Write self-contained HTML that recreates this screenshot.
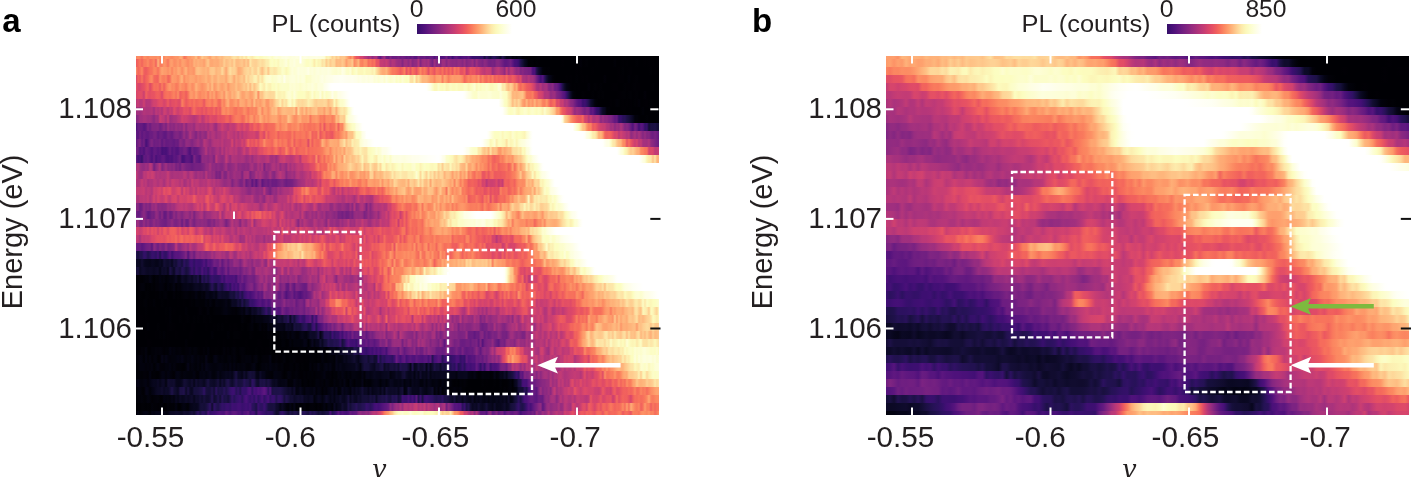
<!DOCTYPE html>
<html><head><meta charset="utf-8"><title>PL maps</title>
<style>
html,body{margin:0;padding:0;background:#fff}
body{width:1412px;height:477px;position:relative;overflow:hidden;font-family:"Liberation Sans",sans-serif}
.hm{position:absolute;overflow:hidden;background:#000}
.hm i{position:absolute;left:0;right:0;display:block}
svg{position:absolute;left:0;top:0}
svg text{font-family:"Liberation Sans",sans-serif;fill:#231f20}
svg text.nu{font-family:"Liberation Serif",serif;font-style:italic}
</style></head><body>
<div class="hm" style="left:135.5px;top:56.0px;width:523.0px;height:359.0px"><i style="top:0px;height:3.3px;background:linear-gradient(90deg,#fb8560,#fc8e64,#fb8761,#f7705c,#fd9266,#fc8c63,#fa7f5e,#fc9065,#fc8e64,#fc8e64,#fc8c63,#fd9668,#fb835f,#fc8c63,#fc8961,#fd9a6a,#fd9266,#fc8e64,#fc8961,#fd9266,#fd9869,#fd9467,#feac76,#feaa74,#f7725c,#fa7f5e,#fd9b6b,#fd9869,#fea36f,#fea571,#fec488,#fd9668,#fea571,#fecc8f,#feb97f,#febb81,#feac76,#fe9d6c,#febb81,#febd82,#feac76,#feb77e,#fec287,#feb77e,#fec88c,#fecd90,#fecd90,#feca8d,#fddc9e,#fde5a7,#fde0a1,#fed395,#fcecae,#fddea0,#fcf4b6,#fde0a1,#fcf9bb,#fcf2b4,#fde9aa,#fcf6b8,#fcfdbf,#fcfdc3,#fcf9bb,#fcfbbd,#fcfdc9,#fcfdc6,#fcfdce,#fdfed4,#fcfdc5,#fdfed5,#fdfedd,#fdfed6,#fdfed5,#fdfee0,#fdfedf,#fefee3,#fdfede,#fdfed9,#fdfedf,#fdfedd,#fefee2,#fdfee0,#fdfed8,#fdfeda,#fefee3,#fdfee2,#fdfedc,#fdfedf,#fdfee1,#fdfee1,#fefee3,#fdfee0,#fdfedf,#fdfedc,#fdfed7,#fceeb0,#fcf4b6,#fdebac,#fecf92,#fde0a1,#feca8d,#fed89a,#fec287,#fec68a,#fec88c,#feb47b,#fd9869,#fb835f,#fea16e,#f7705c,#ea5661,#e75263,#d6456c,#d5446d,#c03a76,#b73779,#a3307e,#ae347b,#942c80,#a5317e,#ab337c,#792282,#651a80,#882781,#9e2f7f,#6e1e81,#681c81,#7e2482,#6a1c81,#6d1d81,#6d1d81,#762181,#6a1c81,#721f81,#6b1d81,#621980,#681c81,#5f187f,#6a1c81,#5a167e,#5a167e,#792282,#651a80,#651a80,#6b1d81,#5f187f,#601880,#681c81,#651a80,#52137c,#6a1c81,#57157e,#51127c,#51127c,#57157e,#701f81,#4c117a,#5c167f,#3d0f71,#57157e,#601880,#4f127b,#471078,#51127c,#54137d,#51127c,#5f187f,#451077,#36106b,#390f6e,#38106c,#36106b,#311165,#311165,#180f3d,#331067,#1e1149,#160f3b,#251255,#29115a,#1d1147,#160f3b,#0c0926,#221150,#120d31,#06051a,#06051a,#07061c,#02020b,#040414,#02020b,#040414,#03030f,#000004,#010106,#000004,#010005,#000004,#000004,#000004,#010106,#010108,#000004,#000004,#000004,#000004,#000004,#010108,#000004,#000004,#000004,#000004,#000004,#000004,#000004,#000004,#000004,#000004,#000004,#000004,#000004,#010005,#000004,#000004,#000004,#000004,#000004,#000004,#000004,#000004,#000004,#000004,#000004,#000004,#000004,#000004,#000004,#010005,#000004,#000004,#000004,#000004,#000004,#000004,#010106,#000004,#000004,#010005,#000004,#000004,#000004,#000004,#000004,#000004,#010005,#000004,#000004,#000004,#000004,#000004,#000004,#010005)"></i><i style="top:3px;height:8.3px;background:linear-gradient(90deg,#ee5b5e,#f3655c,#f9785d,#f2645c,#f97b5d,#f97b5d,#fc8c63,#f7725c,#f9785d,#fc8961,#f1605d,#feb67c,#fa7d5e,#fa7d5e,#fd9869,#fc8c63,#f8745c,#fd9a6a,#fe9f6d,#fc8c63,#fc9065,#fe9f6d,#fc8a62,#fea16e,#fe9f6d,#fd9467,#fc8a62,#fe9d6c,#fd9467,#feb27a,#fea772,#feb27a,#fea973,#feac76,#fe9d6c,#feb67c,#fec88c,#fea973,#fea772,#feae77,#feac76,#feaa74,#feb97f,#feb47b,#fecf92,#febb81,#fec287,#fecd90,#febd82,#fed89a,#febb81,#febb81,#fec287,#fec88c,#feb77e,#fecd90,#feb77e,#fde9aa,#fed597,#fed194,#fecf92,#fdda9c,#fde2a3,#fdda9c,#fde0a1,#fcecae,#fcecae,#fcfdbf,#fcfdc6,#fcfbbd,#fcfdc5,#fcf7b9,#fcfdcd,#fcfdca,#fdfdd2,#fdfedd,#fcfdc7,#fdfeda,#fdfed7,#fdfee1,#fdfed5,#fdfed5,#fdfed6,#fdfed5,#fcfdce,#fcfdc3,#fcfdc2,#fcfdcc,#fcfdc0,#fdebac,#fcfdbf,#fcf4b6,#fcf6b8,#fde2a3,#fcecae,#fecc8f,#fde0a1,#feca8d,#fed799,#fed799,#feb77e,#febd82,#feb97f,#fec88c,#febd82,#fe9d6c,#feb47b,#feb67c,#fec88c,#fc8c63,#fd9b6b,#feb67c,#fb8560,#fa7f5e,#fd9266,#fc9065,#f66e5c,#f9785d,#f4695c,#f8745c,#e85362,#e85362,#c53c74,#c43c75,#bd3977,#c73d73,#ba3878,#a3307e,#b2357b,#ae347b,#9e2f7f,#982d80,#982d80,#832681,#9c2e7f,#9c2e7f,#8e2a81,#a1307e,#862781,#902a81,#912b81,#b2357b,#812581,#9c2e7f,#a1307e,#992d80,#a5317e,#882781,#762181,#9c2e7f,#832681,#8e2a81,#812581,#9e2f7f,#9b2e7f,#862781,#9b2e7f,#902a81,#8c2981,#8e2a81,#892881,#942c80,#902a81,#862781,#982d80,#812581,#8c2981,#8e2a81,#9b2e7f,#802582,#9e2f7f,#882781,#832681,#7c2382,#8c2981,#842681,#752181,#732081,#782281,#732081,#862781,#862781,#7b2382,#6e1e81,#601880,#601880,#671b80,#721f81,#5c167f,#471078,#451077,#390f6e,#20114b,#140e36,#090720,#040414,#000004,#010106,#010106,#000004,#010106,#010005,#000004,#000004,#000004,#000004,#000004,#000004,#000004,#000004,#000004,#000004,#000004,#010005,#000004,#000004,#000004,#000004,#000004,#000004,#010005,#000004,#020109,#000004,#010005,#010106,#000004,#000004,#000004,#000004,#010005,#000004,#000004,#000004,#000004,#000004,#000004,#000004,#000004,#010108,#000004,#000004,#000004,#010005,#000004,#010005,#000004,#000004,#000004,#000004,#010106,#000004,#000004,#000004,#010005,#000004,#010005,#000004,#010005,#000004,#000004,#010106)"></i><i style="top:11px;height:8.3px;background:linear-gradient(90deg,#fc9065,#f2645c,#f7725c,#fc8961,#f1605d,#ed5a5f,#f3655c,#f7725c,#f8745c,#fc8961,#fb8560,#f7705c,#fc8e64,#fea571,#fd9b6b,#fd9b6b,#fc8e64,#fe9f6d,#fb835f,#fe9f6d,#fd9467,#feaa74,#fea36f,#fc8c63,#fea16e,#feb47b,#fd9266,#fe9d6c,#fd9b6b,#fd9266,#feb97f,#fec185,#febb81,#feb47b,#feb078,#feb77e,#feaa74,#fec488,#fec88c,#fec88c,#feb47b,#febd82,#febb81,#fdda9c,#fec287,#fea571,#fec88c,#fde0a1,#fecf92,#fed395,#fec88c,#feaa74,#feae77,#feb97f,#fecc8f,#fed395,#fdda9c,#fecd90,#fde3a5,#fed395,#fecf92,#fdebac,#fed395,#febd82,#fed799,#fde9aa,#fec68a,#fde9aa,#fcecae,#fde3a5,#fde7a9,#fcf4b6,#fcf6b8,#fcfdcb,#fcfdc4,#fcf6b8,#fcfdbf,#fdfdd0,#fdfedc,#fdfed3,#fdfed6,#fdfee2,#fdfeda,#fdfedc,#fdfed9,#fdfedc,#fefee7,#fdfed6,#fdfedc,#fdfed4,#fdfedb,#fdfedf,#fdfed8,#fdfedd,#fdfedc,#fdfeda,#fdfee1,#fdfedb,#fdfed3,#fdfdd0,#fcfdce,#fdfed6,#fdfdd0,#fefee4,#fdfedc,#fcfdcb,#fcfdc7,#fdfed7,#fcf6b8,#fcfdc0,#fcfdcc,#fcf7b9,#fcf7b9,#fcf7b9,#fcfdbf,#fcf6b8,#fcf6b8,#fcf6b8,#fceeb0,#fcf7b9,#fde0a1,#fecc8f,#feb77e,#feaa74,#feaa74,#feb47b,#fd9b6b,#fc8961,#f9795d,#f9795d,#f7725c,#f4695c,#ee5b5e,#f4695c,#fa7f5e,#e75263,#f56b5c,#e75263,#f7705c,#f2625d,#e75263,#f66c5c,#fb8761,#f66c5c,#f97b5d,#f4695c,#e34e65,#f7705c,#f2625d,#e95462,#f7725c,#f56b5c,#f05f5e,#f7725c,#ec5860,#f66c5c,#eb5760,#f56b5c,#e95462,#f9785d,#f2625d,#f7705c,#e55064,#e75263,#f05f5e,#c73d73,#d9466b,#ed5a5f,#e75263,#e95462,#d9466b,#e04c67,#cf4070,#c43c75,#bd3977,#ca3e72,#c73d73,#c43c75,#982d80,#aa337d,#b83779,#bf3a77,#ae347b,#a6317d,#902a81,#c53c74,#982d80,#ba3878,#b5367a,#a02f7f,#912b81,#982d80,#7e2482,#882781,#7c2382,#7b2382,#762181,#762181,#4c117a,#4c117a,#1e1149,#100b2d,#07061c,#020109,#010106,#010005,#010106,#000004,#000004,#000004,#000004,#000004,#000004,#000004,#000004,#000004,#000004,#000004,#000004,#000004,#010005,#000004,#010005,#000004,#000004,#000004,#000004,#000004,#010005,#000004,#000004,#000004,#000004,#000004,#000004,#000004,#000004,#000004,#000004,#000004,#000004,#010005,#000004,#010106,#000004,#000004,#010005,#010005,#000004,#000004,#000004,#000004,#000004,#000004,#000004,#000004,#000004,#010106,#000004,#010005,#000004,#000004)"></i><i style="top:19px;height:8.3px;background:linear-gradient(90deg,#d5446d,#f2625d,#ec5860,#f8765c,#e95462,#f2625d,#f56b5c,#fb835f,#fc8c63,#f4695c,#f3655c,#f1605d,#fd9266,#fa815f,#f97b5d,#fb8761,#f2645c,#f7725c,#fe9d6c,#fd9869,#fd9668,#fb8761,#fea16e,#feb67c,#fc8961,#fe9f6d,#fd9a6a,#fea772,#fea571,#fea36f,#fd9869,#fea772,#fe9f6d,#fea772,#fea973,#feb67c,#fea36f,#fea973,#febf84,#feac76,#feac76,#febf84,#feb67c,#feb47b,#feb77e,#fea36f,#febd82,#fecc8f,#fec287,#fea571,#fec488,#feb47b,#fec185,#feca8d,#feb77e,#fde0a1,#fecd90,#fddea0,#fde0a1,#fcf0b2,#fcf2b4,#fed799,#fcf0b2,#fde0a1,#fcf7b9,#fcfdcc,#fdfdcf,#fdfed3,#fcfdc6,#fcfdcd,#fcfdcd,#fdfed7,#fdfedb,#fcfdce,#fefeec,#fdfdd3,#fdfdd2,#fdfed9,#fdfedc,#fdfedc,#fdfed3,#fdfede,#fdfed4,#fdfedc,#fdfeda,#fcfdc5,#fcfdca,#fcfdcc,#fdfed6,#fdfed7,#fdfedb,#fdfed7,#fdfedf,#fefee5,#fdfedd,#fefee3,#fefee6,#fefee7,#fefee9,#fefeee,#fefeef,#fefef0,#fefff2,#fefff2,#fefef0,#fefeee,#fefeed,#fefeec,#fefeee,#fefeea,#fefee9,#fefee2,#fefee8,#fdfee2,#fdfee0,#fefee5,#fdfede,#fefee3,#fefee3,#fdfed6,#fdfedc,#fdfed3,#fdfeda,#fdfede,#fdfdd0,#fdfee1,#fdfed3,#fcfdcc,#fdfdd2,#fdfed7,#fcfdc6,#fdfdcf,#fcfdc0,#fdfdd3,#fcfdc6,#fcfdbf,#fcfdc6,#fde2a3,#fde0a1,#fcf7b9,#fecf92,#fde0a1,#feca8d,#feb67c,#feb77e,#feb77e,#feac76,#fe9f6d,#fd9b6b,#fc8a62,#fea16e,#fea36f,#fea772,#fa7d5e,#fea571,#fd9668,#fa7f5e,#fd9467,#fe9d6c,#fd9869,#fd9a6a,#fd9b6b,#fd9869,#fc8961,#f4675c,#f9795d,#fc8961,#f97b5d,#fc8a62,#fc8a62,#fa7d5e,#fd9869,#f56b5c,#fb8761,#f66e5c,#f4695c,#f97b5d,#f4675c,#fa7d5e,#ef5d5e,#f66c5c,#f05f5e,#f3655c,#f2625d,#eb5760,#f66e5c,#e85362,#e75263,#f05f5e,#ea5661,#de4968,#d0416f,#e24d66,#ae347b,#ae347b,#a5317e,#b73779,#a5317e,#a5317e,#932b80,#732081,#5a167e,#420f75,#56147d,#2a115c,#130d34,#07061c,#040414,#020109,#010005,#000004,#000004,#000004,#000004,#000004,#010005,#000004,#010005,#000004,#000004,#010106,#000004,#000004,#010005,#000004,#010005,#000004,#000004,#000004,#000004,#000004,#000004,#000004,#000004,#020109,#000004,#000004,#000004,#000004,#000004,#000004,#010005,#010005,#010005,#000004,#000004,#010108,#000004,#000004,#010005,#010106,#000004,#000004,#000004,#000004,#000004,#000004,#000004,#000004,#000004,#000004,#000004)"></i><i style="top:27px;height:8.3px;background:linear-gradient(90deg,#e85362,#d8456c,#d8456c,#e04c67,#e44f64,#ee5b5e,#f4675c,#dc4869,#ed5a5f,#f7725c,#f56b5c,#f7725c,#ec5860,#fa7f5e,#ef5d5e,#f9795d,#fc8e64,#fd9a6a,#fb8761,#fc8e64,#f9795d,#fa7f5e,#fd9b6b,#fc8c63,#fc8c63,#f97b5d,#fd9668,#fea16e,#fc8c63,#fd9467,#feb47b,#fea16e,#fd9a6a,#fc8e64,#fd9869,#fe9f6d,#feb77e,#fd9b6b,#fec185,#fd9869,#fea16e,#feb67c,#fea772,#fe9d6c,#fea973,#feb47b,#fd9467,#feaa74,#feb078,#feae77,#fec185,#feae77,#feb47b,#febd82,#feca8d,#febd82,#fed89a,#feb77e,#fddc9e,#fec185,#fed395,#fde0a1,#fcfdc0,#fcf4b6,#fde9aa,#fcfdc4,#fcf4b6,#fcf0b2,#fcfdbf,#fcfbbd,#fcfdc8,#fcf9bb,#fcfdc6,#fcfdcb,#fcfdc9,#fcfdc9,#fcfdc6,#fdfed5,#fdfdd1,#fdfed6,#fdfdcf,#fdfdd1,#fcfdc8,#fdfdd0,#fdfed4,#fcfdce,#fdfed6,#fdfed4,#fdfedd,#fdfed5,#fdfdd0,#fdfedd,#fdfedc,#fdfedc,#fefee9,#fefeee,#fefff5,#fffffc,#fff,#fff,#fff,#fff,#fff,#fff,#fff,#fff,#fff,#fff,#fff,#fff,#fff,#fff,#fff,#fff,#fff,#fff,#fff,#fff,#fff,#fff,#fff,#fff,#fff,#fff,#fff,#fff,#fff,#fff,#fff,#fff,#fff,#fff,#fff,#fff,#fff,#fff,#fff,#fff,#fff,#fff,#fff,#fff,#fff,#fff,#fff,#fffffd,#fefff0,#fefee4,#fcfdcc,#fcf7b9,#fcf7b9,#fcfdcb,#fcfbbd,#fcf9bb,#fcfdc1,#fcf2b4,#fcf6b8,#fcfdc5,#fcfbbd,#fcfbbd,#fcfdc3,#fcf9bb,#fcf9bb,#fcf9bb,#fcfdc6,#fcfdc0,#fcf4b6,#fcfbbd,#fcfdc6,#fdfed4,#fcf6b8,#fcfdc3,#fcfbbd,#fcfdc8,#fcfdc4,#fdfdcf,#fcfdc5,#fcf9bb,#fcf9bb,#fcfdc4,#fcfdc3,#fdfed9,#fdfdd1,#fde7a9,#fcecae,#fecc8f,#febb81,#fed395,#fec185,#fd9a6a,#feb27a,#f8765c,#f4675c,#f9795d,#f4695c,#ee5b5e,#ea5661,#e85362,#db476a,#ca3e72,#aa337d,#a6317d,#b73779,#9c2e7f,#a5317e,#a5317e,#842681,#812581,#8c2981,#6b1d81,#6b1d81,#57157e,#390f6e,#1c1044,#0b0924,#030312,#02020d,#010005,#000004,#010005,#000004,#010005,#000004,#000004,#000004,#000004,#020109,#000004,#000004,#010106,#010005,#000004,#010106,#000004,#000004,#000004,#000004,#000004,#010005,#010005,#010005,#000004,#000004,#000004,#010106,#010005,#010005,#000004,#010005,#010106,#010005,#010005,#000004,#000004,#000004,#000004,#000004,#000004,#010106,#000004,#000004,#000004)"></i><i style="top:35px;height:8.3px;background:linear-gradient(90deg,#d6456c,#de4968,#e24d66,#e04c67,#ca3e72,#f2625d,#e75263,#e34e65,#e85362,#e75263,#ef5d5e,#f1605d,#ed5a5f,#db476a,#f4675c,#f7705c,#f8745c,#f66c5c,#f9785d,#fb835f,#f66e5c,#fc8e64,#ef5d5e,#f4695c,#f7705c,#ee5b5e,#f7725c,#fd9869,#fd9a6a,#fc8a62,#fea571,#fc9065,#fb8560,#fd9266,#fc8e64,#fe9d6c,#fa7d5e,#fea571,#fc9065,#fea772,#fb835f,#fd9668,#fe9f6d,#feae77,#fc8e64,#febb81,#feaa74,#fe9d6c,#feb77e,#fea973,#feb97f,#fecc8f,#feb47b,#fea16e,#fea36f,#feb47b,#feb078,#fe9f6d,#fea36f,#feb77e,#fed194,#fc8a62,#fec68a,#fec185,#fed799,#fde2a3,#fddc9e,#fed799,#fdda9c,#fdda9c,#fcfdc0,#fcf2b4,#fcf2b4,#fcf7b9,#fcf2b4,#fcfdc6,#fdfdd3,#fdfed4,#fcfdc3,#fdfedc,#fcfdca,#fcfdbf,#fcfdbf,#fcfdbf,#fcfdc3,#fcf6b8,#fcf2b4,#fcfbbd,#fdfed4,#fcf9bb,#fcfdc8,#fcfdc6,#fdfedf,#fcf9bb,#fdfed4,#fcfdc3,#fcfdcb,#fdfdd1,#fefee9,#fdfed6,#fdfed7,#fefee7,#fefee6,#fefeed,#fefff2,#fffff7,#fffffc,#fff,#fff,#fff,#fff,#fff,#fff,#fff,#fff,#fff,#fff,#fff,#fff,#fff,#fff,#fff,#fff,#fff,#fff,#fff,#fff,#fff,#fff,#fff,#fff,#fff,#fff,#fff,#fff,#fff,#fff,#fff,#fff,#fff,#fff,#fff,#fff,#fff,#fff,#fff,#fff,#fff,#fff,#fff,#fff,#fff,#fff,#fff,#fff,#fff,#fff,#fff,#fff,#fff,#fff,#fff,#fff,#fff,#fffff9,#fefeef,#fefee3,#fdfedc,#fcfdce,#fcfdc8,#fcfdc8,#fdfedb,#fdfdd2,#fdfdd1,#fdfdd2,#fdfdd2,#fdfed7,#fdfed6,#fcfdce,#fcfdcd,#fcfdcb,#fcfdca,#fdfedc,#fcfdcc,#fcfdc5,#fcfdc2,#fde5a7,#fddc9e,#feb47b,#febb81,#feb47b,#febb81,#fec185,#fec488,#fea571,#f8765c,#f9785d,#f8745c,#fa815f,#f05f5e,#ed5a5f,#d6456c,#d5446d,#cc3f71,#ae347b,#b3367a,#ad347c,#912b81,#9b2e7f,#9c2e7f,#812581,#792282,#6e1e81,#5d177f,#52137c,#341069,#1d1147,#0b0924,#02020d,#010106,#000004,#000004,#000004,#010106,#010005,#000004,#000004,#000004,#010106,#000004,#000004,#010106,#000004,#010106,#000004,#000004,#000004,#000004,#000004,#000004,#000004,#010005,#010005,#010106,#010106,#000004,#010106,#010106,#000004,#010005,#010106,#000004,#000004,#000004,#020109,#000004,#000004,#000004,#000004,#000004,#000004,#000004)"></i><i style="top:43px;height:8.3px;background:linear-gradient(90deg,#b73779,#c83e73,#b73779,#b83779,#cf4070,#b2357b,#b5367a,#b5367a,#c83e73,#d3436e,#d2426f,#de4968,#e34e65,#e24d66,#d5446d,#de4968,#ee5b5e,#d8456c,#e34e65,#e34e65,#e85362,#e04c67,#df4a68,#fa815f,#f56b5c,#eb5760,#f2625d,#f66e5c,#f2625d,#f8745c,#f2645c,#f4695c,#f7705c,#f66c5c,#e95462,#f9785d,#fa7f5e,#fb8560,#f7705c,#fb8761,#fb8761,#f56b5c,#f4675c,#fd9266,#fa7f5e,#fe9f6d,#feb27a,#fc8a62,#fc8a62,#fd9668,#fea16e,#fb8761,#feac76,#fea973,#fea571,#fd9467,#feaa74,#feaa74,#fc8c63,#febf84,#fd9b6b,#fea772,#fd9a6a,#fea973,#feb67c,#fd9869,#fd9467,#feb27a,#feae77,#fec185,#fed597,#fddc9e,#fcf2b4,#fed395,#fde9aa,#fddea0,#fcf9bb,#fcfdcd,#fceeb0,#fcfdc2,#fde5a7,#fed89a,#fddc9e,#fed799,#fddc9e,#fde0a1,#fcf0b2,#fde9aa,#fde2a3,#fed395,#fecc8f,#fed597,#fed395,#fed395,#fed89a,#fed597,#febd82,#fecc8f,#fed395,#fcf9bb,#fde0a1,#fcf6b8,#fcfdcb,#fcfdcb,#fdfed4,#fefee5,#fefff4,#fff,#fff,#fff,#fff,#fff,#fff,#fff,#fff,#fff,#fff,#fff,#fff,#fff,#fff,#fff,#fff,#fff,#fff,#fff,#fff,#fff,#fff,#fff,#fff,#fff,#fff,#fff,#fff,#fff,#fff,#fff,#fff,#fff,#fff,#fff,#fff,#fff,#fff,#fff,#fff,#fff,#fff,#fff,#fff,#fff,#fff,#fff,#fff,#fff,#fff,#fff,#fff,#fff,#fff,#fff,#fff,#fff,#fff,#fff,#fff,#fff,#fff,#fff,#fff,#fff,#fff,#fff,#fff,#fff,#fff,#fff,#fff,#fff,#fff,#fff,#fefeee,#fdfedf,#fcfdc5,#fcfdbf,#fcecae,#fde0a1,#febb81,#fed597,#fec287,#fed89a,#fec287,#fea16e,#fd9668,#feb77e,#fd9266,#fea772,#fd9467,#feb67c,#fd9266,#fea571,#fe9f6d,#fa815f,#fa7f5e,#fd9869,#f8745c,#ed5a5f,#f4695c,#f7725c,#db476a,#e24d66,#c43c75,#ca3e72,#aa337d,#b3367a,#9e2f7f,#8b2981,#862781,#721f81,#601880,#54137d,#54137d,#390f6e,#3f0f72,#2f1163,#20114b,#0e0b2b,#08071e,#02020b,#010106,#000004,#000004,#000004,#000004,#000004,#000004,#010005,#000004,#010005,#010108,#010106,#000004,#010005,#000004,#010005,#000004,#010005,#000004,#010106,#010005,#020109,#000004,#000004,#010005,#010005,#000004,#010106,#010005,#000004,#000004,#000004)"></i><i style="top:51px;height:8.3px;background:linear-gradient(90deg,#9e2f7f,#a6317d,#9e2f7f,#a8327d,#b5367a,#ae347b,#ae347b,#b0357b,#b5367a,#a02f7f,#bf3a77,#b2357b,#c23b75,#ae347b,#d0416f,#c83e73,#b73779,#cd4071,#c23b75,#e34e65,#d6456c,#ca3e72,#d9466b,#d9466b,#e95462,#e34e65,#e75263,#d6456c,#ed5a5f,#f66e5c,#ee5b5e,#e95462,#ec5860,#e34e65,#ef5d5e,#e44f64,#f05f5e,#ee5b5e,#eb5760,#f66c5c,#e85362,#f4675c,#ec5860,#fc8961,#fc8e64,#fa7f5e,#fc9065,#fa7f5e,#fa815f,#f8745c,#f66e5c,#fa7f5e,#f9785d,#f97b5d,#fc9065,#fb8560,#f7705c,#fb8761,#fa815f,#fc8a62,#fa7f5e,#fea571,#feb27a,#fb8560,#fea36f,#fea36f,#fc8e64,#fea36f,#febb81,#feb67c,#fec488,#fe9d6c,#fea772,#feb97f,#febd82,#feb97f,#feb67c,#feb67c,#feb67c,#fec68a,#fd9467,#fed799,#feb67c,#fea772,#fec287,#fea36f,#febd82,#feb078,#febf84,#fec185,#fec88c,#feac76,#feae77,#feb27a,#fd9b6b,#feb97f,#feb27a,#fd9a6a,#fec488,#fecd90,#feac76,#fed194,#fde2a3,#fde9aa,#fde0a1,#fcecae,#fcfdcc,#fdfede,#fefff4,#fff,#fff,#fff,#fff,#fff,#fff,#fff,#fff,#fff,#fff,#fff,#fff,#fff,#fff,#fff,#fff,#fff,#fff,#fff,#fff,#fff,#fff,#fff,#fff,#fff,#fff,#fff,#fff,#fff,#fff,#fff,#fff,#fff,#fff,#fff,#fff,#fff,#fff,#fff,#fff,#fff,#fff,#fff,#fff,#fff,#fff,#fff,#fff,#fff,#fff,#fff,#fff,#fff,#fff,#fff,#fff,#fff,#fff,#fff,#fff,#fff,#fff,#fff,#fff,#fff,#fff,#fff,#fff,#fff,#fff,#fff,#fff,#fff,#fff,#fffffc,#fefeeb,#fdfedc,#fcfdc6,#fcfdbf,#fcfdc4,#fcfdcf,#fcf7b9,#fcf2b4,#fcfdc0,#fcfdc2,#fdfdcf,#fcfdc7,#fcf9bb,#fcfdc6,#fcfdcc,#fcfdc3,#fcfbbd,#fcfdc7,#fcfbbd,#fcf0b2,#fcfdce,#fcf4b6,#fceeb0,#fde2a3,#fed597,#fec68a,#fd9a6a,#fd9b6b,#f7725c,#ec5860,#e85362,#d8456c,#d0416f,#cf4070,#b3367a,#932b80,#a3307e,#992d80,#932b80,#832681,#762181,#832681,#7c2382,#57157e,#621980,#4a1079,#36106b,#2f1163,#180f3d,#0b0924,#08071e,#010106,#010108,#000004,#000004,#000004,#000004,#000004,#000004,#010005,#010005,#000004,#000004,#010005,#000004,#000004,#000004,#000004,#000004,#010108,#000004,#000004,#000004,#010005,#000004,#000004,#010106,#000004)"></i><i style="top:59px;height:8.3px;background:linear-gradient(90deg,#832681,#8b2981,#a02f7f,#a02f7f,#a8327d,#a5317e,#9e2f7f,#a1307e,#982d80,#892881,#a1307e,#992d80,#cc3f71,#c03a76,#bc3978,#a6317d,#cc3f71,#9b2e7f,#a3307e,#ab337c,#aa337d,#ba3878,#bd3977,#d5446d,#cc3f71,#cf4070,#c73d73,#c03a76,#bc3978,#b3367a,#bd3977,#c73d73,#d8456c,#bc3978,#c43c75,#db476a,#cf4070,#e34e65,#de4968,#dc4869,#d9466b,#e95462,#e55064,#e95462,#ea5661,#f2625d,#f2645c,#e55064,#f3655c,#f7725c,#fa7d5e,#fa7d5e,#f9785d,#f4675c,#f66e5c,#fc8c63,#f8765c,#fd9467,#fd9a6a,#f9795d,#fd9266,#fc8c63,#feb078,#fea16e,#fc8e64,#fe9f6d,#fc8e64,#fe9d6c,#fea571,#fea571,#fea973,#fd9668,#fc8961,#fe9f6d,#fd9869,#fd9a6a,#fec488,#feb67c,#fea16e,#fc8e64,#fc8e64,#fea571,#feae77,#fd9668,#fd9869,#fd9668,#fea16e,#f8745c,#fd9266,#fd9467,#fd9b6b,#fd9266,#f97b5d,#fa815f,#f7725c,#fc8c63,#fc8a62,#fc8e64,#fa7d5e,#fc8961,#febb81,#feb078,#fed194,#fed194,#fec88c,#fcfbbd,#fdfed5,#fdfedf,#fefee4,#fefeef,#fffff6,#fffffd,#fff,#fff,#fff,#fff,#fff,#fff,#fff,#fff,#fff,#fff,#fff,#fff,#fff,#fff,#fff,#fff,#fff,#fff,#fff,#fff,#fff,#fff,#fff,#fff,#fff,#fff,#fff,#fff,#fff,#fff,#fff,#fff,#fff,#fff,#fff,#fff,#fff,#fff,#fff,#fff,#fff,#fff,#fff,#fff,#fff,#fff,#fff,#fff,#fff,#fff,#fff,#fff,#fff,#fff,#fff,#fff,#fff,#fff,#fff,#fff,#fff,#fff,#fff,#fff,#fff,#fff,#fff,#fff,#fff,#fff,#fff,#fff,#fff,#fff,#fff,#fff,#fff,#fff,#fff,#fff,#fff,#fff,#fff,#fff,#fff,#fff,#fff,#fff,#fff,#fff,#fff,#fff,#fff,#fff,#fff,#fff,#fff,#fff,#fff,#fff,#fff,#fdfedd,#fed395,#fec488,#feae77,#fd9266,#fa7f5e,#f7705c,#f2625d,#ee5b5e,#ed5a5f,#f56b5c,#d3436e,#d6456c,#b3367a,#d3436e,#b2357b,#b0357b,#ba3878,#b0357b,#892881,#9e2f7f,#8c2981,#902a81,#812581,#802582,#721f81,#601880,#671b80,#36106b,#390f6e,#29115a,#29115a,#1d1147,#180f3d,#100b2d,#090720,#02020b,#02020b,#010106,#000004,#000004,#000004,#010106,#000004,#000004,#000004,#000004,#000004,#010106)"></i><i style="top:67px;height:8.3px;background:linear-gradient(90deg,#491078,#651a80,#651a80,#651a80,#57157e,#5f187f,#7e2482,#6a1c81,#812581,#812581,#812581,#862781,#701f81,#7c2382,#8e2a81,#782281,#a1307e,#882781,#912b81,#882781,#9b2e7f,#8e2a81,#962c80,#8c2981,#ad347c,#882781,#a5317e,#a3307e,#a8327d,#962c80,#b3367a,#b5367a,#ab337c,#b0357b,#ab337c,#b83779,#a6317d,#ba3878,#bc3978,#a5317e,#962c80,#ba3878,#bc3978,#d0416f,#c23b75,#bd3977,#b3367a,#c73d73,#c23b75,#bf3a77,#cf4070,#e04c67,#d9466b,#cd4071,#e24d66,#d3436e,#d2426f,#eb5760,#e44f64,#f3655c,#f05f5e,#e95462,#f3655c,#f9795d,#f4675c,#f05f5e,#f4695c,#f56b5c,#f56b5c,#f66c5c,#fc8a62,#fd9467,#fa7d5e,#fc9065,#fd9266,#fe9d6c,#fa815f,#fa7d5e,#fc8a62,#fb8560,#fc8961,#fd9668,#f97b5d,#fb8560,#f7725c,#f97b5d,#f7725c,#f7705c,#f9785d,#f7725c,#fa7d5e,#fb835f,#f05f5e,#fb835f,#e95462,#f8745c,#f97b5d,#f3655c,#f66e5c,#f7705c,#fd9266,#f05f5e,#fb8761,#fa815f,#feb77e,#fddc9e,#fceeb0,#fcf7b9,#fcfdc6,#fcfdc9,#fdfee0,#fefee7,#fefff1,#fffffd,#fff,#fff,#fff,#fff,#fff,#fff,#fff,#fff,#fff,#fff,#fff,#fff,#fff,#fff,#fff,#fff,#fff,#fff,#fff,#fff,#fff,#fff,#fff,#fff,#fff,#fff,#fff,#fff,#fff,#fff,#fff,#fff,#fff,#fff,#fff,#fff,#fff,#fff,#fff,#fff,#fff,#fff,#fff,#fff,#fff,#fff,#fff,#fff,#fff,#fff,#fff,#fff,#fff,#fff,#fff,#fff,#fff,#fff,#fff,#fff,#fff,#fff,#fff,#fff,#fff,#fff,#fff,#fff,#fff,#fff,#fff,#fff,#fff,#fff,#fff,#fff,#fff,#fff,#fff,#fff,#fff,#fff,#fff,#fff,#fff,#fff,#fff,#fff,#fff,#fff,#fff,#fff,#fff,#fff,#fff,#fff,#fff,#fff,#fff,#fff,#fff,#fff,#fff,#fff,#fff,#fefee6,#fdfdd2,#fcf9bb,#fde0a1,#fec185,#febd82,#fd9266,#f97b5d,#fb835f,#eb5760,#f1605d,#e75263,#d6456c,#d0416f,#ca3e72,#ca3e72,#b5367a,#b5367a,#9e2f7f,#a8327d,#8c2981,#a02f7f,#942c80,#b0357b,#9c2e7f,#812581,#892881,#7c2382,#651a80,#4f127b,#762181,#671b80,#400f74,#5a167e,#54137d,#311165,#390f6e,#120d31,#1c1044,#1a1042,#1d1147,#160f3b,#120d31)"></i><i style="top:75px;height:8.3px;background:linear-gradient(90deg,#651a80,#56147d,#721f81,#5c167f,#6b1d81,#621980,#5f187f,#6b1d81,#6a1c81,#762181,#752181,#601880,#6e1e81,#6b1d81,#601880,#601880,#752181,#6d1d81,#651a80,#792282,#802582,#812581,#732081,#7e2482,#9b2e7f,#812581,#8b2981,#b0357b,#992d80,#902a81,#7e2482,#9e2f7f,#892881,#9c2e7f,#942c80,#8b2981,#b83779,#a3307e,#b3367a,#b2357b,#a02f7f,#ad347c,#aa337d,#bd3977,#b83779,#b0357b,#cc3f71,#bf3a77,#c03a76,#b2357b,#c43c75,#ad347c,#c83e73,#b83779,#ca3e72,#c53c74,#cf4070,#d3436e,#d3436e,#d6456c,#c83e73,#c83e73,#ee5b5e,#eb5760,#d9466b,#f7725c,#e95462,#f4675c,#f56b5c,#f66c5c,#f9785d,#ee5b5e,#f66e5c,#f56b5c,#f7705c,#f66c5c,#f4675c,#f3655c,#fa7f5e,#f3655c,#f9785d,#f9785d,#f7725c,#f9795d,#f97b5d,#f56b5c,#f8765c,#fc8c63,#f05f5e,#f4695c,#f1605d,#fc8961,#ea5661,#f4675c,#f8745c,#ed5a5f,#f2625d,#ed5a5f,#e95462,#f66c5c,#f97b5d,#f8765c,#fb8761,#fd9668,#fea772,#fd9668,#fec287,#fec287,#fec185,#fde2a3,#fcfdbf,#fcfdc6,#fcfdca,#fefee7,#fefef0,#fffffe,#fff,#fff,#fff,#fff,#fff,#fff,#fff,#fff,#fff,#fff,#fff,#fff,#fff,#fff,#fff,#fff,#fff,#fff,#fff,#fff,#fff,#fff,#fff,#fff,#fff,#fff,#fff,#fff,#fff,#fff,#fff,#fff,#fff,#fff,#fff,#fff,#fff,#fff,#fff,#fff,#fff,#fff,#fff,#fff,#fff,#fff,#fff,#fff,#fff,#fff,#fff,#fff,#fff,#fff,#fff,#fff,#fff,#fff,#fff,#fff,#fffff5,#fefee4,#fdfdd2,#fcfdc2,#fcfdc2,#fcfdc2,#fcfdca,#fcf7b9,#fcfdc7,#fcfdc1,#fcfbbd,#fcf6b8,#fdfdcf,#fcfdc2,#fcf9bb,#fcfdc0,#fcfdbf,#fcf9bb,#fcf4b6,#fdfdd2,#fdfee2,#fefff4,#fff,#fff,#fff,#fff,#fff,#fff,#fff,#fff,#fff,#fff,#fff,#fff,#fff,#fff,#fff,#fff,#fff,#fff,#fff,#fff,#fff,#fff,#fff,#fff,#fff,#fff,#fffff8,#fefee5,#fdfedd,#fcfdc7,#fcecae,#fdebac,#fed597,#fea973,#feb67c,#fd9a6a,#f2645c,#ef5d5e,#f2625d,#f05f5e,#e44f64,#d5446d,#dc4869,#bc3978,#d2426f,#c43c75,#bf3a77,#b0357b,#bd3977,#8e2a81,#9b2e7f,#aa337d,#932b80,#aa337d,#982d80,#832681,#962c80,#812581,#862781,#721f81,#6d1d81,#782281,#6e1e81,#601880)"></i><i style="top:83px;height:8.3px;background:linear-gradient(90deg,#5f187f,#732081,#812581,#601880,#732081,#451077,#59157e,#732081,#802582,#6b1d81,#721f81,#6e1e81,#782281,#5d177f,#732081,#651a80,#671b80,#6b1d81,#681c81,#621980,#6d1d81,#671b80,#892881,#812581,#762181,#932b80,#912b81,#8b2981,#802582,#8e2a81,#942c80,#a3307e,#912b81,#8e2a81,#b73779,#ae347b,#a3307e,#942c80,#aa337d,#b5367a,#b3367a,#b73779,#ae347b,#c03a76,#ad347c,#b2357b,#b5367a,#b5367a,#d9466b,#ae347b,#ca3e72,#bd3977,#bf3a77,#d6456c,#c53c74,#de4968,#f4695c,#e44f64,#ed5a5f,#e44f64,#f2625d,#e44f64,#f4675c,#f4675c,#fc9065,#f7725c,#f66e5c,#f66c5c,#f2625d,#fa7f5e,#fc8a62,#f66e5c,#fa7f5e,#f66e5c,#f9795d,#f97b5d,#f05f5e,#f4695c,#fb835f,#ed5a5f,#f7725c,#f56b5c,#f1605d,#f66c5c,#f66e5c,#f7705c,#dc4869,#fa7d5e,#ee5b5e,#f8765c,#f66c5c,#f56b5c,#f9795d,#feb27a,#fea16e,#fc8a62,#fd9a6a,#feae77,#feac76,#fea973,#feaa74,#fea16e,#fec287,#fecd90,#fde3a5,#febf84,#fed597,#fed194,#fcf0b2,#fde7a9,#fcecae,#fcf0b2,#fdfdd3,#fdfedd,#fefee7,#fefee8,#fefff1,#fefff5,#fffffb,#fff,#fff,#fff,#fff,#fff,#fff,#fff,#fff,#fff,#fff,#fff,#fff,#fff,#fff,#fff,#fff,#fff,#fff,#fff,#fff,#fff,#fff,#fff,#fff,#fff,#fff,#fff,#fff,#fff,#fff,#fff,#fff,#fff,#fff,#fff,#fff,#fff,#fff,#fff,#fff,#fff,#fff,#fff,#fff,#fff,#fff,#fff,#fff,#fff,#fff,#fff,#fff,#fff,#fff,#fffffa,#fefeec,#fdfee0,#fdfed4,#fcf6b8,#fcfdc3,#fdfdd3,#fcecae,#fcfdc1,#fcfdc2,#fcf9bb,#fcf6b8,#fde0a1,#fcfdc3,#fcf4b6,#fcf9bb,#fcfdce,#fcf4b6,#fcfdcd,#fdfed7,#fdfedd,#fdfee2,#fefeec,#fefff1,#fffff9,#fff,#fff,#fff,#fff,#fff,#fff,#fff,#fff,#fff,#fff,#fff,#fff,#fff,#fff,#fff,#fff,#fff,#fff,#fff,#fff,#fff,#fff,#fff,#fff,#fff,#fff,#fff,#fff,#fff,#fff,#fff,#fff,#fff,#fff,#fff,#fffffd,#fefef0,#fefee5,#fefee5,#fcfdc6,#fde9aa,#fde5a7,#fec88c,#feb97f,#feb67c,#fc8c63,#fc8a62,#e85362,#f66e5c,#e95462,#db476a,#ca3e72,#d8456c,#b73779,#c53c74,#a5317e,#a5317e,#a1307e,#b0357b,#902a81,#882781,#7c2382,#721f81,#681c81)"></i><i style="top:91px;height:8.3px;background:linear-gradient(90deg,#752181,#701f81,#52137c,#5d177f,#4c117a,#671b80,#621980,#5a167e,#4e117b,#621980,#5f187f,#54137d,#5f187f,#440f76,#4c117a,#471078,#54137d,#681c81,#52137c,#601880,#54137d,#52137c,#681c81,#651a80,#732081,#721f81,#5d177f,#4a1079,#701f81,#621980,#641a80,#6b1d81,#7e2482,#8e2a81,#982d80,#b73779,#902a81,#a1307e,#932b80,#982d80,#a8327d,#ae347b,#992d80,#bc3978,#a1307e,#bd3977,#b0357b,#bf3a77,#bd3977,#b3367a,#bf3a77,#a8327d,#aa337d,#b83779,#d0416f,#b73779,#ba3878,#db476a,#ca3e72,#cd4071,#c43c75,#d8456c,#e34e65,#e04c67,#ec5860,#eb5760,#f2625d,#f1605d,#ea5661,#f2645c,#f8745c,#f05f5e,#e44f64,#f1605d,#ef5d5e,#fb8761,#f66c5c,#ea5661,#f2625d,#fa7d5e,#ec5860,#f2625d,#f56b5c,#f56b5c,#f4675c,#f9795d,#f2625d,#f66e5c,#f66c5c,#f7705c,#f7705c,#f8745c,#f8765c,#f97b5d,#fc8a62,#fd9869,#fe9d6c,#fb835f,#fe9d6c,#fea973,#fe9d6c,#feac76,#fea571,#feb67c,#fe9f6d,#fec287,#febb81,#febf84,#fecc8f,#fde5a7,#fdebac,#fde7a9,#fcf4b6,#fde9aa,#fde3a5,#fde3a5,#fcf9bb,#fcfbbd,#fcfdc4,#fcfdca,#fdfed8,#fdfdcf,#fdfed7,#fefee8,#fefee9,#fefeec,#fefff3,#fffff9,#fff,#fff,#fff,#fff,#fff,#fff,#fff,#fff,#fff,#fff,#fff,#fff,#fff,#fff,#fff,#fff,#fff,#fff,#fff,#fff,#fff,#fff,#fff,#fff,#fff,#fff,#fff,#fff,#fff,#fff,#fff,#fff,#fff,#fff,#fff,#fff,#fffff9,#fefeef,#fefee9,#fdfed4,#fcfdcc,#fcfdc7,#fcfdc7,#fde9aa,#fde9aa,#fecf92,#fec488,#fed194,#feb47b,#fde2a3,#feb97f,#fec488,#febd82,#fd9a6a,#fd9869,#feb67c,#fea571,#feb27a,#febb81,#feb97f,#fddea0,#fde0a1,#fde0a1,#fcecae,#fde3a5,#fcfdc0,#fcf7b9,#fdfedc,#fdfee0,#fefff4,#fff,#fff,#fff,#fff,#fff,#fff,#fff,#fff,#fff,#fff,#fff,#fff,#fff,#fff,#fff,#fff,#fff,#fff,#fff,#fff,#fff,#fff,#fff,#fff,#fff,#fff,#fff,#fff,#fff,#fff,#fff,#fff,#fff,#fff,#fff,#fff,#fff,#fff,#fff,#fff,#fff,#fff,#fff,#fefff2,#fdfedf,#fdfed5,#fcf7b9,#fceeb0,#fed89a,#fec88c,#fed194,#fec185,#feb078,#feac76,#fc8961,#fb8560,#f8765c,#f8745c,#d6456c,#dc4869,#d9466b,#c03a76,#c23b75,#c53c74)"></i><i style="top:99px;height:8.3px;background:linear-gradient(90deg,#641a80,#451077,#4c117a,#36106b,#641a80,#5d177f,#6b1d81,#5a167e,#4a1079,#671b80,#471078,#57157e,#54137d,#601880,#621980,#4f127b,#4c117a,#54137d,#4c117a,#5f187f,#57157e,#641a80,#732081,#451077,#4a1079,#5c167f,#5d177f,#56147d,#451077,#802582,#671b80,#601880,#59157e,#932b80,#8e2a81,#932b80,#892881,#962c80,#942c80,#792282,#c03a76,#a3307e,#9b2e7f,#942c80,#992d80,#c43c75,#aa337d,#942c80,#b3367a,#ae347b,#ae347b,#a6317d,#a8327d,#ad347c,#a8327d,#992d80,#9e2f7f,#ad347c,#982d80,#ad347c,#ab337c,#ba3878,#b3367a,#ad347c,#ae347b,#b83779,#c03a76,#a6317d,#a1307e,#ad347c,#992d80,#ae347b,#c53c74,#c83e73,#d0416f,#bf3a77,#c03a76,#b83779,#ba3878,#c53c74,#d2426f,#d2426f,#b83779,#e04c67,#e24d66,#e24d66,#eb5760,#f2645c,#ee5b5e,#e75263,#fc8e64,#ea5661,#f56b5c,#fa7f5e,#f4675c,#fb8761,#f9795d,#fc8a62,#fc8a62,#feb97f,#fc8e64,#feb078,#feae77,#fd9467,#fed194,#feb47b,#febd82,#feca8d,#febf84,#fec68a,#fed597,#fecd90,#fde2a3,#fcf6b8,#fddea0,#fddea0,#fcf4b6,#fcfbbd,#fcfdc0,#fcf2b4,#fdebac,#fcfdca,#fcfdcb,#fdfed5,#fcfdc2,#fdfdd2,#fdfed7,#fcfdc7,#fdfedc,#fdfee1,#fdfedf,#fdfee1,#fefee3,#fdfee1,#fdfedf,#fefee3,#fefee6,#fefee7,#fefeec,#fefeeb,#fefeed,#fefeed,#fefff0,#fefff2,#fefff3,#fefff5,#fffff7,#fffff8,#fffffa,#fffffb,#fffffd,#fffffe,#fffff8,#fefeeb,#fefee4,#fcfdca,#fcfdc7,#fcfbbd,#fcf7b9,#fde7a9,#fde0a1,#fceeb0,#fcf2b4,#fde9aa,#fdda9c,#febf84,#fec68a,#feb77e,#fea973,#feac76,#fea16e,#fea16e,#fd9467,#fb8761,#fc8c63,#fb8761,#f66e5c,#fa7d5e,#f3655c,#f05f5e,#f56b5c,#f56b5c,#fb8560,#f97b5d,#fc8e64,#fea16e,#fd9467,#fe9d6c,#fd9266,#feb67c,#feb97f,#fec88c,#fec68a,#fdda9c,#fde9aa,#fcfbbd,#fdfdd2,#fcfdcd,#fdfee1,#fefeea,#fefff3,#fffffc,#fff,#fff,#fff,#fff,#fff,#fff,#fff,#fff,#fff,#fff,#fff,#fff,#fff,#fff,#fff,#fff,#fff,#fff,#fff,#fff,#fff,#fff,#fff,#fff,#fff,#fff,#fff,#fff,#fff,#fff,#fff,#fff,#fff,#fff,#fff,#fff,#fff,#fff,#fff,#fff,#fff,#fff,#fff,#fff,#fff,#fff,#fff,#fff,#fff,#fff,#fefff4,#fefee3,#fdfed8,#fcf4b6,#fde9aa,#fde7a9,#fec287,#fde5a7,#feb67c,#feb27a)"></i><i style="top:107px;height:8.3px;background:linear-gradient(90deg,#a5317e,#b5367a,#9e2f7f,#942c80,#912b81,#a02f7f,#942c80,#ba3878,#ab337c,#701f81,#8c2981,#9c2e7f,#b5367a,#7b2382,#8e2a81,#a1307e,#862781,#8e2a81,#842681,#912b81,#762181,#832681,#6d1d81,#8b2981,#832681,#782281,#762181,#732081,#6b1d81,#732081,#762181,#762181,#752181,#7c2382,#832681,#942c80,#932b80,#ab337c,#8e2a81,#912b81,#882781,#912b81,#892881,#862781,#942c80,#a8327d,#892881,#8c2981,#942c80,#992d80,#a8327d,#8e2a81,#962c80,#8e2a81,#8c2981,#932b80,#8b2981,#a02f7f,#aa337d,#942c80,#932b80,#ae347b,#9b2e7f,#b2357b,#792282,#9c2e7f,#932b80,#992d80,#ad347c,#b0357b,#a02f7f,#b0357b,#942c80,#a8327d,#a3307e,#912b81,#b73779,#a3307e,#b5367a,#aa337d,#b83779,#c23b75,#bd3977,#ba3878,#cd4071,#d0416f,#d0416f,#de4968,#e24d66,#e55064,#f4675c,#f97b5d,#f1605d,#f66c5c,#f4675c,#f4675c,#fd9467,#fa7f5e,#fd9668,#fb835f,#fd9467,#feaa74,#feae77,#feae77,#feb67c,#feb77e,#fec88c,#fed799,#feca8d,#fec287,#feb97f,#fec68a,#fecc8f,#fde9aa,#febf84,#fecc8f,#fecc8f,#fdebac,#fed597,#fec88c,#feca8d,#fdebac,#fed799,#fcf9bb,#fcfbbd,#fde7a9,#fcf2b4,#fcf9bb,#fcf0b2,#fcf6b8,#fcfdbf,#fcfdc8,#fcfdca,#fcf7b9,#fcfdc8,#fcfdc4,#fcfdc2,#fcfdc0,#fcfdce,#fdfdd2,#fcfdbf,#fcfdc0,#fcf2b4,#fcfbbd,#fcfdc7,#fcfdbf,#fcfdc0,#fcf9bb,#fcf7b9,#fcfbbd,#fcfbbd,#fddea0,#fcecae,#fecd90,#fcecae,#fde3a5,#fde0a1,#fcf9bb,#fde3a5,#fde9aa,#fdda9c,#fde2a3,#febf84,#feb77e,#feb47b,#fed597,#fea36f,#fea571,#feb67c,#fea772,#fc8a62,#fea772,#fc8c63,#fd9668,#fb8560,#fb835f,#f4695c,#fb8761,#f2625d,#f56b5c,#f8765c,#ef5d5e,#f4675c,#f56b5c,#f7705c,#f97b5d,#f1605d,#f7725c,#fe9f6d,#f66c5c,#fd9266,#feb67c,#fd9a6a,#feb67c,#fec488,#fcf2b4,#fed89a,#fcf6b8,#fcf2b4,#fcfdc5,#fcfdcb,#fdfedb,#fefeee,#fffffc,#fff,#fff,#fff,#fff,#fff,#fff,#fff,#fff,#fff,#fff,#fff,#fff,#fff,#fff,#fff,#fff,#fff,#fff,#fff,#fff,#fff,#fff,#fff,#fff,#fff,#fff,#fff,#fff,#fff,#fff,#fff,#fff,#fff,#fff,#fff,#fff,#fff,#fff,#fff,#fff,#fff,#fff,#fff,#fff,#fff,#fff,#fff,#fff,#fff,#fff,#fff,#fff,#fff,#fff,#fff,#fff,#fff,#fff)"></i><i style="top:115px;height:8.3px;background:linear-gradient(90deg,#c73d73,#ab337c,#9e2f7f,#9b2e7f,#bf3a77,#b83779,#cc3f71,#c03a76,#cd4071,#c53c74,#ad347c,#b73779,#ad347c,#b3367a,#b0357b,#b3367a,#c83e73,#ae347b,#a6317d,#ad347c,#ad347c,#aa337d,#ae347b,#aa337d,#bc3978,#b83779,#a02f7f,#b73779,#ba3878,#a6317d,#992d80,#aa337d,#a02f7f,#a5317e,#912b81,#ba3878,#992d80,#a1307e,#912b81,#9b2e7f,#792282,#842681,#752181,#a1307e,#832681,#802582,#a3307e,#8e2a81,#932b80,#a3307e,#9b2e7f,#992d80,#9c2e7f,#7b2382,#a6317d,#a6317d,#ad347c,#792282,#8b2981,#8e2a81,#ad347c,#9e2f7f,#ae347b,#9e2f7f,#902a81,#882781,#912b81,#ab337c,#8e2a81,#832681,#9e2f7f,#ad347c,#bc3978,#ad347c,#aa337d,#862781,#9b2e7f,#9c2e7f,#a5317e,#992d80,#b2357b,#ba3878,#ad347c,#aa337d,#b3367a,#bc3978,#c73d73,#b73779,#d9466b,#d0416f,#d6456c,#e95462,#e24d66,#f4695c,#fc8961,#f97b5d,#fb8560,#fb8761,#feac76,#fea973,#fa815f,#fea973,#fd9266,#fc8a62,#fe9d6c,#fd9668,#feb47b,#fc9065,#fc9065,#fd9869,#fea571,#feb27a,#fd9a6a,#fea16e,#fd9668,#feac76,#fea16e,#fed395,#fed194,#fea772,#feb97f,#febf84,#feb67c,#febd82,#fed194,#fec88c,#fecc8f,#fed597,#fdebac,#fdda9c,#fde7a9,#fde9aa,#fcf0b2,#fde7a9,#fde5a7,#fde5a7,#fcf0b2,#fcf0b2,#fceeb0,#fcf6b8,#fdfdd2,#fcf9bb,#fed89a,#fcf9bb,#fde7a9,#fed395,#fcf2b4,#fed89a,#fde5a7,#fec88c,#fddea0,#fec68a,#fed799,#fed395,#feb27a,#fec68a,#fec68a,#febb81,#fe9f6d,#febb81,#feac76,#febf84,#fd9668,#feb078,#fe9d6c,#febb81,#fa7f5e,#fd9668,#f9785d,#f66c5c,#fb8761,#f97b5d,#fa7d5e,#e95462,#ea5661,#f4695c,#e85362,#f56b5c,#f7705c,#ec5860,#ee5b5e,#ef5d5e,#ed5a5f,#f05f5e,#f05f5e,#f56b5c,#f4695c,#f7705c,#fa7d5e,#fa815f,#fd9467,#fea772,#fec88c,#fd9b6b,#feaa74,#fec88c,#fed597,#fddea0,#fcfdc3,#fde2a3,#fcfdbf,#fcfdc3,#fdfeda,#fefee6,#fefee9,#fefff2,#fffff9,#fff,#fff,#fff,#fff,#fff,#fff,#fff,#fff,#fff,#fff,#fff,#fff,#fff,#fff,#fff,#fff,#fff,#fff,#fff,#fff,#fff,#fff,#fff,#fff,#fff,#fff,#fff,#fff,#fff,#fff,#fff,#fff,#fff,#fff,#fff,#fff,#fff,#fff,#fff,#fff,#fff,#fff,#fff,#fff,#fff,#fff,#fff,#fff,#fff,#fff,#fff,#fff,#fff,#fff,#fff)"></i><i style="top:123px;height:8.3px;background:linear-gradient(90deg,#b5367a,#ab337c,#b3367a,#c73d73,#b5367a,#bf3a77,#a6317d,#b2357b,#ae347b,#bc3978,#ba3878,#ad347c,#bc3978,#ba3878,#a5317e,#ba3878,#ca3e72,#b0357b,#ca3e72,#c73d73,#bf3a77,#c23b75,#b0357b,#c43c75,#a6317d,#aa337d,#bf3a77,#a8327d,#d0416f,#ba3878,#c03a76,#c03a76,#ae347b,#b2357b,#b83779,#b0357b,#c53c74,#bd3977,#b0357b,#bc3978,#aa337d,#b2357b,#a8327d,#a02f7f,#942c80,#962c80,#9e2f7f,#a02f7f,#7c2382,#912b81,#9b2e7f,#8e2a81,#7c2382,#7b2382,#9b2e7f,#6b1d81,#782281,#842681,#5c167f,#7b2382,#59157e,#792282,#902a81,#5d177f,#6e1e81,#752181,#6a1c81,#792282,#6a1c81,#6d1d81,#6a1c81,#752181,#7c2382,#832681,#762181,#6b1d81,#732081,#732081,#762181,#842681,#8b2981,#9b2e7f,#a1307e,#a8327d,#aa337d,#bf3a77,#b83779,#bd3977,#b3367a,#bf3a77,#c53c74,#dc4869,#c53c74,#e95462,#e85362,#e34e65,#e55064,#f4675c,#f4695c,#e85362,#f4695c,#f56b5c,#fa7f5e,#f9785d,#fc8a62,#fa7d5e,#fa815f,#fd9b6b,#fb8560,#fb835f,#fc8c63,#f9795d,#f8765c,#fc8e64,#fc8961,#f97b5d,#fea16e,#fea16e,#fe9d6c,#fd9668,#fe9d6c,#fd9b6b,#feb47b,#fd9467,#feb078,#feae77,#fe9f6d,#febd82,#feb27a,#fed597,#fecd90,#febd82,#feb97f,#feb67c,#feb67c,#fec68a,#feac76,#fed194,#fecd90,#fec185,#fecf92,#fde7a9,#fec88c,#fddea0,#fec185,#febd82,#fed395,#fea571,#fecf92,#febf84,#feb67c,#febd82,#febb81,#fecc8f,#fec287,#feb77e,#feb078,#fea36f,#feb27a,#fb8560,#feb47b,#fe9f6d,#fa7d5e,#fd9668,#f9785d,#f8745c,#ed5a5f,#f1605d,#f2645c,#ef5d5e,#ef5d5e,#e34e65,#ec5860,#d2426f,#d9466b,#ba3878,#d3436e,#cd4071,#cd4071,#d2426f,#df4a68,#c53c74,#d6456c,#c53c74,#f2625d,#f1605d,#ee5b5e,#f66c5c,#f66e5c,#f1605d,#fa7d5e,#fc8c63,#fc8e64,#fc8a62,#fc8e64,#fec488,#feb078,#febd82,#feaa74,#fed597,#fed89a,#fed194,#fcf9bb,#fcf2b4,#fcfdc4,#fdfdcf,#fdfed5,#fefee7,#fefff4,#fff,#fff,#fff,#fff,#fff,#fff,#fff,#fff,#fff,#fff,#fff,#fff,#fff,#fff,#fff,#fff,#fff,#fff,#fff,#fff,#fff,#fff,#fff,#fff,#fff,#fff,#fff,#fff,#fff,#fff,#fff,#fff,#fff,#fff,#fff,#fff,#fff,#fff,#fff,#fff,#fff,#fff,#fff,#fff,#fff,#fff,#fff,#fff,#fff,#fff,#fff,#fff,#fff)"></i><i style="top:131px;height:8.3px;background:linear-gradient(90deg,#c23b75,#c43c75,#c23b75,#c53c74,#ca3e72,#b5367a,#c23b75,#bc3978,#b0357b,#d2426f,#ca3e72,#d5446d,#db476a,#ca3e72,#e95462,#dc4869,#e34e65,#e95462,#d0416f,#cd4071,#d6456c,#e04c67,#e04c67,#b83779,#e24d66,#ca3e72,#d6456c,#bd3977,#c23b75,#d2426f,#b5367a,#d6456c,#c43c75,#cd4071,#cc3f71,#c03a76,#d8456c,#e34e65,#cd4071,#ad347c,#c53c74,#bf3a77,#cd4071,#c03a76,#db476a,#c73d73,#c53c74,#b5367a,#ab337c,#b2357b,#b2357b,#b2357b,#aa337d,#a02f7f,#a1307e,#982d80,#8c2981,#8b2981,#9b2e7f,#9c2e7f,#902a81,#902a81,#982d80,#8e2a81,#b83779,#902a81,#862781,#752181,#8e2a81,#982d80,#8e2a81,#aa337d,#992d80,#a6317d,#ad347c,#ae347b,#ad347c,#ba3878,#b5367a,#e24d66,#df4a68,#e85362,#eb5760,#fa7d5e,#f56b5c,#fc8c63,#fa7d5e,#ef5d5e,#f05f5e,#f3655c,#f3655c,#df4a68,#df4a68,#f56b5c,#e85362,#e44f64,#eb5760,#d5446d,#c53c74,#b73779,#d9466b,#c23b75,#db476a,#ba3878,#d0416f,#d6456c,#c83e73,#d3436e,#d2426f,#df4a68,#d0416f,#de4968,#ef5d5e,#f2625d,#f66c5c,#ee5b5e,#ea5661,#f2625d,#f56b5c,#f4695c,#fa7f5e,#f2645c,#f66e5c,#f1605d,#f8745c,#fd9266,#fc8961,#fd9b6b,#fe9f6d,#feb078,#fd9b6b,#feb67c,#feb97f,#fec185,#fec68a,#fea973,#fd9b6b,#fea973,#fec68a,#fea571,#fe9f6d,#fea16e,#fea16e,#fec185,#feaa74,#feae77,#fec68a,#fec287,#febf84,#fea571,#fd9467,#feb27a,#fec68a,#fea571,#fea36f,#f8745c,#febf84,#fe9f6d,#fb8761,#fe9d6c,#fc8e64,#fd9a6a,#feaa74,#f9785d,#fa7f5e,#f7705c,#f3655c,#f7705c,#f9795d,#f3655c,#eb5760,#f1605d,#ed5a5f,#f05f5e,#e34e65,#e85362,#f2625d,#e24d66,#ec5860,#e55064,#e95462,#e34e65,#fb835f,#f66c5c,#f7705c,#f8765c,#ef5d5e,#f4675c,#f9785d,#f4695c,#f97b5d,#fe9f6d,#f9785d,#fd9266,#fea36f,#fea973,#feae77,#fea973,#fec88c,#fea16e,#fed597,#fec287,#fdda9c,#fcecae,#fcfdcb,#fcfbbd,#fcfdc8,#fefee3,#fefee6,#fefeed,#fefff4,#fffffb,#fff,#fff,#fff,#fff,#fff,#fff,#fff,#fff,#fff,#fff,#fff,#fff,#fff,#fff,#fff,#fff,#fff,#fff,#fff,#fff,#fff,#fff,#fff,#fff,#fff,#fff,#fff,#fff,#fff,#fff,#fff,#fff,#fff,#fff,#fff,#fff,#fff,#fff,#fff,#fff,#fff,#fff,#fff,#fff,#fff,#fff,#fff,#fff,#fff,#fff)"></i><i style="top:139px;height:8.3px;background:linear-gradient(90deg,#b73779,#ab337c,#ba3878,#ba3878,#bf3a77,#b83779,#c73d73,#ae347b,#bc3978,#d6456c,#bf3a77,#d9466b,#cc3f71,#c53c74,#cc3f71,#df4a68,#c83e73,#c03a76,#d6456c,#d9466b,#dc4869,#c03a76,#d9466b,#d6456c,#d3436e,#d2426f,#df4a68,#d9466b,#db476a,#f05f5e,#df4a68,#d2426f,#d6456c,#d8456c,#cc3f71,#e95462,#ee5b5e,#d3436e,#e34e65,#cd4071,#cd4071,#bd3977,#d2426f,#df4a68,#de4968,#d3436e,#c83e73,#d8456c,#dc4869,#b83779,#c43c75,#bc3978,#b0357b,#a6317d,#a8327d,#b2357b,#b0357b,#ae347b,#bc3978,#a02f7f,#982d80,#962c80,#aa337d,#9c2e7f,#8c2981,#ad347c,#b73779,#a8327d,#b2357b,#992d80,#9b2e7f,#b3367a,#b83779,#b5367a,#b73779,#b73779,#d6456c,#bd3977,#cd4071,#e34e65,#d2426f,#e55064,#e95462,#f3655c,#d9466b,#ed5a5f,#e75263,#f3655c,#e85362,#e04c67,#ec5860,#e85362,#e85362,#e44f64,#dc4869,#c73d73,#cd4071,#ca3e72,#c83e73,#c53c74,#bf3a77,#b73779,#bc3978,#ae347b,#b0357b,#c53c74,#b83779,#bd3977,#b5367a,#a6317d,#b73779,#d2426f,#ba3878,#b3367a,#c53c74,#b5367a,#b3367a,#ab337c,#ae347b,#cf4070,#d3436e,#d9466b,#e85362,#e24d66,#ec5860,#ea5661,#ee5b5e,#f3655c,#fb8761,#fc8a62,#f9785d,#fc8a62,#fd9467,#fc8961,#fea16e,#fc8e64,#fd9869,#fd9a6a,#fb8560,#fc8961,#fd9869,#feb97f,#feb27a,#feb27a,#fea36f,#fea772,#feae77,#feb078,#fd9467,#fe9f6d,#fe9d6c,#febb81,#fe9f6d,#fd9a6a,#feb27a,#fe9d6c,#feb078,#fd9266,#febd82,#fe9d6c,#fd9b6b,#fc9065,#fc8c63,#fc8961,#fa7d5e,#fc9065,#eb5760,#f1605d,#f4675c,#f3655c,#f9785d,#f4695c,#f1605d,#e95462,#f9795d,#f4695c,#fa815f,#df4a68,#f7725c,#eb5760,#e85362,#f3655c,#f66c5c,#f66e5c,#f3655c,#fa7d5e,#f9795d,#fd9869,#fc8a62,#feaa74,#fea973,#fec488,#feae77,#feaa74,#feac76,#feca8d,#fcfdc7,#feb77e,#fec68a,#fdebac,#fde3a5,#fcf0b2,#fde5a7,#fcecae,#fcecae,#fde7a9,#fcfbbd,#fcf9bb,#fdfdd0,#fcfdc3,#fdfed5,#fefee7,#fefff1,#fffffb,#fff,#fff,#fff,#fff,#fff,#fff,#fff,#fff,#fff,#fff,#fff,#fff,#fff,#fff,#fff,#fff,#fff,#fff,#fff,#fff,#fff,#fff,#fff,#fff,#fff,#fff,#fff,#fff,#fff,#fff,#fff,#fff,#fff,#fff,#fff,#fff,#fff,#fff,#fff,#fff,#fff,#fff,#fff,#fff,#fff,#fff,#fff,#fff)"></i><i style="top:147px;height:8.3px;background:linear-gradient(90deg,#832681,#892881,#6a1c81,#721f81,#912b81,#7e2482,#8b2981,#792282,#9b2e7f,#932b80,#a3307e,#862781,#8e2a81,#882781,#8b2981,#8c2981,#a3307e,#982d80,#a6317d,#a02f7f,#b2357b,#bc3978,#bf3a77,#c43c75,#b83779,#c53c74,#ba3878,#b5367a,#b0357b,#c23b75,#c83e73,#db476a,#c23b75,#de4968,#b83779,#cf4070,#ec5860,#d2426f,#ca3e72,#c83e73,#ec5860,#e24d66,#cc3f71,#cc3f71,#ae347b,#cd4071,#e04c67,#b3367a,#d9466b,#d3436e,#de4968,#c23b75,#cc3f71,#d8456c,#cd4071,#cf4070,#c03a76,#c03a76,#ba3878,#c23b75,#c03a76,#bc3978,#a1307e,#aa337d,#bc3978,#ca3e72,#ae347b,#b3367a,#ba3878,#c83e73,#d0416f,#bf3a77,#bc3978,#b0357b,#c03a76,#b73779,#bd3977,#ae347b,#ca3e72,#b5367a,#a6317d,#ba3878,#ab337c,#c23b75,#cc3f71,#c03a76,#b5367a,#ab337c,#ad347c,#cf4070,#bf3a77,#a1307e,#a1307e,#b2357b,#ab337c,#a8327d,#ad347c,#932b80,#942c80,#aa337d,#9e2f7f,#932b80,#932b80,#9e2f7f,#992d80,#8e2a81,#882781,#a3307e,#892881,#b5367a,#8c2981,#942c80,#ab337c,#b2357b,#a02f7f,#7c2382,#a02f7f,#882781,#a02f7f,#b3367a,#b73779,#b0357b,#b5367a,#bd3977,#b3367a,#b73779,#d2426f,#cf4070,#e34e65,#e44f64,#ed5a5f,#f66e5c,#f7705c,#fb835f,#f8765c,#f4695c,#f66c5c,#f4695c,#fa7d5e,#f7725c,#f66c5c,#fc8e64,#fe9f6d,#f8745c,#fe9f6d,#fd9668,#fb835f,#fc8961,#fc9065,#feb67c,#fd9668,#feaa74,#fc8a62,#fea36f,#fe9f6d,#fc8961,#fc8a62,#fd9b6b,#f97b5d,#fd9266,#fa7d5e,#fc9065,#fd9668,#fd9869,#fd9266,#fc8961,#fa815f,#f97b5d,#fa7d5e,#fa7f5e,#f97b5d,#fb8560,#f8765c,#f4695c,#fc8c63,#f9795d,#f66c5c,#f9795d,#fb8560,#fc8961,#fc9065,#feac76,#fa7d5e,#feae77,#fea571,#fea772,#fd9467,#febd82,#fed597,#fec185,#febd82,#fec287,#fddc9e,#fddea0,#fcf7b9,#fddea0,#fcf0b2,#fed597,#fde0a1,#fcf2b4,#fddc9e,#fde7a9,#fecc8f,#fecf92,#fed89a,#fed799,#fde5a7,#fcfdc2,#fcf2b4,#fcfdbf,#fdfdd2,#fcfdcc,#fdfed5,#fdfede,#fefeec,#fefff3,#fffffd,#fff,#fff,#fff,#fff,#fff,#fff,#fff,#fff,#fff,#fff,#fff,#fff,#fff,#fff,#fff,#fff,#fff,#fff,#fff,#fff,#fff,#fff,#fff,#fff,#fff,#fff,#fff,#fff,#fff,#fff,#fff,#fff,#fff,#fff,#fff,#fff,#fff,#fff,#fff,#fff,#fff,#fff,#fff,#fff,#fff)"></i><i style="top:155px;height:8.3px;background:linear-gradient(90deg,#782281,#641a80,#681c81,#7e2482,#8c2981,#792282,#621980,#681c81,#782281,#732081,#932b80,#8b2981,#6e1e81,#8c2981,#651a80,#671b80,#882781,#6b1d81,#732081,#932b80,#7b2382,#942c80,#8e2a81,#812581,#932b80,#9b2e7f,#9b2e7f,#862781,#a1307e,#782281,#942c80,#9b2e7f,#a8327d,#b0357b,#8c2981,#992d80,#a1307e,#9e2f7f,#ab337c,#b0357b,#b3367a,#a6317d,#d8456c,#a1307e,#b2357b,#cc3f71,#c53c74,#c83e73,#d2426f,#c23b75,#c83e73,#d9466b,#e24d66,#c23b75,#d0416f,#db476a,#e85362,#d3436e,#ee5b5e,#e24d66,#f1605d,#ee5b5e,#f4695c,#de4968,#ec5860,#e24d66,#dc4869,#eb5760,#d0416f,#df4a68,#c23b75,#ba3878,#cf4070,#de4968,#c43c75,#ae347b,#bf3a77,#b5367a,#ae347b,#b83779,#ba3878,#bd3977,#a3307e,#c53c74,#aa337d,#962c80,#9e2f7f,#aa337d,#992d80,#a6317d,#962c80,#ad347c,#a02f7f,#982d80,#a6317d,#8b2981,#932b80,#992d80,#912b81,#892881,#902a81,#792282,#7c2382,#732081,#802582,#732081,#752181,#842681,#792282,#932b80,#982d80,#942c80,#982d80,#962c80,#7c2382,#842681,#992d80,#892881,#932b80,#a02f7f,#a8327d,#932b80,#ad347c,#bd3977,#bc3978,#cf4070,#ba3878,#d5446d,#e34e65,#db476a,#e44f64,#eb5760,#cc3f71,#e24d66,#f4675c,#e44f64,#f4695c,#f7725c,#fb8560,#f8765c,#fc8c63,#fb835f,#fe9f6d,#fa7f5e,#fb8560,#fd9668,#feac76,#fd9b6b,#fd9a6a,#fd9467,#feb47b,#fea36f,#feb47b,#febd82,#fdda9c,#fec68a,#fed194,#fde9aa,#fceeb0,#fde7a9,#fcf6b8,#fcfdc1,#fdfdd1,#fdfed7,#fefee9,#fefee8,#fefeed,#fefff1,#fffff6,#fffffb,#fff,#fff,#fff,#fff,#fff,#fff,#fff,#fff,#fefff5,#fefee6,#fdfed9,#fcfdcd,#fcfdc0,#fceeb0,#fddea0,#feae77,#fed597,#fec185,#fea16e,#fea571,#fc8e64,#fa7f5e,#fea36f,#fec185,#fea772,#fea571,#fea16e,#feac76,#fea571,#fd9b6b,#fea16e,#feb77e,#feaa74,#fd9467,#febd82,#febb81,#fed194,#fec68a,#feca8d,#fecf92,#fecc8f,#fde2a3,#fddc9e,#fde0a1,#fcf6b8,#fcfdc3,#fdfdd2,#fdfee1,#fefeec,#fefeef,#fffff8,#fff,#fff,#fff,#fff,#fff,#fff,#fff,#fff,#fff,#fff,#fff,#fff,#fff,#fff,#fff,#fff,#fff,#fff,#fff,#fff,#fff,#fff,#fff,#fff,#fff,#fff,#fff,#fff,#fff,#fff,#fff,#fff,#fff,#fff,#fff,#fff,#fff,#fff,#fff,#fff,#fff)"></i><i style="top:163px;height:8.3px;background:linear-gradient(90deg,#8b2981,#a3307e,#7e2482,#7c2382,#982d80,#7b2382,#912b81,#792282,#7e2482,#932b80,#812581,#892881,#7c2382,#762181,#721f81,#6e1e81,#802582,#812581,#912b81,#7e2482,#782281,#812581,#8e2a81,#681c81,#912b81,#701f81,#701f81,#9c2e7f,#892881,#762181,#892881,#912b81,#8b2981,#932b80,#8b2981,#8e2a81,#7b2382,#7e2482,#902a81,#7e2482,#992d80,#912b81,#a5317e,#a3307e,#932b80,#762181,#892881,#9e2f7f,#bc3978,#a1307e,#ab337c,#a5317e,#832681,#b0357b,#a6317d,#982d80,#b83779,#b2357b,#dc4869,#9c2e7f,#b3367a,#c23b75,#c03a76,#d2426f,#d6456c,#d0416f,#cc3f71,#c23b75,#cd4071,#d6456c,#cc3f71,#ae347b,#df4a68,#c23b75,#d0416f,#bc3978,#cd4071,#b73779,#cc3f71,#c53c74,#a8327d,#862781,#b0357b,#9e2f7f,#b73779,#ae347b,#a3307e,#9b2e7f,#9b2e7f,#b83779,#b0357b,#a02f7f,#a6317d,#ad347c,#9e2f7f,#892881,#b73779,#9c2e7f,#992d80,#a1307e,#942c80,#932b80,#a5317e,#982d80,#a6317d,#a6317d,#bc3978,#9e2f7f,#a5317e,#9e2f7f,#b73779,#b0357b,#b0357b,#c53c74,#b2357b,#b3367a,#a1307e,#9e2f7f,#b0357b,#ba3878,#ad347c,#b0357b,#ca3e72,#bc3978,#bf3a77,#c43c75,#bd3977,#db476a,#e55064,#e44f64,#ed5a5f,#ca3e72,#ed5a5f,#e55064,#f4675c,#e75263,#f4675c,#f9795d,#f66c5c,#f56b5c,#f56b5c,#f97b5d,#f8765c,#f56b5c,#fc8c63,#fea16e,#fd9467,#fea36f,#feaa74,#fe9f6d,#fea571,#fea36f,#febd82,#feca8d,#febd82,#fed194,#fceeb0,#fde0a1,#fcf6b8,#fcf6b8,#fcf4b6,#fcfdc7,#fcfdc9,#fcfdc9,#fcfdcf,#fdfdd3,#fdfed5,#fdfed7,#fdfeda,#fdfed5,#fdfee2,#fdfedc,#fdfedd,#fefee4,#fdfedf,#fcfdca,#fdfdd1,#fdfed3,#fcfdce,#fcf6b8,#fcf9bb,#fde9aa,#fcecae,#fde2a3,#fecc8f,#feb77e,#fe9d6c,#feb078,#f9795d,#fea16e,#fe9f6d,#fd9668,#fc8e64,#fc8e64,#fd9266,#f9795d,#fc8e64,#fb8560,#fc8a62,#f2645c,#f97b5d,#fc9065,#fc8c63,#fea973,#fb8761,#feb47b,#feb47b,#feb078,#feac76,#fea973,#feae77,#febb81,#fecd90,#fddea0,#fde7a9,#fcf4b6,#fcf9bb,#fceeb0,#fcf9bb,#fdfed6,#fdfed6,#fefeea,#fffff6,#fff,#fff,#fff,#fff,#fff,#fff,#fff,#fff,#fff,#fff,#fff,#fff,#fff,#fff,#fff,#fff,#fff,#fff,#fff,#fff,#fff,#fff,#fff,#fff,#fff,#fff,#fff,#fff,#fff,#fff,#fff,#fff,#fff,#fff,#fff,#fff,#fff,#fff,#fff)"></i><i style="top:171px;height:8.3px;background:linear-gradient(90deg,#d5446d,#d3436e,#c73d73,#cd4071,#df4a68,#d9466b,#e85362,#d5446d,#e95462,#df4a68,#e75263,#cd4071,#e95462,#d8456c,#ed5a5f,#ea5661,#db476a,#ef5d5e,#f05f5e,#f1605d,#ed5a5f,#de4968,#ef5d5e,#d3436e,#df4a68,#e55064,#cf4070,#ed5a5f,#e95462,#de4968,#c23b75,#d0416f,#df4a68,#db476a,#c43c75,#ba3878,#ca3e72,#b83779,#b0357b,#d6456c,#c23b75,#c43c75,#ba3878,#c83e73,#c83e73,#b83779,#b3367a,#b2357b,#c23b75,#b73779,#a5317e,#c53c74,#b3367a,#b83779,#c43c75,#b73779,#ba3878,#ae347b,#ba3878,#bf3a77,#ba3878,#b5367a,#b73779,#b73779,#bf3a77,#b73779,#c53c74,#ba3878,#cf4070,#c53c74,#bc3978,#cc3f71,#ba3878,#eb5760,#c23b75,#ca3e72,#dc4869,#c43c75,#bf3a77,#bf3a77,#d9466b,#bd3977,#df4a68,#d3436e,#ca3e72,#d9466b,#cc3f71,#c73d73,#bc3978,#b83779,#cf4070,#b0357b,#b73779,#b73779,#cc3f71,#ba3878,#ca3e72,#ea5661,#cf4070,#e44f64,#d2426f,#c23b75,#ca3e72,#ca3e72,#d8456c,#dc4869,#d6456c,#d0416f,#cc3f71,#d2426f,#cc3f71,#cf4070,#f1605d,#e44f64,#cf4070,#de4968,#e24d66,#df4a68,#d9466b,#e55064,#e44f64,#e95462,#ef5d5e,#e24d66,#e95462,#e44f64,#e24d66,#e55064,#ed5a5f,#e85362,#e55064,#e95462,#f1605d,#f8765c,#f8765c,#e75263,#f2645c,#f8745c,#f4675c,#f66e5c,#f3655c,#f9785d,#f8765c,#f66e5c,#fb8560,#fc9065,#fc8a62,#f8765c,#fc8e64,#fd9a6a,#fea36f,#fea772,#fea772,#fd9a6a,#fea772,#fea772,#fd9b6b,#fd9b6b,#fb835f,#fd9467,#fb8560,#fb8761,#fe9f6d,#fb8560,#fb835f,#f7725c,#f2645c,#f3655c,#f7705c,#f7705c,#ec5860,#f3655c,#f66c5c,#f05f5e,#f2645c,#f4675c,#f8765c,#f4675c,#f9795d,#ea5661,#fa7d5e,#f56b5c,#fa7f5e,#fd9266,#fb8761,#fa815f,#fd9668,#fa7d5e,#fd9b6b,#fd9b6b,#fea36f,#fd9b6b,#feb078,#feb77e,#feb77e,#fec488,#feb47b,#fde0a1,#fed799,#fde5a7,#fde3a5,#fcf0b2,#fcf6b8,#fdfdd2,#fcfdcd,#fdfedb,#fefee5,#fefeeb,#fefff3,#fffffa,#fff,#fff,#fff,#fff,#fff,#fff,#fff,#fff,#fff,#fff,#fff,#fff,#fff,#fff,#fff,#fff,#fff,#fff,#fff,#fff,#fff,#fff,#fff,#fff,#fff,#fff,#fff,#fff,#fff,#fff,#fff,#fff,#fff,#fff,#fff,#fff,#fff,#fff,#fff,#fff,#fff,#fff,#fff,#fff,#fff,#fff,#fff,#fff,#fff,#fff,#fff,#fff)"></i><i style="top:179px;height:8.3px;background:linear-gradient(90deg,#bf3a77,#bf3a77,#a6317d,#c73d73,#c03a76,#c83e73,#c53c74,#cc3f71,#db476a,#db476a,#e34e65,#e75263,#e55064,#e85362,#e24d66,#e85362,#f05f5e,#ea5661,#f1605d,#ee5b5e,#f56b5c,#e85362,#f2645c,#f66e5c,#ec5860,#f2625d,#f2645c,#ee5b5e,#f4675c,#ef5d5e,#e95462,#f1605d,#ec5860,#f9795d,#d5446d,#e75263,#e34e65,#e24d66,#c73d73,#de4968,#d2426f,#df4a68,#c53c74,#e34e65,#cc3f71,#c43c75,#cc3f71,#b2357b,#b5367a,#c83e73,#ba3878,#bd3977,#9c2e7f,#a6317d,#a1307e,#cc3f71,#b2357b,#c43c75,#ad347c,#bd3977,#a6317d,#a8327d,#ad347c,#b2357b,#982d80,#b3367a,#a8327d,#ae347b,#b5367a,#b5367a,#ba3878,#ca3e72,#cc3f71,#d5446d,#b73779,#bf3a77,#bd3977,#bd3977,#cc3f71,#cf4070,#c53c74,#ca3e72,#d8456c,#c83e73,#d8456c,#cc3f71,#d2426f,#e34e65,#c73d73,#d3436e,#df4a68,#d2426f,#e24d66,#ed5a5f,#e34e65,#d3436e,#cc3f71,#d8456c,#d0416f,#cd4071,#e04c67,#e04c67,#c53c74,#d3436e,#cf4070,#e34e65,#e04c67,#e75263,#de4968,#e34e65,#e55064,#df4a68,#e95462,#cc3f71,#eb5760,#d2426f,#de4968,#e55064,#e55064,#d6456c,#e85362,#d0416f,#e75263,#e55064,#f56b5c,#ea5661,#e75263,#e85362,#e85362,#f05f5e,#f2645c,#f9795d,#e95462,#f66e5c,#e95462,#f2645c,#f97b5d,#fa7d5e,#f9795d,#f4675c,#fa7f5e,#fc8961,#f1605d,#f66c5c,#f9795d,#fa7d5e,#fa7f5e,#f9795d,#f8745c,#fc8961,#f8765c,#f97b5d,#fb835f,#fa815f,#fb8761,#fb8560,#fa815f,#fc8c63,#f1605d,#f8745c,#f7725c,#f56b5c,#f66c5c,#f7705c,#f2645c,#fb8761,#fb835f,#f05f5e,#f7725c,#f66c5c,#f1605d,#ed5a5f,#f1605d,#ec5860,#e44f64,#ef5d5e,#e85362,#ee5b5e,#d3436e,#d6456c,#b73779,#d6456c,#cc3f71,#e34e65,#ea5661,#e44f64,#ee5b5e,#e24d66,#df4a68,#f66c5c,#f66c5c,#f66c5c,#f3655c,#fb835f,#fb8761,#feae77,#f4695c,#fb8761,#feb47b,#fec68a,#fed395,#fddea0,#fde2a3,#fcfdc4,#fcfdc2,#fcfdbf,#fcfdc4,#fdfed6,#fcfdc5,#fcfdcb,#fdfed8,#fdfeda,#fefee7,#fefeec,#fefff1,#fefff4,#fffff7,#fffffa,#fffffc,#fff,#fff,#fff,#fff,#fff,#fff,#fff,#fff,#fff,#fff,#fff,#fff,#fff,#fff,#fff,#fff,#fff,#fff,#fff,#fff,#fff,#fff,#fff,#fff,#fff,#fff,#fff,#fff,#fff,#fff,#fff,#fff,#fff,#fff,#fff,#fff,#fff,#fff,#fff,#fff,#fff,#fff,#fff)"></i><i style="top:187px;height:8.3px;background:linear-gradient(90deg,#681c81,#641a80,#671b80,#59157e,#621980,#6d1d81,#721f81,#752181,#59157e,#8e2a81,#7e2482,#6b1d81,#862781,#782281,#762181,#942c80,#752181,#792282,#802582,#882781,#bf3a77,#912b81,#8b2981,#9c2e7f,#a6317d,#b0357b,#962c80,#c03a76,#ad347c,#a6317d,#ad347c,#c43c75,#c43c75,#c53c74,#d6456c,#f2645c,#f05f5e,#e24d66,#e34e65,#f4675c,#e55064,#e24d66,#ed5a5f,#ec5860,#ee5b5e,#f66e5c,#f1605d,#f1605d,#f2645c,#e95462,#db476a,#dc4869,#ea5661,#cf4070,#c83e73,#d6456c,#c03a76,#bc3978,#c83e73,#bf3a77,#b73779,#b83779,#d0416f,#cc3f71,#c43c75,#cf4070,#eb5760,#e04c67,#ef5d5e,#f56b5c,#f66e5c,#fc8a62,#fc8961,#fe9f6d,#febb81,#feae77,#fecd90,#fec185,#fecc8f,#fecc8f,#fec185,#fed89a,#fed799,#fec185,#feb67c,#feaa74,#feb078,#feb27a,#fea772,#fd9266,#fb8560,#fa7d5e,#f66e5c,#ec5860,#f97b5d,#e44f64,#e34e65,#f4695c,#ee5b5e,#ee5b5e,#e44f64,#e85362,#ee5b5e,#f9785d,#eb5760,#e75263,#eb5760,#e55064,#db476a,#cf4070,#e85362,#d0416f,#ee5b5e,#df4a68,#e24d66,#dc4869,#df4a68,#e55064,#f05f5e,#eb5760,#ef5d5e,#ee5b5e,#f66c5c,#f66c5c,#f7705c,#ef5d5e,#f2625d,#ef5d5e,#fa7d5e,#e75263,#fc8e64,#f8745c,#f7705c,#fa7d5e,#f8765c,#f8765c,#fa815f,#fb8560,#f8745c,#fd9467,#f4695c,#fc8a62,#fa815f,#f66e5c,#fc8a62,#fd9266,#f4675c,#fc8961,#fa7d5e,#fb835f,#f3655c,#fb8761,#fc8e64,#fa7d5e,#f66e5c,#f7725c,#f9795d,#f7705c,#ef5d5e,#f05f5e,#ed5a5f,#f66c5c,#fb8761,#fa7d5e,#f2645c,#f2645c,#f7725c,#f66c5c,#f8745c,#f3655c,#ec5860,#f2625d,#f7705c,#ed5a5f,#f7705c,#de4968,#e34e65,#e75263,#e04c67,#e95462,#e24d66,#e34e65,#ea5661,#ca3e72,#d8456c,#f05f5e,#db476a,#d3436e,#d9466b,#d6456c,#e44f64,#ea5661,#ec5860,#f05f5e,#eb5760,#f66e5c,#fa815f,#f4695c,#f97b5d,#fe9f6d,#fd9668,#fecc8f,#fec68a,#fed89a,#fdebac,#fcfdcc,#fde3a5,#fcf4b6,#fcf0b2,#fcfdc2,#fcfdbf,#fcfdc5,#fcfdce,#fcfdcd,#fdfed4,#fdfedc,#fdfede,#fefee3,#fefee8,#fefef0,#fefff5,#fffffb,#fff,#fff,#fff,#fff,#fff,#fff,#fff,#fff,#fff,#fff,#fff,#fff,#fff,#fff,#fff,#fff,#fff,#fff,#fff,#fff,#fff,#fff,#fff,#fff,#fff,#fff,#fff,#fff,#fff,#fff,#fff,#fff,#fff,#fff,#fff,#fff,#fff,#fff,#fff,#fff)"></i><i style="top:195px;height:8.3px;background:linear-gradient(90deg,#241253,#150e38,#221150,#221150,#341069,#2f1163,#20114b,#2a115c,#38106c,#36106b,#2d1161,#440f76,#21114e,#451077,#341069,#2f1163,#440f76,#5c167f,#3b0f70,#52137c,#59157e,#57157e,#5c167f,#651a80,#6e1e81,#832681,#51127c,#7b2382,#862781,#6a1c81,#8c2981,#942c80,#882781,#942c80,#8e2a81,#882781,#932b80,#932b80,#ab337c,#982d80,#ab337c,#ae347b,#b3367a,#a6317d,#ad347c,#9c2e7f,#9b2e7f,#bf3a77,#b83779,#9e2f7f,#a1307e,#c43c75,#b3367a,#c03a76,#c53c74,#b2357b,#c23b75,#a8327d,#b83779,#c53c74,#cd4071,#c03a76,#cd4071,#c53c74,#e44f64,#d5446d,#e95462,#f2625d,#f2625d,#f7725c,#fb835f,#fea36f,#feaa74,#feb078,#feb97f,#febf84,#feae77,#feb97f,#febd82,#fecf92,#fecc8f,#fed194,#feb97f,#fde5a7,#fec287,#feb47b,#febb81,#feb67c,#fea772,#feb77e,#fc8e64,#fb835f,#f56b5c,#fc8961,#f2645c,#ed5a5f,#d8456c,#db476a,#db476a,#e44f64,#e95462,#ea5661,#d5446d,#e04c67,#ec5860,#e34e65,#e55064,#e95462,#e24d66,#dc4869,#f2625d,#c73d73,#de4968,#e55064,#e34e65,#e55064,#e44f64,#f2645c,#db476a,#e55064,#e55064,#ed5a5f,#f05f5e,#f66e5c,#f97b5d,#f2645c,#f7725c,#fd9668,#fb8560,#f2645c,#fc8a62,#fb835f,#fb835f,#fb8761,#fc8e64,#fb8761,#fc9065,#fb8761,#fc8e64,#fc8a62,#f8745c,#f56b5c,#fe9d6c,#f8745c,#f7705c,#fd9266,#fd9266,#fa7f5e,#fd9668,#f9795d,#f97b5d,#f56b5c,#fe9d6c,#fa7f5e,#fc8961,#f2645c,#fb835f,#f05f5e,#f66e5c,#fb835f,#fc8c63,#fc8e64,#f8745c,#f1605d,#f9795d,#f56b5c,#f97b5d,#f9785d,#fc8a62,#f8765c,#f4675c,#f66e5c,#f1605d,#ee5b5e,#ec5860,#ed5a5f,#e85362,#ec5860,#db476a,#e44f64,#ec5860,#de4968,#d8456c,#f2625d,#df4a68,#f4675c,#e75263,#ed5a5f,#f2625d,#e55064,#e75263,#ef5d5e,#ef5d5e,#f56b5c,#ef5d5e,#f2625d,#f9795d,#f8745c,#f97b5d,#fd9869,#fd9668,#fd9467,#fec287,#febf84,#feae77,#fed194,#fcf0b2,#fde7a9,#fde5a7,#fcf4b6,#fcf0b2,#fcf7b9,#fcfdc6,#fcfdbf,#fdfeda,#fcfdbf,#fcfdcc,#fdfedf,#fdfee0,#fefeea,#fefeec,#fefff1,#fffff6,#fffffc,#fff,#fff,#fff,#fff,#fff,#fff,#fff,#fff,#fff,#fff,#fff,#fff,#fff,#fff,#fff,#fff,#fff,#fff,#fff,#fff,#fff,#fff,#fff,#fff,#fff,#fff,#fff,#fff,#fff,#fff,#fff,#fff,#fff,#fff,#fff,#fff,#fff,#fff)"></i><i style="top:203px;height:8.3px;background:linear-gradient(90deg,#0b0924,#0b0924,#090720,#120d31,#0a0822,#07061c,#07061c,#060518,#090720,#08071e,#060518,#06051a,#0b0924,#06051a,#140e36,#100b2d,#0d0a29,#130d34,#08071e,#19103f,#130d34,#21114e,#221150,#160f3b,#2f1163,#21114e,#251255,#3d0f71,#400f74,#2f1163,#400f74,#3b0f70,#3b0f70,#420f75,#54137d,#3b0f70,#5a167e,#52137c,#5c167f,#732081,#6d1d81,#671b80,#862781,#5f187f,#762181,#842681,#6a1c81,#842681,#7e2482,#992d80,#932b80,#912b81,#7b2382,#902a81,#ad347c,#a3307e,#932b80,#9b2e7f,#892881,#a5317e,#982d80,#962c80,#9e2f7f,#b73779,#9b2e7f,#8b2981,#cd4071,#ad347c,#ae347b,#a8327d,#c73d73,#c23b75,#c53c74,#c43c75,#ca3e72,#c53c74,#bf3a77,#cf4070,#c73d73,#bd3977,#ca3e72,#ae347b,#ca3e72,#c03a76,#b83779,#d5446d,#e75263,#e24d66,#de4968,#cf4070,#ca3e72,#d9466b,#d8456c,#e34e65,#f05f5e,#e85362,#e34e65,#e34e65,#cc3f71,#e55064,#df4a68,#d3436e,#db476a,#d9466b,#e24d66,#d3436e,#e55064,#d9466b,#d6456c,#ec5860,#de4968,#e24d66,#d8456c,#f05f5e,#e85362,#ee5b5e,#e95462,#ef5d5e,#e34e65,#ec5860,#e75263,#f05f5e,#f7725c,#f2645c,#f66e5c,#f8765c,#fc9065,#fb8761,#f3655c,#fd9668,#f66c5c,#f8745c,#fc8c63,#fea16e,#f97b5d,#f8765c,#fb835f,#fc8961,#fd9b6b,#fb8761,#fa7f5e,#fa7d5e,#fb8761,#fc8a62,#f8745c,#fa7f5e,#fc8e64,#fea36f,#fc8961,#f1605d,#f97b5d,#fc9065,#fc8c63,#feaa74,#fd9a6a,#feac76,#feb078,#fea772,#feac76,#feb27a,#fea973,#febb81,#feb27a,#febd82,#feb078,#fed89a,#feca8d,#fed89a,#febb81,#febf84,#feca8d,#fec68a,#fec488,#feca8d,#fec488,#fecc8f,#feb27a,#fec68a,#fa7d5e,#feb47b,#fea571,#fe9d6c,#fe9f6d,#fd9668,#fd9869,#f97b5d,#f97b5d,#fb8560,#f7725c,#f7705c,#f9795d,#f7705c,#f2625d,#ee5b5e,#f4695c,#f7705c,#f8745c,#f8765c,#f66e5c,#f56b5c,#f9795d,#f97b5d,#f97b5d,#fc9065,#febf84,#fd9467,#fe9d6c,#feb27a,#fea36f,#feac76,#feb47b,#fec488,#fdda9c,#fde0a1,#fecf92,#fde7a9,#fde7a9,#fcfbbd,#fcfbbd,#fdfdd3,#fdfee0,#fdfeda,#fefee4,#fefeec,#fefff3,#fffffb,#fff,#fff,#fff,#fff,#fff,#fff,#fff,#fff,#fff,#fff,#fff,#fff,#fff,#fff,#fff,#fff,#fff,#fff,#fff,#fff,#fff,#fff,#fff,#fff,#fff,#fff,#fff,#fff,#fff,#fff,#fff,#fff,#fff,#fff,#fff,#fff)"></i><i style="top:211px;height:8.3px;background:linear-gradient(90deg,#120d31,#19103f,#090720,#0e0b2b,#100b2d,#0c0926,#0a0822,#0c0926,#0b0924,#090720,#0c0926,#0d0a29,#040414,#0e0b2b,#0c0926,#100b2d,#060518,#1e1149,#130d34,#0a0822,#1e1149,#1d1147,#150e38,#271258,#221150,#160f3b,#1c1044,#2a115c,#3f0f72,#271258,#440f76,#38106c,#2f1163,#4f127b,#36106b,#420f75,#2c115f,#491078,#5a167e,#420f75,#420f75,#6d1d81,#651a80,#57157e,#621980,#7e2482,#59157e,#782281,#752181,#752181,#721f81,#7e2482,#6b1d81,#792282,#8c2981,#802582,#8b2981,#9c2e7f,#812581,#7e2482,#b0357b,#a5317e,#ab337c,#a1307e,#aa337d,#b3367a,#aa337d,#a3307e,#a02f7f,#982d80,#8c2981,#a8327d,#a6317d,#cd4071,#a3307e,#9b2e7f,#c23b75,#9e2f7f,#a3307e,#b3367a,#b2357b,#b2357b,#ab337c,#962c80,#992d80,#9e2f7f,#b0357b,#a6317d,#bc3978,#b3367a,#b83779,#992d80,#bc3978,#ae347b,#ca3e72,#bc3978,#c83e73,#c83e73,#b83779,#b73779,#cf4070,#d3436e,#b83779,#ae347b,#cf4070,#b2357b,#c53c74,#ab337c,#d6456c,#d0416f,#c83e73,#c23b75,#b0357b,#d8456c,#e34e65,#e24d66,#d3436e,#eb5760,#ea5661,#d8456c,#db476a,#e55064,#f7705c,#ec5860,#fa7f5e,#f97b5d,#ea5661,#f66c5c,#fea973,#f9795d,#fc8961,#fb8761,#fb8560,#fb8560,#fd9a6a,#fea36f,#feac76,#feb67c,#fe9d6c,#fea571,#fec287,#fec185,#fea772,#febb81,#fcf4b6,#fed194,#fed89a,#fde9aa,#fcf0b2,#fde3a5,#fcf4b6,#fdfed5,#fcfdcb,#fdfedd,#fefeea,#fefeee,#fffff7,#fff,#fff,#fff,#fff,#fff,#fff,#fff,#fff,#fff,#fff,#fff,#fff,#fff,#fff,#fff,#fff,#fff,#fff,#fff,#fff,#fff,#fff,#fff,#fff,#fff,#fff,#fff,#fffff7,#fdfed6,#fcecae,#feca8d,#fec185,#fb835f,#fb8560,#f1605d,#de4968,#e24d66,#d6456c,#e85362,#e04c67,#df4a68,#f1605d,#e75263,#e75263,#e34e65,#e44f64,#f4675c,#f8745c,#f66c5c,#f9795d,#fa7d5e,#fe9d6c,#fc8c63,#fea16e,#fd9467,#fc9065,#fc8c63,#fe9d6c,#febd82,#feb078,#fed799,#feca8d,#febb81,#fde2a3,#fde2a3,#fcfdc9,#fcfdc1,#fcf9bb,#fdfdd0,#fdfed4,#fefee2,#fefff2,#fffffd,#fff,#fff,#fff,#fff,#fff,#fff,#fff,#fff,#fff,#fff,#fff,#fff,#fff,#fff,#fff,#fff,#fff,#fff,#fff,#fff,#fff,#fff,#fff,#fff,#fff,#fff,#fff,#fff,#fff,#fff,#fff,#fff)"></i><i style="top:219px;height:8.3px;background:linear-gradient(90deg,#000004,#010005,#010106,#010005,#010108,#02020b,#020109,#040414,#02020b,#000004,#02020b,#020109,#030312,#02020b,#03030f,#010108,#02020b,#030312,#03030f,#040414,#0a0822,#03030f,#030312,#0d0a29,#0a0822,#07061c,#0d0a29,#110c2f,#0a0822,#150e38,#110c2f,#1e1149,#07061c,#29115a,#1a1042,#29115a,#1c1044,#2c115f,#390f6e,#311165,#2f1163,#2f1163,#36106b,#4e117b,#390f6e,#54137d,#4e117b,#4e117b,#4c117a,#52137c,#400f74,#671b80,#5d177f,#762181,#601880,#671b80,#762181,#782281,#752181,#6e1e81,#842681,#8c2981,#a1307e,#a5317e,#902a81,#ab337c,#912b81,#942c80,#982d80,#902a81,#a5317e,#ad347c,#892881,#9b2e7f,#942c80,#992d80,#8b2981,#a1307e,#992d80,#962c80,#aa337d,#842681,#8b2981,#942c80,#9c2e7f,#982d80,#a3307e,#b3367a,#a1307e,#a5317e,#ae347b,#912b81,#bf3a77,#c43c75,#d5446d,#a6317d,#bc3978,#bc3978,#bd3977,#a3307e,#882781,#b0357b,#b2357b,#b0357b,#a1307e,#9e2f7f,#a6317d,#992d80,#982d80,#a5317e,#ab337c,#992d80,#942c80,#a6317d,#c23b75,#bc3978,#cf4070,#d3436e,#df4a68,#d2426f,#de4968,#ea5661,#e24d66,#e24d66,#f56b5c,#f9795d,#ef5d5e,#f9795d,#fa7f5e,#fb8560,#fb835f,#fb835f,#fd9467,#fec68a,#feca8d,#fde3a5,#fed395,#fcfbbd,#fcfdc3,#fcfdc4,#fdfedc,#fdfed6,#fdfedf,#fdfee1,#fefee9,#fefef0,#fffff5,#fffffb,#fff,#fff,#fff,#fff,#fff,#fff,#fff,#fff,#fff,#fff,#fff,#fff,#fff,#fff,#fff,#fff,#fff,#fff,#fff,#fff,#fff,#fff,#fff,#fff,#fff,#fff,#fff,#fff,#fff,#fff,#fff,#fff,#fff,#fff,#fff,#fff,#fffff7,#fdfed5,#fde2a3,#fec287,#fec287,#fd9a6a,#f97b5d,#e95462,#ea5661,#f66c5c,#c73d73,#e55064,#bf3a77,#bd3977,#db476a,#d0416f,#d3436e,#e75263,#f05f5e,#e44f64,#d8456c,#db476a,#e95462,#f4675c,#f2645c,#f3655c,#f9785d,#e55064,#fa7f5e,#f9795d,#fa7d5e,#fc8c63,#fc8961,#fb8560,#fa7f5e,#feaa74,#fd9a6a,#feb078,#fe9f6d,#febf84,#fecf92,#fec88c,#fddc9e,#fed194,#fddea0,#fcecae,#fcf0b2,#fcfbbd,#fcfdbf,#fcfdce,#fdfeda,#fdfed9,#fdfee1,#fefee6,#fefeec,#fefff5,#fffffd,#fff,#fff,#fff,#fff,#fff,#fff,#fff,#fff,#fff,#fff,#fff,#fff,#fff,#fff,#fff,#fff,#fff,#fff,#fff,#fff,#fff)"></i><i style="top:227px;height:8.3px;background:linear-gradient(90deg,#000004,#010005,#020109,#02020b,#02020b,#000004,#010106,#000004,#010108,#000004,#020109,#020109,#02020d,#02020d,#020109,#000004,#02020d,#010108,#02020b,#040414,#010005,#02020d,#020109,#030312,#050416,#050416,#06051a,#040414,#050416,#08071e,#0a0822,#0a0822,#07061c,#0b0924,#100b2d,#0a0822,#0c0926,#180f3d,#29115a,#19103f,#110c2f,#2a115c,#221150,#180f3d,#2a115c,#331067,#420f75,#2c115f,#4e117b,#3f0f72,#4e117b,#3d0f71,#641a80,#5a167e,#51127c,#6a1c81,#762181,#802582,#842681,#671b80,#762181,#892881,#932b80,#842681,#a6317d,#a1307e,#812581,#882781,#a5317e,#792282,#aa337d,#9e2f7f,#752181,#842681,#892881,#671b80,#5f187f,#8b2981,#732081,#5f187f,#812581,#802582,#762181,#6e1e81,#681c81,#6a1c81,#962c80,#9b2e7f,#882781,#942c80,#9b2e7f,#a5317e,#ae347b,#c73d73,#b83779,#ca3e72,#c03a76,#d0416f,#c53c74,#d3436e,#ba3878,#a8327d,#ca3e72,#a8327d,#a6317d,#c53c74,#aa337d,#ad347c,#b2357b,#b73779,#bf3a77,#ae347b,#a8327d,#c43c75,#b5367a,#b2357b,#c43c75,#c83e73,#c73d73,#ad347c,#e85362,#d6456c,#cd4071,#ea5661,#f4695c,#f7705c,#f7705c,#fa7f5e,#f4695c,#f4695c,#feb47b,#feae77,#febf84,#feb67c,#fcf7b9,#fdebac,#fcfdc8,#fcf6b8,#fcf4b6,#fcfdcc,#fdfdd1,#fcfdc9,#fefee4,#fdfed5,#fefee2,#fefee3,#fcfdce,#fdfed3,#fcfdc1,#fcfdc4,#fcf9bb,#fcfdc1,#fde9aa,#fcf2b4,#fcf0b2,#fcf0b2,#fecc8f,#fddc9e,#fed597,#fed395,#fd9668,#fd9869,#fd9668,#fea973,#fd9b6b,#fea772,#fea772,#feb97f,#feb67c,#fe9d6c,#fea16e,#fb8560,#fd9668,#fd9a6a,#fd9266,#feb77e,#f66e5c,#fc8a62,#fd9266,#fe9d6c,#fd9467,#f7705c,#f9795d,#fc8e64,#fb8761,#fd9467,#fc8961,#f9795d,#f8745c,#fa815f,#f4695c,#f56b5c,#fa7d5e,#f2645c,#f66c5c,#d9466b,#ea5661,#ef5d5e,#f1605d,#e95462,#e95462,#dc4869,#e34e65,#e95462,#d8456c,#d5446d,#f05f5e,#f66e5c,#f66c5c,#e95462,#ef5d5e,#f05f5e,#f7705c,#f9795d,#f3655c,#fa7f5e,#fa815f,#fd9668,#fa815f,#fc8e64,#f7725c,#fc8c63,#fea16e,#fc8961,#fd9467,#fea571,#fea571,#fea16e,#feac76,#fec287,#fed597,#fed395,#fecd90,#fde3a5,#febf84,#fcecae,#fde3a5,#fde7a9,#fde7a9,#fcf6b8,#fcfdc1,#fcfdbf,#fcfdc3,#fdfed5,#fdfee1,#fefee4,#fefee9,#fefeed,#fefff3,#fefff5,#fffff8,#fffffa,#fffffc,#fff,#fff,#fff,#fff,#fff,#fff,#fff,#fff,#fff)"></i><i style="top:235px;height:8.3px;background:linear-gradient(90deg,#000004,#010005,#010106,#000004,#000004,#010106,#010106,#000004,#000004,#000004,#010005,#000004,#010108,#000004,#010108,#020109,#000004,#000004,#000004,#020109,#000004,#010106,#000004,#010106,#020109,#02020b,#020109,#010106,#020109,#020109,#030312,#020109,#010108,#03030f,#020109,#060518,#06051a,#030312,#040414,#08071e,#03030f,#0d0a29,#100b2d,#0c0926,#0d0a29,#0b0924,#0c0926,#160f3b,#19103f,#140e36,#251255,#1d1147,#331067,#20114b,#38106c,#420f75,#4e117b,#440f76,#4f127b,#57157e,#6a1c81,#59157e,#681c81,#5c167f,#8e2a81,#812581,#802582,#882781,#902a81,#7c2382,#802582,#651a80,#641a80,#7e2482,#6a1c81,#4f127b,#5f187f,#681c81,#732081,#57157e,#651a80,#59157e,#4f127b,#5a167e,#671b80,#621980,#6e1e81,#782281,#8c2981,#b3367a,#a3307e,#ae347b,#c43c75,#9e2f7f,#aa337d,#b83779,#bc3978,#e75263,#d2426f,#d5446d,#e55064,#cf4070,#d9466b,#de4968,#c83e73,#de4968,#d5446d,#cf4070,#c73d73,#ba3878,#de4968,#bc3978,#bf3a77,#bf3a77,#bd3977,#c53c74,#b2357b,#bf3a77,#cf4070,#b73779,#c83e73,#bc3978,#d0416f,#d9466b,#d2426f,#f1605d,#d8456c,#f66c5c,#f3655c,#f9795d,#f8745c,#fd9a6a,#fea16e,#fc8a62,#fea973,#feb078,#fec88c,#feb27a,#fed799,#fed597,#fde9aa,#febf84,#fde3a5,#feae77,#fec488,#fed597,#feca8d,#fde7a9,#fed395,#fed597,#fecd90,#fed194,#feb67c,#feca8d,#feb078,#feb47b,#feb27a,#feaa74,#fd9266,#fc9065,#fc8a62,#fd9266,#fc8a62,#f2625d,#f05f5e,#fb835f,#f1605d,#f7725c,#ee5b5e,#f4695c,#f2645c,#e75263,#f56b5c,#f4695c,#ef5d5e,#d5446d,#df4a68,#ea5661,#ee5b5e,#df4a68,#cd4071,#e24d66,#f2625d,#e75263,#f7725c,#ee5b5e,#f9795d,#e95462,#f2625d,#f66c5c,#eb5760,#fd9668,#f8745c,#ee5b5e,#f4695c,#ef5d5e,#f05f5e,#f66e5c,#ed5a5f,#f56b5c,#e44f64,#ea5661,#e44f64,#e75263,#d6456c,#e34e65,#e44f64,#d2426f,#ec5860,#ea5661,#e24d66,#f1605d,#f4675c,#ec5860,#f4675c,#f9795d,#f7705c,#f7705c,#f7725c,#f66c5c,#fc9065,#fb835f,#f97b5d,#f2645c,#fd9467,#fc9065,#fd9b6b,#fea36f,#fea36f,#feb078,#febd82,#feaa74,#feb97f,#feb078,#feca8d,#febf84,#fec488,#fed194,#fed194,#fecd90,#fde0a1,#fdebac,#fde5a7,#fde3a5,#fcfbbd,#fcf2b4,#fceeb0,#fcf2b4,#fcfdbf,#fdfdd0,#fdfed5,#fdfed5,#fcfdce,#fdfed8,#fefee4,#fefee6,#fefee9,#fefeee,#fefff2,#fffff7,#fffffc,#fff)"></i><i style="top:243px;height:8.3px;background:linear-gradient(90deg,#010005,#000004,#010005,#000004,#010106,#010108,#000004,#010005,#000004,#010108,#000004,#000004,#000004,#010106,#000004,#000004,#010005,#000004,#000004,#000004,#000004,#010005,#000004,#000004,#010005,#000004,#000004,#010005,#010106,#000004,#010108,#010108,#010106,#010106,#010106,#02020d,#010106,#03030f,#010108,#010005,#03030f,#02020d,#02020b,#02020d,#03030f,#050416,#02020d,#03030f,#0b0924,#0a0822,#0a0822,#150e38,#0d0a29,#221150,#120d31,#1d1147,#21114e,#38106c,#341069,#3b0f70,#451077,#4f127b,#57157e,#491078,#4f127b,#5f187f,#4f127b,#56147d,#752181,#7c2382,#762181,#701f81,#701f81,#7c2382,#912b81,#762181,#802582,#792282,#782281,#842681,#671b80,#732081,#7e2482,#7c2382,#6a1c81,#9b2e7f,#ab337c,#8b2981,#a3307e,#a02f7f,#9e2f7f,#902a81,#b3367a,#ba3878,#b5367a,#d9466b,#d6456c,#f4675c,#f4675c,#f3655c,#fd9266,#fc8e64,#fc8a62,#f4695c,#f4675c,#f66c5c,#ea5661,#e34e65,#e85362,#df4a68,#c53c74,#d8456c,#cc3f71,#e34e65,#ca3e72,#c83e73,#c03a76,#d2426f,#c73d73,#cc3f71,#d8456c,#de4968,#d5446d,#d2426f,#d8456c,#d2426f,#ee5b5e,#eb5760,#dc4869,#e04c67,#ea5661,#f9795d,#e85362,#f3655c,#f56b5c,#ee5b5e,#f4675c,#fb8761,#fb835f,#f05f5e,#f97b5d,#f9785d,#fc8a62,#f4695c,#fa7f5e,#fc8a62,#f66c5c,#f9795d,#f9785d,#f97b5d,#f56b5c,#fd9869,#f9785d,#ef5d5e,#f2625d,#f1605d,#f8745c,#f8765c,#fa815f,#f9795d,#f3655c,#f2645c,#f66c5c,#f56b5c,#e24d66,#e75263,#ef5d5e,#de4968,#e34e65,#d5446d,#e95462,#d6456c,#d2426f,#db476a,#d2426f,#d5446d,#de4968,#cc3f71,#d0416f,#e55064,#d6456c,#db476a,#e95462,#d3436e,#ed5a5f,#e24d66,#dc4869,#df4a68,#de4968,#ee5b5e,#e44f64,#d6456c,#e95462,#f4695c,#f05f5e,#e95462,#e24d66,#f1605d,#de4968,#e55064,#c23b75,#d2426f,#c53c74,#c83e73,#cd4071,#c83e73,#d5446d,#e04c67,#d6456c,#c83e73,#e34e65,#d2426f,#dc4869,#e95462,#e24d66,#e34e65,#e55064,#df4a68,#eb5760,#e85362,#f66e5c,#f4675c,#f8765c,#fc8c63,#fc8e64,#fc8a62,#fd9668,#fd9869,#fc9065,#fe9d6c,#feaa74,#fd9668,#fea16e,#fc8961,#fd9869,#feaa74,#fea772,#feb47b,#feb078,#feb67c,#febd82,#feb77e,#fecf92,#febf84,#fecd90,#fde3a5,#fed597,#fecd90,#fed395,#fde7a9,#fdebac,#fddc9e,#fde2a3,#fcfdc7,#fde7a9,#fcfdc6,#fcf9bb,#fcf6b8,#fcfdbf,#fcfdc1,#fcfdc7,#fdfdd1)"></i><i style="top:251px;height:8.3px;background:linear-gradient(90deg,#000004,#010005,#000004,#000004,#000004,#010106,#000004,#000004,#000004,#000004,#010005,#000004,#000004,#000004,#000004,#010106,#000004,#010108,#000004,#010005,#000004,#000004,#000004,#000004,#000004,#010108,#000004,#000004,#000004,#000004,#000004,#010005,#020109,#010005,#000004,#010005,#02020b,#000004,#000004,#010106,#010108,#010108,#010108,#02020b,#03030f,#030312,#02020d,#02020b,#010108,#020109,#010106,#02020b,#03030f,#050416,#02020b,#0a0822,#07061c,#030312,#0d0a29,#0a0822,#0c0926,#150e38,#110c2f,#1d1147,#241253,#38106c,#241253,#271258,#621980,#3f0f72,#5f187f,#52137c,#56147d,#792282,#6d1d81,#5f187f,#641a80,#732081,#6b1d81,#782281,#6e1e81,#732081,#7b2382,#782281,#6b1d81,#842681,#7b2382,#892881,#8e2a81,#892881,#b3367a,#882781,#ae347b,#912b81,#a1307e,#bc3978,#b83779,#c23b75,#df4a68,#db476a,#eb5760,#e55064,#e75263,#ea5661,#f66e5c,#cc3f71,#f3655c,#f4675c,#de4968,#ec5860,#e44f64,#d8456c,#e04c67,#cc3f71,#e55064,#bf3a77,#ba3878,#c53c74,#ca3e72,#d3436e,#cf4070,#cc3f71,#a8327d,#c53c74,#c83e73,#d6456c,#c03a76,#d6456c,#d0416f,#d0416f,#de4968,#df4a68,#e44f64,#e34e65,#ed5a5f,#ee5b5e,#dc4869,#f4695c,#f4695c,#f2645c,#ee5b5e,#f9785d,#ec5860,#f2625d,#e95462,#f2645c,#f66e5c,#e95462,#f1605d,#de4968,#e95462,#f05f5e,#db476a,#d9466b,#e75263,#e55064,#d9466b,#de4968,#db476a,#e44f64,#de4968,#d5446d,#c43c75,#b5367a,#ae347b,#ca3e72,#e75263,#c73d73,#c83e73,#ba3878,#bf3a77,#a8327d,#b73779,#a3307e,#b83779,#9e2f7f,#bd3977,#b3367a,#bf3a77,#bf3a77,#aa337d,#ae347b,#cf4070,#c73d73,#cd4071,#de4968,#cd4071,#d9466b,#c53c74,#c23b75,#d2426f,#d5446d,#dc4869,#e75263,#ea5661,#ea5661,#d3436e,#cc3f71,#d5446d,#d5446d,#cc3f71,#c83e73,#d9466b,#c43c75,#b0357b,#b83779,#d6456c,#cd4071,#b0357b,#b83779,#ca3e72,#c23b75,#cf4070,#bc3978,#ca3e72,#d2426f,#db476a,#d9466b,#de4968,#e24d66,#eb5760,#ef5d5e,#e85362,#ea5661,#f3655c,#ec5860,#f4675c,#fd9266,#f9785d,#f66c5c,#f7705c,#f7705c,#f66e5c,#fa7d5e,#fd9266,#fd9b6b,#fe9d6c,#f9795d,#fea16e,#fd9668,#fea973,#fea973,#fea973,#fe9f6d,#feb47b,#feb77e,#fec287,#fec185,#feb67c,#fddea0,#fde3a5,#feca8d,#febd82,#fcf7b9,#fcf0b2,#fde7a9,#feca8d,#fcfbbd,#fcf6b8,#fde3a5,#fed395,#fcfdc4)"></i><i style="top:259px;height:8.3px;background:linear-gradient(90deg,#000004,#000004,#010005,#010005,#000004,#010005,#000004,#000004,#000004,#000004,#000004,#000004,#000004,#000004,#000004,#010005,#000004,#010108,#000004,#000004,#000004,#000004,#010106,#000004,#000004,#010005,#010106,#000004,#000004,#010106,#000004,#010106,#000004,#000004,#010106,#010005,#000004,#010106,#000004,#000004,#000004,#000004,#000004,#000004,#000004,#010005,#000004,#000004,#000004,#000004,#000004,#000004,#000004,#02020b,#010106,#010005,#000004,#010005,#03030f,#010108,#03030f,#03030f,#03030f,#03030f,#050416,#060518,#060518,#0a0822,#120d31,#110c2f,#07061c,#140e36,#150e38,#100b2d,#1c1044,#1c1044,#29115a,#0a0822,#221150,#140e36,#251255,#311165,#451077,#390f6e,#331067,#4f127b,#51127c,#5f187f,#311165,#5c167f,#400f74,#762181,#7e2482,#7e2482,#992d80,#9b2e7f,#ab337c,#b73779,#ab337c,#ad347c,#ad347c,#cd4071,#c43c75,#c83e73,#d6456c,#ca3e72,#d3436e,#d9466b,#e85362,#d5446d,#cf4070,#d2426f,#cd4071,#c83e73,#d8456c,#c43c75,#e04c67,#d6456c,#ca3e72,#c83e73,#d3436e,#e75263,#d0416f,#bd3977,#cc3f71,#f2625d,#c53c74,#d2426f,#d8456c,#d5446d,#eb5760,#d9466b,#e04c67,#e75263,#e75263,#de4968,#e34e65,#e04c67,#b5367a,#e85362,#e34e65,#df4a68,#e85362,#c43c75,#e44f64,#ca3e72,#c03a76,#bc3978,#cc3f71,#bc3978,#ca3e72,#ab337c,#cc3f71,#b73779,#cf4070,#b83779,#ab337c,#aa337d,#912b81,#a5317e,#962c80,#9b2e7f,#bf3a77,#912b81,#a6317d,#a5317e,#982d80,#992d80,#912b81,#b2357b,#a02f7f,#a5317e,#7e2482,#932b80,#882781,#a5317e,#942c80,#8e2a81,#9b2e7f,#9e2f7f,#9b2e7f,#b3367a,#ad347c,#a3307e,#ab337c,#a02f7f,#942c80,#aa337d,#8c2981,#bc3978,#ab337c,#9b2e7f,#b83779,#dc4869,#b3367a,#bc3978,#c53c74,#b0357b,#d6456c,#bf3a77,#c83e73,#d2426f,#c53c74,#d2426f,#b5367a,#ba3878,#d0416f,#c83e73,#cc3f71,#d5446d,#df4a68,#e85362,#ef5d5e,#ec5860,#ea5661,#d9466b,#dc4869,#dc4869,#e95462,#f2625d,#fa815f,#f05f5e,#f9785d,#f66c5c,#f9795d,#f3655c,#feaa74,#fc8a62,#fc8a62,#fc8e64,#f9795d,#fea16e,#fd9b6b,#fea772,#feb67c,#feac76,#fd9b6b,#fe9f6d,#fc9065,#fecd90,#fd9668,#fec185,#fea36f,#feb77e,#feb47b,#fea973,#fec88c,#fec88c,#fec185,#fecf92,#fde0a1,#feb67c,#fec287,#feb77e,#fec488,#fecf92,#fed597,#fde0a1,#fcfbbd,#fcf4b6,#fde9aa,#fcf7b9)"></i><i style="top:267px;height:8.3px;background:linear-gradient(90deg,#000004,#010005,#000004,#000004,#000004,#000004,#010108,#000004,#000004,#000004,#000004,#010106,#000004,#000004,#000004,#000004,#010005,#010106,#010005,#010005,#000004,#000004,#000004,#000004,#010005,#000004,#000004,#000004,#010005,#010005,#000004,#000004,#000004,#000004,#000004,#010005,#000004,#000004,#000004,#010005,#000004,#010106,#000004,#010106,#000004,#000004,#000004,#010005,#000004,#010005,#010005,#000004,#000004,#010106,#000004,#000004,#010106,#010108,#02020b,#000004,#000004,#010106,#02020d,#010005,#020109,#010005,#040414,#02020d,#03030f,#0b0924,#060518,#060518,#060518,#060518,#030312,#0d0a29,#0a0822,#0c0926,#06051a,#19103f,#140e36,#160f3b,#140e36,#20114b,#271258,#2a115c,#1c1044,#1a1042,#341069,#451077,#21114e,#3d0f71,#491078,#56147d,#6a1c81,#5d177f,#762181,#6e1e81,#862781,#762181,#842681,#962c80,#902a81,#752181,#942c80,#a3307e,#a1307e,#962c80,#a1307e,#b73779,#ba3878,#b3367a,#a3307e,#a02f7f,#ca3e72,#9e2f7f,#bf3a77,#b2357b,#ba3878,#b83779,#b2357b,#c03a76,#ab337c,#b5367a,#bf3a77,#992d80,#d0416f,#bd3977,#bc3978,#b2357b,#bf3a77,#ae347b,#b3367a,#b73779,#c03a76,#bf3a77,#b5367a,#b73779,#c53c74,#b2357b,#d0416f,#c43c75,#b0357b,#a5317e,#b5367a,#bf3a77,#b0357b,#ad347c,#942c80,#b2357b,#962c80,#b73779,#a02f7f,#b5367a,#a6317d,#802582,#982d80,#a02f7f,#aa337d,#932b80,#992d80,#792282,#902a81,#892881,#932b80,#882781,#862781,#862781,#902a81,#992d80,#912b81,#932b80,#752181,#6e1e81,#752181,#762181,#8e2a81,#882781,#862781,#ab337c,#8b2981,#9c2e7f,#932b80,#842681,#802582,#902a81,#a02f7f,#a5317e,#b0357b,#aa337d,#bd3977,#9c2e7f,#a02f7f,#b73779,#ab337c,#bf3a77,#c83e73,#ba3878,#b2357b,#982d80,#b83779,#c23b75,#ad347c,#c83e73,#c83e73,#c83e73,#d5446d,#de4968,#bf3a77,#cf4070,#d8456c,#e95462,#db476a,#e44f64,#e24d66,#e55064,#ea5661,#f4675c,#f3655c,#f7725c,#f66c5c,#f66c5c,#f9785d,#fc9065,#fc8961,#f8765c,#fe9d6c,#fc8961,#fa7f5e,#fea571,#fec68a,#febb81,#feb97f,#fea36f,#fea16e,#fea16e,#feac76,#fea973,#feb67c,#feb97f,#fea973,#febf84,#fd9467,#feae77,#feae77,#feaa74,#feb47b,#feb47b,#febb81,#febd82,#fd9b6b,#fec488,#febf84,#fecd90,#fed395,#fdda9c,#fed799,#fec488,#fddea0,#feca8d,#fec68a,#fecf92)"></i><i style="top:275px;height:8.3px;background:linear-gradient(90deg,#010108,#010005,#000004,#000004,#000004,#010005,#000004,#000004,#000004,#000004,#010005,#000004,#010106,#000004,#010108,#000004,#010005,#000004,#000004,#000004,#010005,#000004,#000004,#000004,#000004,#000004,#000004,#010005,#010005,#000004,#000004,#000004,#000004,#000004,#000004,#000004,#000004,#000004,#010108,#000004,#000004,#000004,#000004,#000004,#000004,#000004,#010108,#000004,#000004,#010106,#010106,#010106,#010005,#000004,#000004,#000004,#000004,#010106,#010005,#000004,#000004,#000004,#000004,#000004,#010005,#000004,#010108,#010005,#010106,#000004,#010106,#000004,#010108,#02020b,#010108,#020109,#030312,#020109,#030312,#03030f,#020109,#020109,#030312,#060518,#030312,#02020d,#060518,#0d0a29,#0c0926,#0c0926,#100b2d,#21114e,#050416,#100b2d,#29115a,#29115a,#2c115f,#221150,#400f74,#2d1161,#38106c,#38106c,#51127c,#3f0f72,#5c167f,#51127c,#641a80,#59157e,#762181,#601880,#671b80,#641a80,#671b80,#701f81,#752181,#601880,#6e1e81,#7e2482,#762181,#832681,#932b80,#962c80,#9e2f7f,#992d80,#a8327d,#842681,#962c80,#962c80,#a02f7f,#b73779,#a5317e,#862781,#b83779,#aa337d,#9e2f7f,#942c80,#8e2a81,#8b2981,#882781,#a02f7f,#812581,#9c2e7f,#a5317e,#912b81,#a3307e,#9b2e7f,#912b81,#902a81,#a6317d,#a8327d,#7e2482,#902a81,#782281,#862781,#992d80,#892881,#7b2382,#8c2981,#892881,#862781,#892881,#7e2482,#7b2382,#7e2482,#802582,#992d80,#6a1c81,#6d1d81,#6d1d81,#601880,#6d1d81,#6a1c81,#832681,#862781,#681c81,#792282,#6a1c81,#732081,#802582,#792282,#7b2382,#912b81,#862781,#762181,#782281,#732081,#882781,#a02f7f,#a02f7f,#902a81,#882781,#912b81,#882781,#7b2382,#7e2482,#a5317e,#9b2e7f,#932b80,#b73779,#b83779,#c53c74,#b73779,#b0357b,#c53c74,#ae347b,#b83779,#cf4070,#b2357b,#c43c75,#bf3a77,#b3367a,#dc4869,#b73779,#c23b75,#d0416f,#e44f64,#e34e65,#db476a,#e04c67,#f2645c,#f1605d,#f7705c,#fb8560,#fd9b6b,#fea36f,#fec88c,#fed89a,#feb27a,#febd82,#fed395,#fed194,#feca8d,#fec88c,#fecf92,#fde5a7,#fde7a9,#fecc8f,#fddc9e,#fec68a,#fde9aa,#fecf92,#fecc8f,#fec287,#fdda9c,#fde0a1,#febb81,#fde0a1,#febf84,#fec488,#febb81,#fed597,#fde0a1,#feb67c,#fecd90,#feb97f,#fed597,#febd82,#feae77,#fecf92,#feb97f,#febd82,#fec68a)"></i><i style="top:283px;height:8.3px;background:linear-gradient(90deg,#000004,#000004,#000004,#000004,#000004,#000004,#010005,#010005,#000004,#000004,#000004,#000004,#000004,#000004,#010005,#000004,#010005,#000004,#000004,#000004,#000004,#000004,#000004,#000004,#000004,#010108,#000004,#000004,#000004,#000004,#000004,#000004,#000004,#000004,#000004,#010005,#000004,#000004,#000004,#000004,#000004,#010005,#000004,#000004,#010005,#000004,#000004,#000004,#000004,#010005,#000004,#000004,#000004,#000004,#000004,#010005,#000004,#000004,#000004,#000004,#000004,#010005,#010005,#000004,#000004,#000004,#000004,#010106,#000004,#010106,#010005,#000004,#000004,#010108,#010108,#000004,#010005,#02020d,#010106,#02020d,#02020b,#02020d,#02020b,#02020d,#050416,#040414,#000004,#03030f,#090720,#03030f,#06051a,#06051a,#120d31,#08071e,#140e36,#160f3b,#241253,#1e1149,#1e1149,#241253,#221150,#251255,#38106c,#180f3d,#241253,#3d0f71,#51127c,#420f75,#3f0f72,#420f75,#36106b,#51127c,#5f187f,#5d177f,#5d177f,#6a1c81,#5a167e,#671b80,#651a80,#5a167e,#651a80,#6d1d81,#882781,#7e2482,#812581,#982d80,#762181,#7b2382,#942c80,#9b2e7f,#982d80,#9b2e7f,#992d80,#762181,#932b80,#882781,#a02f7f,#9e2f7f,#862781,#902a81,#862781,#ab337c,#992d80,#a8327d,#a1307e,#912b81,#942c80,#812581,#902a81,#8c2981,#832681,#782281,#932b80,#7e2482,#5d177f,#812581,#932b80,#902a81,#842681,#762181,#7b2382,#802582,#6b1d81,#6a1c81,#6b1d81,#721f81,#721f81,#681c81,#762181,#732081,#7b2382,#5f187f,#812581,#52137c,#721f81,#792282,#812581,#7e2482,#932b80,#762181,#681c81,#5d177f,#792282,#7c2382,#721f81,#932b80,#982d80,#902a81,#932b80,#842681,#9e2f7f,#aa337d,#962c80,#9b2e7f,#932b80,#ab337c,#9b2e7f,#ae347b,#9e2f7f,#ab337c,#b83779,#b3367a,#bc3978,#b73779,#ab337c,#ca3e72,#a8327d,#bd3977,#cc3f71,#c03a76,#ca3e72,#b83779,#d0416f,#dc4869,#d5446d,#c83e73,#d6456c,#f2645c,#ef5d5e,#eb5760,#ee5b5e,#f9785d,#fb8761,#fea571,#feac76,#febd82,#fed799,#febf84,#feb77e,#fecc8f,#fcecae,#fde3a5,#fde3a5,#fde7a9,#fed799,#fceeb0,#fde5a7,#fcfdc8,#fcecae,#fcf0b2,#fcf6b8,#fcfdc6,#fcf4b6,#fcfdbf,#fcf2b4,#fdfed7,#fcfdc3,#fcf7b9,#fcf4b6,#fcf9bb,#fde7a9,#fcf6b8,#fcfdc6,#fde2a3,#fde2a3,#fde0a1,#fcf0b2,#fde5a7,#fcecae,#fcf9bb,#fcecae,#fde3a5)"></i><i style="top:291px;height:8.3px;background:linear-gradient(90deg,#020109,#000004,#010005,#020109,#010106,#03030f,#000004,#000004,#010108,#010108,#02020b,#020109,#02020b,#020109,#010005,#010108,#010106,#030312,#020109,#02020d,#010108,#020109,#02020b,#010106,#010106,#020109,#020109,#02020d,#010106,#02020b,#02020b,#010106,#010005,#010005,#020109,#000004,#02020d,#000004,#010005,#010005,#010106,#010005,#000004,#010005,#02020b,#010005,#020109,#000004,#010108,#02020b,#010106,#000004,#010108,#020109,#010108,#000004,#010005,#000004,#000004,#000004,#010106,#000004,#000004,#010005,#000004,#010005,#010005,#010106,#000004,#000004,#000004,#000004,#010005,#000004,#010005,#000004,#010106,#010005,#000004,#010005,#010005,#010005,#010108,#010106,#010108,#000004,#020109,#010108,#010005,#010106,#000004,#010106,#02020d,#03030f,#020109,#000004,#020109,#040414,#050416,#060518,#03030f,#06051a,#0b0924,#0e0b2b,#0b0924,#100b2d,#150e38,#110c2f,#120d31,#241253,#21114e,#180f3d,#390f6e,#440f76,#3b0f70,#341069,#3f0f72,#491078,#400f74,#4f127b,#440f76,#51127c,#451077,#52137c,#59157e,#451077,#651a80,#6d1d81,#752181,#762181,#732081,#651a80,#862781,#752181,#621980,#6e1e81,#782281,#812581,#7e2482,#912b81,#6d1d81,#7e2482,#6e1e81,#701f81,#8b2981,#7b2382,#912b81,#882781,#812581,#7e2482,#6a1c81,#6a1c81,#6d1d81,#671b80,#6d1d81,#842681,#721f81,#671b80,#641a80,#6b1d81,#792282,#6a1c81,#621980,#792282,#651a80,#5f187f,#651a80,#681c81,#651a80,#752181,#892881,#732081,#601880,#7e2482,#882781,#7e2482,#832681,#a02f7f,#b73779,#992d80,#c73d73,#cf4070,#cd4071,#d6456c,#db476a,#f56b5c,#f1605d,#fc8961,#f9785d,#fc8961,#ef5d5e,#f1605d,#dc4869,#df4a68,#b83779,#bc3978,#b3367a,#b73779,#d0416f,#b2357b,#aa337d,#a5317e,#d0416f,#cf4070,#b5367a,#a6317d,#9c2e7f,#c53c74,#cd4071,#b0357b,#bd3977,#c53c74,#cc3f71,#b83779,#c23b75,#c43c75,#bf3a77,#d9466b,#d2426f,#ec5860,#e55064,#e34e65,#ea5661,#ec5860,#fc8c63,#f56b5c,#f4695c,#f9795d,#fa815f,#fb8761,#fea973,#feac76,#feb47b,#fec88c,#fed194,#fec488,#fde3a5,#fddea0,#fdda9c,#fde9aa,#fde9aa,#fde0a1,#fcf0b2,#fde9aa,#fcfdc5,#fcf7b9,#fcfdc6,#fcfdc9,#fcfdc1,#fdfed5,#fcfdcb,#fdfdd3,#fcfdcb,#fdfed6,#fdfeda,#fdfdd0,#fdfdcf,#fcfdc2,#fcfdc9,#fcfdc1,#fdfdd2,#fcf9bb)"></i><i style="top:299px;height:8.3px;background:linear-gradient(90deg,#02020b,#020109,#03030f,#02020d,#000004,#030312,#010106,#03030f,#010005,#02020b,#02020d,#000004,#010005,#060518,#02020b,#050416,#02020d,#020109,#02020b,#02020b,#02020d,#030312,#02020d,#050416,#02020d,#020109,#03030f,#02020b,#040414,#02020d,#020109,#03030f,#020109,#02020b,#010106,#060518,#020109,#010106,#000004,#030312,#040414,#02020b,#010108,#02020b,#010108,#010106,#02020b,#02020d,#010106,#02020d,#010108,#000004,#010005,#02020b,#020109,#02020d,#02020b,#02020d,#010005,#02020b,#03030f,#010106,#000004,#010108,#020109,#020109,#020109,#040414,#000004,#010005,#020109,#010005,#010005,#010106,#02020b,#000004,#000004,#010106,#010106,#020109,#010005,#010005,#010005,#010005,#000004,#010005,#000004,#010108,#010106,#010106,#000004,#010106,#010005,#02020d,#010108,#010106,#020109,#02020b,#02020b,#010106,#060518,#03030f,#03030f,#030312,#08071e,#060518,#0a0822,#0a0822,#0d0a29,#120d31,#0b0924,#06051a,#0e0b2b,#150e38,#19103f,#1c1044,#120d31,#19103f,#1c1044,#120d31,#130d34,#390f6e,#1d1147,#2d1161,#29115a,#341069,#38106c,#341069,#2d1161,#400f74,#6a1c81,#54137d,#451077,#59157e,#601880,#451077,#51127c,#5a167e,#51127c,#4f127b,#5f187f,#56147d,#52137c,#4f127b,#57157e,#5a167e,#471078,#5c167f,#241253,#471078,#4e117b,#5a167e,#52137c,#271258,#3f0f72,#440f76,#311165,#311165,#390f6e,#3d0f71,#4c117a,#4a1079,#331067,#3f0f72,#36106b,#621980,#4e117b,#52137c,#59157e,#56147d,#6e1e81,#671b80,#6e1e81,#651a80,#782281,#6e1e81,#882781,#882781,#992d80,#8b2981,#a3307e,#902a81,#ad347c,#d6456c,#e34e65,#f4695c,#fd9668,#f97b5d,#fea772,#fc8a62,#fb8560,#f9795d,#ef5d5e,#e44f64,#e85362,#e04c67,#b5367a,#b73779,#bc3978,#c03a76,#ca3e72,#ad347c,#c03a76,#c43c75,#ad347c,#b5367a,#b0357b,#c23b75,#b73779,#c43c75,#b3367a,#b0357b,#c23b75,#bf3a77,#d6456c,#cc3f71,#d6456c,#d2426f,#d3436e,#ad347c,#c03a76,#c73d73,#d5446d,#de4968,#e95462,#e75263,#d0416f,#f7725c,#f1605d,#f66c5c,#f66c5c,#fc8a62,#fc9065,#fa7d5e,#fd9668,#feae77,#feb67c,#fec68a,#feb67c,#fec68a,#fec88c,#fed395,#fed194,#fceeb0,#fed89a,#fcf0b2,#fdebac,#fcfdbf,#fcfdbf,#fdfedd,#fcfdc3,#fdfede,#fdfdd0,#fdfedc,#fdfee0,#fdfed9,#fdfedd,#fdfee0,#fdfdd3,#fdfedf,#fcfdcd,#fdfed7)"></i><i style="top:307px;height:8.3px;background:linear-gradient(90deg,#010106,#010106,#02020d,#02020d,#02020d,#020109,#02020d,#020109,#03030f,#000004,#02020b,#030312,#020109,#020109,#010108,#02020d,#02020b,#030312,#010108,#03030f,#020109,#010106,#010108,#010005,#000004,#020109,#06051a,#020109,#03030f,#02020b,#010108,#03030f,#010106,#040414,#020109,#060518,#040414,#03030f,#02020d,#02020b,#02020d,#03030f,#030312,#03030f,#02020b,#03030f,#020109,#040414,#020109,#030312,#020109,#03030f,#02020b,#02020d,#03030f,#020109,#010108,#020109,#03030f,#040414,#010108,#000004,#010106,#02020d,#02020b,#03030f,#02020b,#030312,#02020d,#02020b,#03030f,#020109,#010108,#02020b,#000004,#010005,#010005,#010108,#010108,#000004,#020109,#010108,#000004,#010106,#000004,#000004,#000004,#02020d,#010005,#02020b,#020109,#040414,#02020b,#010108,#03030f,#040414,#02020d,#040414,#020109,#010108,#060518,#030312,#060518,#030312,#030312,#050416,#060518,#06051a,#07061c,#07061c,#0d0a29,#08071e,#03030f,#0e0b2b,#180f3d,#160f3b,#160f3b,#100b2d,#0c0926,#090720,#130d34,#130d34,#1a1042,#1e1149,#0c0926,#130d34,#100b2d,#180f3d,#19103f,#150e38,#1c1044,#120d31,#221150,#1d1147,#1e1149,#1d1147,#130d34,#060518,#21114e,#090720,#0c0926,#180f3d,#100b2d,#110c2f,#180f3d,#06051a,#160f3b,#08071e,#110c2f,#1e1149,#160f3b,#180f3d,#0d0a29,#1a1042,#150e38,#19103f,#2f1163,#251255,#311165,#2a115c,#420f75,#221150,#2c115f,#3d0f71,#2a115c,#440f76,#491078,#400f74,#491078,#471078,#651a80,#4f127b,#331067,#54137d,#36106b,#5f187f,#651a80,#3d0f71,#52137c,#4e117b,#51127c,#5a167e,#782281,#7e2482,#7c2382,#701f81,#962c80,#962c80,#c23b75,#ad347c,#bd3977,#b0357b,#982d80,#b2357b,#9b2e7f,#bf3a77,#b3367a,#c43c75,#a6317d,#aa337d,#c23b75,#b0357b,#ab337c,#ab337c,#a1307e,#9c2e7f,#aa337d,#a5317e,#a02f7f,#a8327d,#ab337c,#a1307e,#b5367a,#c43c75,#ae347b,#c03a76,#b83779,#b83779,#c73d73,#b2357b,#cf4070,#c83e73,#cd4071,#d8456c,#ed5a5f,#de4968,#e95462,#e24d66,#e04c67,#ec5860,#f56b5c,#f56b5c,#f4675c,#fb8761,#f9785d,#fd9668,#f9795d,#fc9065,#fd9668,#fea571,#feb47b,#febb81,#feb27a,#feb27a,#fec488,#fecd90,#fdda9c,#fde5a7,#fde5a7,#fcf9bb,#fcf2b4,#fceeb0,#fdfdcf,#fcfdcd,#fcfdc4,#fdfdd2,#fcf7b9,#fcfdcd,#fcfdc8,#fdfed7,#fdfed8,#fdfedc)"></i><i style="top:315px;height:8.3px;background:linear-gradient(90deg,#010108,#010106,#010108,#010106,#020109,#020109,#010005,#030312,#010005,#010108,#010005,#000004,#020109,#030312,#030312,#020109,#030312,#02020d,#020109,#010005,#030312,#040414,#03030f,#020109,#03030f,#02020d,#02020b,#02020b,#02020b,#030312,#020109,#010005,#030312,#03030f,#040414,#02020d,#030312,#060518,#02020d,#02020b,#03030f,#07061c,#03030f,#050416,#060518,#08071e,#06051a,#090720,#050416,#100b2d,#1a1042,#0a0822,#090720,#050416,#110c2f,#07061c,#120d31,#160f3b,#130d34,#140e36,#060518,#030312,#0d0a29,#06051a,#06051a,#02020d,#02020b,#020109,#010106,#030312,#030312,#03030f,#03030f,#020109,#000004,#010106,#03030f,#02020d,#010106,#010108,#02020b,#010108,#010005,#010005,#010108,#010005,#010108,#010106,#010108,#010005,#010108,#020109,#020109,#02020b,#030312,#020109,#010108,#020109,#000004,#010108,#010106,#03030f,#02020b,#030312,#02020d,#010108,#02020d,#010108,#03030f,#03030f,#02020d,#02020b,#020109,#040414,#020109,#060518,#06051a,#040414,#060518,#08071e,#06051a,#060518,#050416,#07061c,#08071e,#08071e,#0a0822,#03030f,#050416,#060518,#0b0924,#08071e,#090720,#120d31,#150e38,#0b0924,#07061c,#06051a,#0a0822,#030312,#0b0924,#060518,#100b2d,#06051a,#08071e,#060518,#0d0a29,#040414,#090720,#07061c,#090720,#08071e,#090720,#0a0822,#090720,#090720,#06051a,#060518,#060518,#060518,#03030f,#08071e,#07061c,#07061c,#08071e,#08071e,#030312,#03030f,#02020d,#050416,#02020b,#010106,#010108,#03030f,#02020d,#02020b,#02020d,#010106,#020109,#060518,#020109,#03030f,#07061c,#060518,#0e0b2b,#060518,#140e36,#150e38,#1c1044,#2a115c,#3d0f71,#2d1161,#651a80,#5a167e,#842681,#792282,#802582,#912b81,#842681,#992d80,#832681,#a02f7f,#8c2981,#a1307e,#aa337d,#a8327d,#9b2e7f,#b2357b,#9c2e7f,#b2357b,#ae347b,#bd3977,#c23b75,#b73779,#ae347b,#b2357b,#b83779,#bd3977,#c03a76,#c53c74,#c03a76,#c03a76,#b3367a,#ca3e72,#e34e65,#c53c74,#d5446d,#d0416f,#c83e73,#de4968,#de4968,#e85362,#f4695c,#df4a68,#fc9065,#f66e5c,#f7725c,#fa7f5e,#fa7d5e,#fd9668,#fa7d5e,#f97b5d,#fc8a62,#fea36f,#feac76,#fea973,#fecc8f,#feca8d,#fecd90,#fed597,#fed799,#fcf2b4,#fecd90,#fcf7b9,#fcf6b8,#fed89a,#fceeb0,#fcf7b9,#fcfdca,#fcfdc2,#fcfdc8,#fcfdca)"></i><i style="top:323px;height:8.3px;background:linear-gradient(90deg,#02020d,#050416,#02020d,#02020b,#03030f,#030312,#020109,#030312,#06051a,#08071e,#07061c,#0c0926,#060518,#0b0924,#0c0926,#03030f,#120d31,#100b2d,#0e0b2b,#110c2f,#07061c,#060518,#06051a,#090720,#140e36,#120d31,#0d0a29,#0a0822,#120d31,#060518,#130d34,#0b0924,#100b2d,#0d0a29,#08071e,#110c2f,#1a1042,#0e0b2b,#0d0a29,#0b0924,#100b2d,#180f3d,#08071e,#150e38,#0c0926,#19103f,#20114b,#140e36,#0d0a29,#160f3b,#221150,#160f3b,#180f3d,#19103f,#271258,#1e1149,#1e1149,#120d31,#2d1161,#271258,#130d34,#0d0a29,#1d1147,#1a1042,#1e1149,#140e36,#1c1044,#150e38,#0b0924,#08071e,#0b0924,#050416,#030312,#040414,#040414,#060518,#010106,#020109,#010108,#050416,#03030f,#02020b,#03030f,#000004,#010108,#010108,#000004,#010108,#010005,#010106,#02020d,#02020d,#020109,#02020b,#010106,#02020d,#02020b,#010106,#010005,#02020d,#010108,#020109,#03030f,#020109,#040414,#020109,#000004,#030312,#02020b,#010005,#02020d,#02020b,#02020b,#060518,#010106,#02020b,#010108,#010108,#03030f,#040414,#050416,#030312,#010108,#030312,#040414,#02020b,#040414,#08071e,#07061c,#040414,#040414,#060518,#040414,#07061c,#02020d,#040414,#050416,#02020d,#07061c,#050416,#06051a,#050416,#02020d,#02020d,#060518,#02020d,#060518,#040414,#02020d,#03030f,#030312,#02020d,#020109,#030312,#02020d,#03030f,#020109,#02020b,#010106,#010005,#010106,#000004,#010108,#010106,#020109,#010106,#000004,#000004,#000004,#000004,#000004,#000004,#000004,#010106,#000004,#010005,#000004,#000004,#000004,#010106,#000004,#000004,#010108,#000004,#010005,#010005,#010108,#02020d,#000004,#07061c,#0b0924,#1d1147,#20114b,#451077,#471078,#451077,#601880,#6b1d81,#6e1e81,#6b1d81,#752181,#7c2382,#842681,#8b2981,#8b2981,#942c80,#942c80,#b73779,#9b2e7f,#aa337d,#9e2f7f,#c43c75,#b3367a,#c43c75,#ab337c,#b83779,#ae347b,#d5446d,#e04c67,#c53c74,#d3436e,#cc3f71,#e24d66,#cd4071,#d8456c,#cc3f71,#d5446d,#d8456c,#e75263,#e34e65,#db476a,#e85362,#e85362,#de4968,#e44f64,#ef5d5e,#e85362,#e75263,#f66c5c,#ef5d5e,#f05f5e,#fa7d5e,#f2625d,#f9785d,#f4695c,#fc9065,#f97b5d,#fa7f5e,#fe9f6d,#fea772,#fec68a,#feb47b,#feb078,#feb67c,#feb97f,#fecf92,#fec488,#fec88c,#fed194,#fde7a9,#fed89a,#fde7a9)"></i><i style="top:331px;height:8.3px;background:linear-gradient(90deg,#000004,#02020b,#02020d,#010106,#010005,#050416,#040414,#010108,#030312,#050416,#090720,#0b0924,#0b0924,#100b2d,#090720,#0d0a29,#0b0924,#130d34,#1e1149,#120d31,#0e0b2b,#090720,#1c1044,#1c1044,#20114b,#0b0924,#1c1044,#0c0926,#090720,#160f3b,#160f3b,#180f3d,#1c1044,#1e1149,#2f1163,#180f3d,#150e38,#150e38,#20114b,#110c2f,#2c115f,#19103f,#1d1147,#1a1042,#271258,#1c1044,#251255,#331067,#3b0f70,#3d0f71,#251255,#331067,#20114b,#36106b,#341069,#341069,#491078,#4f127b,#2d1161,#4a1079,#420f75,#51127c,#491078,#54137d,#601880,#51127c,#2c115f,#4f127b,#1a1042,#1e1149,#1d1147,#1e1149,#20114b,#1a1042,#150e38,#120d31,#0d0a29,#100b2d,#07061c,#100b2d,#03030f,#030312,#08071e,#040414,#02020b,#050416,#050416,#030312,#03030f,#060518,#020109,#030312,#03030f,#010005,#02020d,#020109,#030312,#040414,#07061c,#02020d,#06051a,#010108,#02020b,#090720,#040414,#06051a,#040414,#02020b,#090720,#050416,#0a0822,#07061c,#0b0924,#130d34,#0a0822,#0b0924,#050416,#0c0926,#050416,#07061c,#08071e,#0b0924,#060518,#0e0b2b,#060518,#140e36,#0d0a29,#0c0926,#0d0a29,#0c0926,#0e0b2b,#07061c,#100b2d,#140e36,#02020d,#050416,#160f3b,#0e0b2b,#07061c,#07061c,#07061c,#06051a,#0e0b2b,#08071e,#060518,#040414,#08071e,#0a0822,#0e0b2b,#02020b,#060518,#020109,#06051a,#010106,#03030f,#030312,#020109,#010106,#020109,#02020d,#020109,#010108,#02020d,#010106,#010106,#000004,#000004,#010005,#000004,#000004,#000004,#000004,#000004,#000004,#010005,#000004,#000004,#000004,#010005,#000004,#000004,#000004,#010106,#000004,#020109,#010005,#020109,#02020b,#010005,#02020b,#030312,#120d31,#130d34,#130d34,#29115a,#1c1044,#440f76,#4e117b,#6a1c81,#641a80,#5a167e,#802582,#9e2f7f,#802582,#902a81,#8b2981,#9b2e7f,#892881,#b2357b,#c53c74,#9e2f7f,#b3367a,#ab337c,#b73779,#c73d73,#c53c74,#d3436e,#c73d73,#c83e73,#e95462,#d9466b,#d2426f,#c83e73,#d6456c,#df4a68,#db476a,#d5446d,#d6456c,#d8456c,#cd4071,#cd4071,#c83e73,#d6456c,#ec5860,#e04c67,#d3436e,#d9466b,#cd4071,#e85362,#f05f5e,#df4a68,#e24d66,#ea5661,#f1605d,#f2625d,#f05f5e,#f56b5c,#f2625d,#f66c5c,#fb835f,#f4695c,#f66e5c,#fb8761,#f8765c,#fa7f5e,#f56b5c,#fa7d5e,#fc8c63,#fd9467,#fe9f6d,#fea571,#fea36f)"></i><i style="top:339px;height:8.3px;background:linear-gradient(90deg,#010106,#010108,#010108,#02020b,#010106,#010108,#03030f,#02020b,#010005,#010108,#020109,#02020b,#010106,#010005,#030312,#02020d,#03030f,#02020b,#050416,#02020d,#090720,#040414,#0b0924,#07061c,#08071e,#0d0a29,#090720,#0c0926,#100b2d,#06051a,#100b2d,#0d0a29,#150e38,#0e0b2b,#180f3d,#110c2f,#100b2d,#140e36,#251255,#100b2d,#140e36,#21114e,#120d31,#271258,#1a1042,#1d1147,#140e36,#21114e,#36106b,#251255,#311165,#36106b,#3d0f71,#2a115c,#3f0f72,#4c117a,#3d0f71,#331067,#3f0f72,#2d1161,#451077,#2c115f,#390f6e,#4a1079,#2f1163,#3b0f70,#4a1079,#2d1161,#390f6e,#38106c,#21114e,#311165,#311165,#29115a,#150e38,#21114e,#1a1042,#120d31,#130d34,#0c0926,#0e0b2b,#120d31,#0e0b2b,#120d31,#090720,#0a0822,#07061c,#0a0822,#0b0924,#02020b,#040414,#090720,#07061c,#03030f,#06051a,#0d0a29,#090720,#040414,#08071e,#030312,#090720,#08071e,#0e0b2b,#090720,#07061c,#0c0926,#180f3d,#090720,#110c2f,#0a0822,#090720,#110c2f,#0d0a29,#140e36,#140e36,#150e38,#120d31,#19103f,#150e38,#1a1042,#0c0926,#19103f,#1c1044,#20114b,#1d1147,#251255,#1a1042,#180f3d,#251255,#221150,#271258,#150e38,#1c1044,#400f74,#390f6e,#38106c,#491078,#36106b,#471078,#341069,#59157e,#20114b,#3d0f71,#1c1044,#3b0f70,#400f74,#38106c,#311165,#2d1161,#241253,#21114e,#251255,#241253,#2f1163,#1e1149,#1e1149,#19103f,#110c2f,#0c0926,#160f3b,#08071e,#0d0a29,#0d0a29,#06051a,#100b2d,#0a0822,#07061c,#060518,#0c0926,#03030f,#07061c,#050416,#090720,#050416,#030312,#06051a,#03030f,#06051a,#040414,#040414,#07061c,#050416,#08071e,#060518,#0a0822,#050416,#110c2f,#040414,#08071e,#140e36,#1a1042,#2c115f,#1c1044,#331067,#4a1079,#4c117a,#59157e,#651a80,#651a80,#5d177f,#5a167e,#6d1d81,#6a1c81,#671b80,#882781,#932b80,#8c2981,#a6317d,#aa337d,#a5317e,#892881,#a3307e,#bd3977,#a8327d,#bd3977,#bd3977,#b0357b,#b3367a,#c23b75,#ae347b,#c73d73,#c83e73,#c23b75,#c53c74,#bd3977,#b83779,#c43c75,#ec5860,#d5446d,#d6456c,#d3436e,#de4968,#ea5661,#d6456c,#db476a,#e55064,#e44f64,#e95462,#ca3e72,#de4968,#f56b5c,#e04c67,#ed5a5f,#f3655c,#f05f5e,#f1605d,#e75263,#d8456c,#ef5d5e,#f66e5c,#f56b5c,#f8745c,#f56b5c,#f7705c,#f9795d,#fc8961,#fea973,#fa815f,#f97b5d,#fb835f,#fc8a62,#fb8761)"></i><i style="top:347px;height:8.3px;background:linear-gradient(90deg,#000004,#000004,#000004,#010106,#010106,#000004,#010106,#000004,#02020b,#010106,#010108,#010005,#010106,#02020b,#000004,#010005,#02020b,#010106,#010108,#010106,#030312,#000004,#000004,#02020d,#030312,#02020b,#010106,#050416,#06051a,#08071e,#07061c,#090720,#140e36,#160f3b,#140e36,#180f3d,#21114e,#2f1163,#0e0b2b,#2f1163,#241253,#1d1147,#29115a,#341069,#2f1163,#38106c,#390f6e,#311165,#400f74,#3d0f71,#3d0f71,#440f76,#420f75,#390f6e,#3d0f71,#420f75,#3b0f70,#471078,#2c115f,#271258,#1c1044,#3b0f70,#2d1161,#2c115f,#3d0f71,#2c115f,#1a1042,#180f3d,#180f3d,#1a1042,#100b2d,#0d0a29,#040414,#0a0822,#060518,#02020d,#010108,#040414,#010106,#060518,#000004,#010108,#000004,#010106,#02020b,#000004,#000004,#010108,#020109,#010108,#000004,#020109,#010005,#010108,#030312,#010106,#030312,#030312,#010108,#0a0822,#030312,#07061c,#08071e,#120d31,#0c0926,#0c0926,#1e1149,#140e36,#1d1147,#20114b,#29115a,#1e1149,#20114b,#251255,#271258,#36106b,#311165,#29115a,#311165,#420f75,#471078,#420f75,#491078,#52137c,#5a167e,#5f187f,#6a1c81,#8c2981,#7b2382,#912b81,#9e2f7f,#992d80,#ad347c,#982d80,#b83779,#b73779,#ae347b,#ba3878,#b2357b,#c43c75,#c83e73,#b0357b,#bc3978,#b2357b,#c43c75,#a6317d,#bc3978,#ae347b,#ab337c,#9e2f7f,#ad347c,#b2357b,#932b80,#a5317e,#ae347b,#701f81,#932b80,#7e2482,#6b1d81,#56147d,#57157e,#51127c,#52137c,#29115a,#3b0f70,#1c1044,#251255,#120d31,#090720,#0d0a29,#0a0822,#130d34,#0b0924,#090720,#0d0a29,#150e38,#0a0822,#090720,#060518,#0e0b2b,#060518,#07061c,#07061c,#0a0822,#0e0b2b,#07061c,#0b0924,#150e38,#19103f,#1c1044,#29115a,#341069,#21114e,#1e1149,#2a115c,#3d0f71,#54137d,#451077,#5a167e,#6a1c81,#762181,#892881,#912b81,#5d177f,#762181,#932b80,#9c2e7f,#8e2a81,#962c80,#9b2e7f,#982d80,#ad347c,#942c80,#9c2e7f,#bf3a77,#b5367a,#aa337d,#a5317e,#d8456c,#cc3f71,#b83779,#c03a76,#cd4071,#e04c67,#e24d66,#cd4071,#f1605d,#ec5860,#e34e65,#d6456c,#e85362,#f1605d,#e44f64,#f4675c,#f3655c,#ed5a5f,#f56b5c,#f9795d,#f66c5c,#f1605d,#f56b5c,#f4675c,#f7725c,#fc8c63,#f66c5c,#fe9f6d,#f66e5c,#feae77,#fd9668,#fa815f,#f8765c,#fb8761,#f05f5e,#f7705c,#fd9b6b,#fa7d5e,#fa815f,#ef5d5e,#f9795d,#f4675c,#f8745c,#f8745c)"></i><i style="top:355px;height:4.3px;background:linear-gradient(90deg,#010005,#030312,#010106,#02020b,#030312,#040414,#03030f,#010106,#050416,#030312,#060518,#060518,#060518,#060518,#060518,#03030f,#040414,#0a0822,#0b0924,#0c0926,#0e0b2b,#0d0a29,#0b0924,#0a0822,#120d31,#100b2d,#0e0b2b,#130d34,#19103f,#110c2f,#20114b,#2f1163,#1d1147,#2d1161,#2d1161,#21114e,#4c117a,#331067,#390f6e,#3d0f71,#440f76,#4c117a,#51127c,#4c117a,#4c117a,#671b80,#5a167e,#4c117a,#5a167e,#601880,#5c167f,#4f127b,#51127c,#400f74,#52137c,#54137d,#621980,#3d0f71,#491078,#440f76,#221150,#4f127b,#4a1079,#3f0f72,#390f6e,#2f1163,#341069,#2f1163,#2d1161,#1d1147,#110c2f,#120d31,#2a115c,#331067,#29115a,#1d1147,#130d34,#1e1149,#160f3b,#20114b,#1e1149,#130d34,#251255,#241253,#271258,#1e1149,#19103f,#29115a,#1e1149,#251255,#1d1147,#140e36,#19103f,#130d34,#160f3b,#1d1147,#1e1149,#4a1079,#241253,#2f1163,#400f74,#5c167f,#451077,#51127c,#4a1079,#451077,#4e117b,#651a80,#5c167f,#621980,#651a80,#832681,#912b81,#882781,#8b2981,#942c80,#8b2981,#a1307e,#b3367a,#bc3978,#b73779,#ca3e72,#d6456c,#ea5661,#f9795d,#fc8c63,#fd9a6a,#feb67c,#fec88c,#fde5a7,#fcf4b6,#fcfdc5,#fcfdca,#fdfdd3,#fcfdc3,#fcfdc3,#fcfdcc,#fdfedb,#fcfdcb,#fcfdbf,#fcfdc3,#fcfdca,#fdfdd2,#fdfdd2,#fcf7b9,#fcfbbd,#fcfdbf,#fcfdbf,#fcfdbf,#fcf7b9,#fceeb0,#fcfdbf,#fde7a9,#fecd90,#fddea0,#fed194,#fed194,#fdebac,#fec68a,#fd9869,#fd9869,#fb835f,#ef5d5e,#ed5a5f,#cd4071,#cf4070,#b3367a,#a6317d,#b2357b,#8b2981,#b0357b,#862781,#601880,#601880,#641a80,#51127c,#802582,#8e2a81,#601880,#6e1e81,#812581,#601880,#6e1e81,#721f81,#4f127b,#671b80,#6e1e81,#621980,#601880,#6d1d81,#6d1d81,#5a167e,#400f74,#56147d,#59157e,#601880,#6a1c81,#651a80,#752181,#671b80,#9c2e7f,#802582,#832681,#a02f7f,#912b81,#9b2e7f,#ba3878,#962c80,#a6317d,#b0357b,#bd3977,#ad347c,#b5367a,#ab337c,#d2426f,#c73d73,#ca3e72,#d9466b,#e55064,#d5446d,#ca3e72,#db476a,#ed5a5f,#ee5b5e,#e85362,#f3655c,#ef5d5e,#f2645c,#ec5860,#e85362,#f4695c,#f66c5c,#f4675c,#e85362,#f7725c,#f9795d,#f2625d,#f4695c,#f56b5c,#f4675c,#f66e5c,#fa7d5e,#f9785d,#eb5760,#f66c5c,#f66e5c,#f2625d,#e75263,#fa815f,#f97b5d,#fa7d5e,#f7725c,#fc8a62,#fd9266,#fc8c63,#fb8560,#fd9467,#fa7f5e,#fb8761,#f56b5c,#f9795d,#fc9065)"></i></div>
<div class="hm" style="left:886.0px;top:56.0px;width:523.0px;height:359.0px"><i style="top:0px;height:3.3px;background:linear-gradient(90deg,#fea16e,#fe9d6c,#fe9f6d,#fc9065,#feb67c,#feb27a,#fea772,#feb27a,#feb078,#feaa74,#feb97f,#feb078,#feb27a,#feb078,#febb81,#feb97f,#fec185,#feb77e,#fec185,#feb97f,#feca8d,#fec68a,#fec88c,#feca8d,#fec185,#fed194,#fddea0,#fec185,#fec185,#fec488,#fdda9c,#fed597,#fddea0,#fddea0,#fdda9c,#fddc9e,#fdda9c,#fde3a5,#fecf92,#fed194,#fed395,#fddc9e,#fec287,#febb81,#febb81,#fec488,#feb67c,#feb97f,#fd9467,#fea16e,#fd9467,#f7705c,#f7705c,#f66c5c,#e95462,#e04c67,#dc4869,#c43c75,#b5367a,#a8327d,#a6317d,#942c80,#842681,#7c2382,#7b2382,#6a1c81,#641a80,#5c167f,#732081,#6a1c81,#732081,#651a80,#5f187f,#651a80,#601880,#56147d,#57157e,#681c81,#5c167f,#5a167e,#52137c,#4a1079,#52137c,#451077,#3d0f71,#3d0f71,#311165,#341069,#36106b,#221150,#2d1161,#1a1042,#19103f,#110c2f,#0d0a29,#0a0822,#060518,#03030f,#02020b,#010108,#010005,#010005,#000004,#000004,#000004,#010106,#000004,#000004,#010005,#000004,#000004,#000004,#000004,#000004,#000004,#000004,#000004,#010005,#000004,#000004,#000004,#000004,#000004,#000004,#000004,#000004,#000004,#000004,#000004,#000004,#000004)"></i><i style="top:3px;height:8.3px;background:linear-gradient(90deg,#fd9a6a,#fea16e,#fd9266,#fea16e,#fd9a6a,#feb27a,#fea36f,#fea973,#fe9f6d,#fea16e,#feae77,#feac76,#feb67c,#fea973,#febd82,#feb47b,#fecd90,#febf84,#fecd90,#febb81,#feca8d,#fec185,#fec488,#feca8d,#fec68a,#fecc8f,#fed194,#fed194,#fecc8f,#fec185,#fec68a,#fecd90,#febd82,#fed597,#fecd90,#fecd90,#fed799,#fed597,#fed194,#fec68a,#fed194,#fed194,#fec68a,#fed395,#fecc8f,#feb27a,#fec185,#feb27a,#fec287,#febb81,#fea772,#fea36f,#fea772,#fe9d6c,#fe9f6d,#fc8c63,#f8765c,#f66e5c,#e34e65,#e24d66,#d3436e,#bf3a77,#b2357b,#b3367a,#b73779,#a3307e,#982d80,#aa337d,#902a81,#a02f7f,#962c80,#a02f7f,#912b81,#a02f7f,#982d80,#882781,#842681,#902a81,#9b2e7f,#912b81,#912b81,#8e2a81,#942c80,#902a81,#8e2a81,#812581,#8e2a81,#8c2981,#762181,#8c2981,#7e2482,#721f81,#651a80,#721f81,#651a80,#4f127b,#38106c,#3d0f71,#1c1044,#100b2d,#100b2d,#060518,#02020b,#000004,#000004,#000004,#000004,#000004,#000004,#000004,#000004,#000004,#000004,#000004,#000004,#000004,#000004,#000004,#000004,#000004,#000004,#000004,#000004,#000004,#000004,#010005,#000004,#000004,#000004,#000004,#000004)"></i><i style="top:11px;height:8.3px;background:linear-gradient(90deg,#fb8560,#f9795d,#fb8761,#fb8560,#fc8e64,#fc8c63,#fc8e64,#fd9869,#fea571,#feb47b,#fec185,#fed799,#fed89a,#fed597,#fde3a5,#fddc9e,#fcf2b4,#fcf0b2,#fdebac,#fcf9bb,#fcfbbd,#fde9aa,#fcf4b6,#fcf7b9,#fcf0b2,#fcf6b8,#fcf7b9,#fcfdc1,#fcfdc2,#fdfdd1,#fcfdc2,#fcfdcc,#fcfdc9,#fcfdcb,#fcfdc7,#fcfdc6,#fcfdcd,#fdfed5,#fdfed6,#fdfdd1,#fcfdce,#fcfdc6,#fdfdd0,#fcfdcd,#fcfdc1,#fcfdc1,#fcf9bb,#fcfdc7,#fcfdbf,#fcfbbd,#fcfbbd,#fcfbbd,#fcf6b8,#fcf0b2,#fceeb0,#fdebac,#fcf2b4,#fcf7b9,#fed194,#fed89a,#fed395,#febd82,#febf84,#feaa74,#feb47b,#fd9b6b,#fd9b6b,#fd9a6a,#fc8961,#f8765c,#f9795d,#fa7f5e,#f7705c,#f66c5c,#ee5b5e,#f1605d,#f05f5e,#e95462,#ef5d5e,#e04c67,#d8456c,#d2426f,#e24d66,#d8456c,#dc4869,#d6456c,#db476a,#d6456c,#c83e73,#c83e73,#c83e73,#b2357b,#c23b75,#ba3878,#b2357b,#9e2f7f,#992d80,#802582,#792282,#651a80,#56147d,#3d0f71,#311165,#241253,#0d0a29,#0b0924,#020109,#000004,#000004,#000004,#000004,#000004,#000004,#000004,#010005,#000004,#000004,#000004,#000004,#000004,#000004,#000004,#000004,#000004,#010005,#000004,#000004,#000004,#010005,#000004,#010005)"></i><i style="top:19px;height:8.3px;background:linear-gradient(90deg,#e34e65,#e04c67,#e75263,#e85362,#ea5661,#f7705c,#f8745c,#f66c5c,#fc9065,#fc8a62,#fc8a62,#fe9f6d,#fea571,#fea973,#fea973,#fec488,#fecf92,#febf84,#fddea0,#fde3a5,#fde0a1,#fdebac,#fcecae,#fcf0b2,#fcf4b6,#fcfdc1,#fcf4b6,#fcfdbf,#fcfdc1,#fcfdbf,#fcfdc3,#fcfdc1,#fcfdc7,#fcfdcc,#fcfdcd,#fcfdc8,#fdfeda,#fcfdc9,#fcfdcc,#fcfdcb,#fcfdca,#fdfdd2,#fcfdc9,#fdfdd0,#fcfdce,#fcfdc2,#fcfdcb,#fcfdc1,#fdfdd2,#fcfdbf,#fcfbbd,#fcf6b8,#fcf7b9,#fcfbbd,#fcf9bb,#fcf7b9,#fcfbbd,#fcfdbf,#fcfdc8,#fcf6b8,#fcfbbd,#fcf4b6,#fcecae,#fde9aa,#fde5a7,#fcecae,#fddc9e,#fecf92,#fecf92,#fec185,#feb47b,#feb47b,#fea571,#feac76,#fea571,#fd9869,#fc8a62,#fd9b6b,#fc8961,#fd9b6b,#f8765c,#fa7f5e,#f66e5c,#f7705c,#f7705c,#f05f5e,#f1605d,#f05f5e,#ee5b5e,#ee5b5e,#ee5b5e,#ea5661,#e55064,#dc4869,#ca3e72,#c23b75,#bc3978,#ba3878,#a6317d,#932b80,#942c80,#792282,#681c81,#56147d,#4e117b,#29115a,#221150,#1d1147,#0d0a29,#040414,#020109,#010106,#000004,#000004,#000004,#000004,#000004,#000004,#000004,#000004,#000004,#000004,#000004,#000004,#010005,#000004,#000004,#000004,#000004,#000004,#000004)"></i><i style="top:27px;height:8.3px;background:linear-gradient(90deg,#c03a76,#d6456c,#d6456c,#cf4070,#d5446d,#d8456c,#df4a68,#e04c67,#de4968,#f2645c,#f2625d,#f7725c,#f97b5d,#f9785d,#fb8560,#fd9266,#fd9b6b,#fd9b6b,#fe9f6d,#feac76,#feac76,#feb67c,#feb078,#feca8d,#fec88c,#fed597,#fde0a1,#fdebac,#fcfbbd,#fcf7b9,#fcf6b8,#fcfdc7,#fcfdcd,#fdfed7,#fdfed8,#fdfedd,#fefee3,#fefee7,#fefeeb,#fefff1,#fefef0,#fefeee,#fefeea,#fefee7,#fefee6,#fefee3,#fefee3,#fdfedf,#fdfedc,#fdfede,#fdfedd,#fdfed4,#fdfed5,#fcfdcc,#fdfed8,#fdfede,#fefee7,#fefeed,#fefff3,#fffff6,#fffff9,#fffffc,#fffffe,#fffffb,#fefff5,#fefef0,#fefeeb,#fefee8,#fdfee0,#fdfedb,#fdfeda,#fdfedb,#fcfdce,#fcfdc3,#fcfdc7,#fde9aa,#fcf0b2,#fde7a9,#fed799,#fed194,#fdda9c,#feb078,#feb27a,#feb078,#fea973,#fe9f6d,#feb67c,#fea772,#fd9266,#fd9668,#fd9b6b,#fd9668,#fa815f,#fc8961,#fc8961,#fb8560,#f8745c,#e95462,#f2625d,#df4a68,#d5446d,#d0416f,#ad347c,#992d80,#9c2e7f,#842681,#782281,#6a1c81,#701f81,#54137d,#3d0f71,#331067,#1d1147,#160f3b,#090720,#02020b,#010108,#000004,#000004,#010005,#000004,#000004,#000004,#000004,#000004,#000004,#000004,#000004,#000004,#000004,#000004)"></i><i style="top:35px;height:8.3px;background:linear-gradient(90deg,#bd3977,#ba3878,#c23b75,#c73d73,#c43c75,#c23b75,#c43c75,#d8456c,#d5446d,#ca3e72,#cf4070,#e44f64,#e55064,#df4a68,#e95462,#df4a68,#ec5860,#f3655c,#ed5a5f,#f56b5c,#fa815f,#fc8c63,#fb8761,#fd9869,#feac76,#fea16e,#fea16e,#feb27a,#feb97f,#fed597,#fed89a,#fddea0,#fcfdc1,#fcf6b8,#fcfdc0,#fcfdc8,#fcfdce,#fdfdd2,#fdfed9,#fdfede,#fdfeda,#fdfedb,#fdfed9,#fdfed7,#fdfed7,#fdfdd2,#fdfed8,#fdfed8,#fcfdc8,#fdfdd0,#fcfdcc,#fcfdc2,#fdfdcf,#fcfdc9,#fdfed5,#fdfedf,#fefeec,#fefff3,#fffff7,#fffffb,#fff,#fff,#fff,#fff,#fff,#fff,#fffffd,#fffffc,#fffffa,#fffff8,#fffff6,#fefff4,#fefff2,#fefeee,#fefee8,#fefee5,#fdfedf,#fdfeda,#fdfed6,#fdfdd0,#fcfdc6,#fdfdd1,#fcfdc8,#fcfdc2,#fcfdc6,#fcfdbf,#fcf4b6,#fcfdbf,#fdebac,#fceeb0,#fcecae,#fcf0b2,#fddea0,#fec488,#feb078,#feae77,#feb67c,#feb67c,#fea772,#fc8e64,#fc8c63,#f66e5c,#f05f5e,#de4968,#cd4071,#bc3978,#b2357b,#a6317d,#942c80,#752181,#701f81,#732081,#651a80,#681c81,#4c117a,#3d0f71,#2f1163,#1c1044,#0b0924,#040414,#010005,#000004,#010005,#000004,#000004,#000004,#000004,#000004,#000004,#000004,#000004)"></i><i style="top:43px;height:8.3px;background:linear-gradient(90deg,#aa337d,#b73779,#aa337d,#ae347b,#b3367a,#c23b75,#b0357b,#b2357b,#c43c75,#b0357b,#c53c74,#c23b75,#bc3978,#c53c74,#c43c75,#d2426f,#d9466b,#e44f64,#e04c67,#e55064,#e75263,#ed5a5f,#f4675c,#ea5661,#f66e5c,#f56b5c,#f8765c,#fa7f5e,#fc8a62,#fc8c63,#fc8e64,#fd9b6b,#fe9f6d,#fea36f,#feac76,#feb77e,#feb77e,#febb81,#feb67c,#fec488,#feb77e,#fed194,#fec68a,#fdda9c,#fcecae,#fed395,#fde3a5,#fddea0,#fdda9c,#fdda9c,#fde9aa,#fcf2b4,#fcf4b6,#fcf2b4,#fcfdbf,#fcfdce,#fdfede,#fefee7,#fefff3,#fff,#fff,#fff,#fff,#fff,#fff,#fff,#fff,#fff,#fff,#fff,#fff,#fff,#fff,#fff,#fff,#fffffe,#fffffc,#fffffa,#fffff8,#fffff6,#fefff5,#fefff3,#fefeef,#fefee9,#fefee4,#fdfee1,#fdfede,#fdfed6,#fcfdcd,#fdfdd0,#fcfdcc,#fdfed3,#fcfbbd,#fcfdcc,#fcf9bb,#fde3a5,#fde3a5,#fecc8f,#feca8d,#feb27a,#feb078,#fd9b6b,#fc8961,#fb8560,#f4675c,#e95462,#d8456c,#bc3978,#ae347b,#a1307e,#8c2981,#912b81,#842681,#792282,#681c81,#56147d,#54137d,#4c117a,#440f76,#331067,#221150,#120d31,#0a0822,#02020d,#020109,#010005,#010106,#000004,#000004,#010005,#000004)"></i><i style="top:51px;height:8.3px;background:linear-gradient(90deg,#a8327d,#a8327d,#a5317e,#b73779,#b3367a,#ab337c,#b2357b,#b0357b,#ba3878,#b5367a,#b5367a,#b83779,#bd3977,#c53c74,#bf3a77,#c73d73,#cf4070,#e04c67,#db476a,#c43c75,#db476a,#e04c67,#e85362,#f1605d,#f05f5e,#e44f64,#f3655c,#f56b5c,#f8745c,#fa815f,#f7705c,#fc8961,#f9785d,#fc8a62,#fd9467,#fea973,#fc9065,#fc8961,#fe9f6d,#fd9668,#feaa74,#fd9a6a,#fd9a6a,#feae77,#fea571,#feb078,#fe9d6c,#feb97f,#fea973,#febb81,#feb47b,#feb77e,#fecc8f,#fddea0,#fcf6b8,#fcfbbd,#fcfdce,#fdfede,#fefeef,#fff,#fff,#fff,#fff,#fff,#fff,#fff,#fff,#fff,#fff,#fff,#fff,#fff,#fff,#fff,#fff,#fff,#fff,#fff,#fff,#fff,#fff,#fff,#fff,#fff,#fff,#fff,#fff,#fff,#fff,#fff,#fff,#fffff8,#fefee9,#fdfedb,#fdfdd0,#fcfdc6,#fcfdbf,#fcf6b8,#fdebac,#fed89a,#fed597,#fec488,#feb97f,#feae77,#fea973,#fd9467,#f4695c,#ed5a5f,#dc4869,#c23b75,#aa337d,#9b2e7f,#a8327d,#a1307e,#962c80,#832681,#8b2981,#812581,#701f81,#651a80,#4f127b,#57157e,#36106b,#390f6e,#29115a,#180f3d,#110c2f,#050416,#02020d,#010108,#000004)"></i><i style="top:59px;height:8.3px;background:linear-gradient(90deg,#992d80,#a8327d,#a5317e,#a1307e,#a5317e,#aa337d,#bc3978,#ae347b,#ae347b,#aa337d,#ab337c,#a8327d,#ba3878,#ba3878,#b5367a,#b3367a,#c03a76,#c23b75,#bf3a77,#cd4071,#d2426f,#d5446d,#de4968,#d8456c,#e85362,#de4968,#ea5661,#ed5a5f,#ec5860,#f1605d,#ed5a5f,#f05f5e,#f66e5c,#f7705c,#fa815f,#fa815f,#fb8560,#fb835f,#fa815f,#fa815f,#fa7d5e,#f97b5d,#fd9467,#f8765c,#fb8560,#fd9266,#fc9065,#fd9b6b,#fd9668,#fc8e64,#fea16e,#fea16e,#febf84,#fed597,#fed799,#fcf2b4,#fcfbbd,#fcfdcb,#fefee3,#fffff6,#fff,#fff,#fff,#fff,#fff,#fff,#fff,#fff,#fff,#fff,#fff,#fff,#fff,#fff,#fff,#fff,#fff,#fff,#fff,#fff,#fff,#fff,#fff,#fff,#fff,#fff,#fff,#fff,#fff,#fff,#fff,#fff,#fff,#fffffe,#fffff7,#fefeef,#fefeeb,#fdfee2,#fdfee1,#fdfed8,#fcfdcb,#fcfdca,#fcfdc0,#fcf9bb,#fcf4b6,#fde3a5,#fed194,#febf84,#fea36f,#fd9b6b,#fc8961,#f66e5c,#eb5760,#d6456c,#cc3f71,#a8327d,#a8327d,#a1307e,#a3307e,#992d80,#902a81,#802582,#7e2482,#651a80,#5f187f,#420f75,#51127c,#451077,#2a115c,#21114e,#150e38)"></i><i style="top:67px;height:8.3px;background:linear-gradient(90deg,#812581,#912b81,#932b80,#8b2981,#942c80,#962c80,#a1307e,#a5317e,#a1307e,#a6317d,#a8327d,#9b2e7f,#ae347b,#ae347b,#b83779,#a8327d,#bf3a77,#b83779,#c23b75,#cd4071,#bc3978,#c03a76,#d5446d,#c83e73,#cd4071,#dc4869,#d9466b,#e34e65,#e34e65,#e44f64,#ec5860,#f2645c,#eb5760,#f4675c,#f4675c,#f2625d,#f2645c,#ed5a5f,#ef5d5e,#f2645c,#f1605d,#f56b5c,#ed5a5f,#f3655c,#f3655c,#f66e5c,#fa7f5e,#f66e5c,#fb8560,#fa815f,#fc9065,#fea772,#fea571,#febb81,#fecc8f,#fddea0,#fceeb0,#fcfbbd,#fdfed9,#fefff2,#fffff9,#fff,#fff,#fff,#fff,#fff,#fff,#fff,#fff,#fff,#fff,#fff,#fff,#fff,#fff,#fff,#fff,#fff,#fff,#fff,#fff,#fff,#fff,#fff,#fff,#fff,#fff,#fff,#fff,#fffff9,#fefff2,#fefeeb,#fefee3,#fdfede,#fdfed9,#fdfed8,#fdfed7,#fdfed5,#fdfed9,#fdfed6,#fdfdcf,#fdfed8,#fdfdd1,#fdfed6,#fdfeda,#fdfedf,#fdfedf,#fdfed8,#fcfdc7,#fcf2b4,#fde0a1,#feae77,#fc8961,#f9785d,#f4695c,#e85362,#de4968,#cd4071,#c03a76,#b83779,#a5317e,#aa337d,#932b80,#912b81,#802582,#862781,#6e1e81,#7c2382,#5f187f,#601880,#57157e)"></i><i style="top:75px;height:8.3px;background:linear-gradient(90deg,#7b2382,#8e2a81,#842681,#942c80,#842681,#892881,#832681,#982d80,#9e2f7f,#9c2e7f,#9e2f7f,#9c2e7f,#b83779,#b0357b,#a02f7f,#ae347b,#a1307e,#c43c75,#ca3e72,#ca3e72,#c23b75,#c03a76,#bd3977,#cd4071,#c73d73,#cd4071,#cf4070,#d3436e,#df4a68,#e75263,#e04c67,#e34e65,#df4a68,#e04c67,#e44f64,#f05f5e,#ed5a5f,#f05f5e,#ee5b5e,#ea5661,#e55064,#ea5661,#e55064,#f66c5c,#f2625d,#f2625d,#f9795d,#f56b5c,#f8765c,#f9795d,#fc8a62,#fc9065,#fea36f,#feb67c,#feb47b,#fec287,#fcf2b4,#fcfbbd,#fdfed4,#fefee7,#fffff6,#fffffd,#fff,#fff,#fff,#fff,#fff,#fff,#fff,#fff,#fff,#fff,#fff,#fff,#fff,#fff,#fff,#fff,#fff,#fff,#fff,#fff,#fff,#fff,#fffffc,#fefff5,#fefeee,#fefee6,#fdfede,#fdfedd,#fdfede,#fdfedb,#fdfed7,#fdfed7,#fdfdcf,#fdfed6,#fdfedd,#fefee5,#fefeee,#fffff8,#fff,#fff,#fff,#fff,#fff,#fff,#fff,#fff,#fff,#fffffe,#fefef0,#fdfee2,#fcfdcc,#fcfdbf,#fed89a,#feb078,#fea973,#fd9b6b,#f9785d,#ed5a5f,#f2625d,#dc4869,#ca3e72,#c53c74,#a3307e,#a8327d,#9e2f7f,#a8327d,#8b2981,#832681,#782281)"></i><i style="top:83px;height:8.3px;background:linear-gradient(90deg,#8e2a81,#912b81,#932b80,#902a81,#9e2f7f,#932b80,#932b80,#982d80,#942c80,#902a81,#8b2981,#9c2e7f,#962c80,#a8327d,#9b2e7f,#932b80,#a8327d,#b3367a,#ae347b,#b5367a,#ba3878,#c83e73,#c03a76,#c03a76,#bd3977,#b83779,#d0416f,#d0416f,#c43c75,#d3436e,#d5446d,#d2426f,#d6456c,#e04c67,#d6456c,#de4968,#e34e65,#e44f64,#e55064,#e95462,#ec5860,#e75263,#ec5860,#eb5760,#f4695c,#e95462,#f05f5e,#f7725c,#f9785d,#fb8560,#fc9065,#fea571,#fea571,#febb81,#fec88c,#fecd90,#fceeb0,#fcfdbf,#fdfed8,#fefee6,#fefff3,#fff,#fff,#fff,#fff,#fff,#fff,#fff,#fff,#fff,#fff,#fff,#fff,#fff,#fff,#fff,#fff,#fff,#fff,#fff,#fefff5,#fefeec,#fefee6,#fdfedb,#fdfeda,#fdfdd0,#fcfdc7,#fcfdc4,#fcfdca,#fcfdc5,#fcfdbf,#fcfdc5,#fcfdbf,#fcfdca,#fcfdc9,#fcfdce,#fdfed6,#fdfeda,#fefeec,#fffffb,#fff,#fff,#fff,#fff,#fff,#fff,#fff,#fff,#fff,#fff,#fff,#fff,#fff,#fff,#fff,#fffffd,#fefee3,#fcfdcc,#fddc9e,#feb77e,#feac76,#fd9467,#f66e5c,#f05f5e,#e24d66,#cc3f71,#c83e73,#ad347c,#ad347c,#b5367a,#a6317d)"></i><i style="top:91px;height:8.3px;background:linear-gradient(90deg,#8c2981,#932b80,#982d80,#9c2e7f,#8e2a81,#902a81,#7c2382,#812581,#8e2a81,#812581,#892881,#802582,#9b2e7f,#912b81,#992d80,#8e2a81,#932b80,#ae347b,#a1307e,#a3307e,#ae347b,#b2357b,#a1307e,#ab337c,#b5367a,#b73779,#bc3978,#b73779,#ba3878,#c03a76,#bc3978,#bd3977,#c03a76,#c73d73,#c83e73,#c83e73,#cd4071,#d2426f,#d8456c,#dc4869,#d3436e,#e55064,#d9466b,#ea5661,#e85362,#f1605d,#f56b5c,#ee5b5e,#f97b5d,#fb835f,#fb8761,#fd9a6a,#fd9b6b,#fea973,#fea571,#febb81,#fec287,#fecf92,#fecd90,#fcecae,#fcf6b8,#fceeb0,#fcf6b8,#fcfdbf,#fdfdcf,#fdfedb,#fdfeda,#fdfedb,#fefee4,#fefee7,#fefeeb,#fefeef,#fefff2,#fefeef,#fefeec,#fefee9,#fefee7,#fefee2,#fdfedd,#fdfed7,#fcfdc8,#fcf6b8,#fddc9e,#fed194,#fec88c,#febb81,#feae77,#feb27a,#fea571,#fea36f,#fea772,#fe9f6d,#fea973,#feb67c,#febd82,#febb81,#fed89a,#fcecae,#fcfdca,#fefeec,#fff,#fff,#fff,#fff,#fff,#fff,#fff,#fff,#fff,#fff,#fff,#fff,#fff,#fff,#fff,#fff,#fff,#fff,#fff,#fff,#fefff2,#fdfed8,#fcfdc4,#fcf0b2,#fec185,#fea973,#fd9869,#f66e5c,#ef5d5e,#eb5760,#e55064)"></i><i style="top:99px;height:8.3px;background:linear-gradient(90deg,#aa337d,#ad347c,#a5317e,#a6317d,#9e2f7f,#962c80,#9e2f7f,#9c2e7f,#a5317e,#a8327d,#9b2e7f,#9c2e7f,#932b80,#8e2a81,#932b80,#932b80,#962c80,#942c80,#a1307e,#942c80,#8c2981,#9c2e7f,#992d80,#a3307e,#ad347c,#a3307e,#aa337d,#b0357b,#a8327d,#b3367a,#ba3878,#bf3a77,#c43c75,#c23b75,#c23b75,#b73779,#b0357b,#bf3a77,#d2426f,#ca3e72,#c03a76,#d6456c,#e34e65,#dc4869,#ef5d5e,#ec5860,#f7725c,#f8745c,#fd9869,#f9785d,#fc8a62,#fa7f5e,#fd9a6a,#fd9668,#fea16e,#fe9f6d,#fd9b6b,#fea973,#feaa74,#feb67c,#fec88c,#fed89a,#fddea0,#fde3a5,#fde5a7,#fcf4b6,#fceeb0,#fcf6b8,#fcfbbd,#fcf6b8,#fcf6b8,#fcf7b9,#fcfdbf,#fcfbbd,#fcf7b9,#fcf9bb,#fcf0b2,#fcf9bb,#fdebac,#fdda9c,#fdda9c,#fecf92,#febd82,#feac76,#fea973,#fe9f6d,#fd9b6b,#fd9266,#fe9f6d,#fb8761,#fd9467,#fb835f,#f7725c,#fa7f5e,#fb835f,#fc8c63,#feb67c,#febf84,#fde3a5,#fcf7b9,#fefee5,#fff,#fff,#fff,#fff,#fff,#fff,#fff,#fff,#fff,#fff,#fff,#fff,#fff,#fff,#fff,#fff,#fff,#fff,#fff,#fff,#fff,#fff,#fffffb,#fefee9,#fdfdcf,#fcf4b6,#fde7a9,#fed799,#feb67c,#feb67c)"></i><i style="top:107px;height:8.3px;background:linear-gradient(90deg,#bc3978,#bc3978,#b5367a,#c03a76,#b83779,#ba3878,#ab337c,#bc3978,#aa337d,#bc3978,#b73779,#ad347c,#ae347b,#ab337c,#a6317d,#a6317d,#9e2f7f,#982d80,#912b81,#a1307e,#992d80,#992d80,#a02f7f,#992d80,#9b2e7f,#a5317e,#aa337d,#aa337d,#9c2e7f,#ab337c,#ad347c,#b3367a,#ab337c,#ae347b,#b83779,#b73779,#b83779,#c23b75,#cd4071,#ca3e72,#d6456c,#cd4071,#de4968,#de4968,#dc4869,#e55064,#e95462,#f1605d,#f2645c,#f97b5d,#f8745c,#f7705c,#fa7f5e,#fc8a62,#fc8961,#fd9a6a,#fc9065,#fd9869,#feb27a,#fea973,#feb47b,#febb81,#fec287,#fec68a,#fecc8f,#fddea0,#fed395,#fdda9c,#fde2a3,#fdda9c,#fed395,#fde3a5,#fdebac,#fde5a7,#fdda9c,#fde9aa,#fceeb0,#fecc8f,#febd82,#fecd90,#fec68a,#fec488,#febb81,#feac76,#fea772,#fd9b6b,#fc8e64,#fb835f,#fa7d5e,#fa815f,#f97b5d,#f7705c,#f9795d,#f56b5c,#f97b5d,#fc8c63,#fc8961,#feaa74,#fecd90,#fde7a9,#fcf4b6,#fdfeda,#fefeee,#fff,#fff,#fff,#fff,#fff,#fff,#fff,#fff,#fff,#fff,#fff,#fff,#fff,#fff,#fff,#fff,#fff,#fff,#fff,#fff,#fff,#fff,#fff,#fffff9,#fefff2,#fefeeb,#fefee6,#fdfede)"></i><i style="top:115px;height:8.3px;background:linear-gradient(90deg,#ba3878,#c43c75,#b0357b,#c53c74,#c23b75,#b73779,#cf4070,#c43c75,#cf4070,#d2426f,#bf3a77,#bf3a77,#c73d73,#b83779,#ca3e72,#c23b75,#c53c74,#ad347c,#b83779,#b73779,#a3307e,#b3367a,#a3307e,#ad347c,#a1307e,#b0357b,#b73779,#aa337d,#aa337d,#b5367a,#aa337d,#ae347b,#b73779,#b73779,#c23b75,#c43c75,#cc3f71,#c23b75,#cf4070,#c43c75,#d3436e,#de4968,#e34e65,#cf4070,#db476a,#e34e65,#dc4869,#e85362,#ec5860,#ea5661,#ee5b5e,#ef5d5e,#f56b5c,#f9785d,#f8745c,#fc8c63,#f66c5c,#f9795d,#fc8a62,#fa815f,#fd9668,#fea16e,#fea36f,#fea571,#feb67c,#feb67c,#febd82,#febd82,#feb67c,#feb67c,#febd82,#fec488,#fec488,#feca8d,#fec185,#fec287,#feb77e,#feac76,#feb67c,#feaa74,#fd9869,#fc9065,#fe9f6d,#f2645c,#fb835f,#f8745c,#f66e5c,#f4675c,#f1605d,#f8765c,#f05f5e,#f1605d,#f4695c,#f3655c,#f3655c,#f8765c,#fa7d5e,#fea36f,#fea772,#feb67c,#fdebac,#fcfbbd,#fdfed3,#fefee8,#fffff9,#fff,#fff,#fff,#fff,#fff,#fff,#fff,#fff,#fff,#fff,#fff,#fff,#fff,#fff,#fff,#fff,#fff,#fff,#fff,#fff,#fff,#fff,#fff,#fff,#fff,#fff)"></i><i style="top:123px;height:8.3px;background:linear-gradient(90deg,#a6317d,#ab337c,#ab337c,#a6317d,#a3307e,#a6317d,#b2357b,#aa337d,#c43c75,#c23b75,#ad347c,#ba3878,#ca3e72,#cd4071,#cd4071,#ba3878,#c23b75,#cf4070,#c53c74,#c23b75,#c83e73,#ca3e72,#bf3a77,#b83779,#b83779,#a6317d,#9e2f7f,#a5317e,#902a81,#992d80,#932b80,#a1307e,#942c80,#aa337d,#a8327d,#a8327d,#aa337d,#b73779,#b73779,#bd3977,#d6456c,#df4a68,#ea5661,#df4a68,#e04c67,#e75263,#f4675c,#f4675c,#e75263,#f2645c,#eb5760,#e75263,#ee5b5e,#f2645c,#f1605d,#f2645c,#f2625d,#f1605d,#f66c5c,#f4675c,#fa7d5e,#f8765c,#fc8c63,#f9785d,#fd9869,#fc8961,#fc8a62,#fd9869,#fe9f6d,#fd9869,#fd9869,#feae77,#fea571,#fc9065,#fd9467,#fe9f6d,#fc8e64,#fc8c63,#fd9266,#f8745c,#f8765c,#f4675c,#f3655c,#f2645c,#e75263,#ea5661,#e55064,#e55064,#d5446d,#d3436e,#e24d66,#dc4869,#e85362,#ec5860,#e95462,#f1605d,#f2625d,#ef5d5e,#f7705c,#fa815f,#feac76,#feb97f,#fed799,#fcecae,#fcfdc9,#fdfede,#fffffa,#fff,#fff,#fff,#fff,#fff,#fff,#fff,#fff,#fff,#fff,#fff,#fff,#fff,#fff,#fff,#fff,#fff,#fff,#fff,#fff,#fff,#fff,#fff,#fff)"></i><i style="top:131px;height:8.3px;background:linear-gradient(90deg,#a8327d,#b2357b,#bf3a77,#ae347b,#b83779,#ae347b,#b83779,#ae347b,#b3367a,#bc3978,#b83779,#c03a76,#cd4071,#c83e73,#c83e73,#ca3e72,#d5446d,#e24d66,#db476a,#db476a,#e24d66,#e44f64,#e55064,#df4a68,#d5446d,#c83e73,#c83e73,#c53c74,#c83e73,#c03a76,#b5367a,#ba3878,#a5317e,#ab337c,#b2357b,#bc3978,#c83e73,#d8456c,#e95462,#f97b5d,#f9795d,#fc8c63,#fea16e,#feb078,#fea571,#fc9065,#fa7f5e,#f7725c,#f66c5c,#ea5661,#d9466b,#e34e65,#de4968,#e75263,#f05f5e,#ed5a5f,#f56b5c,#e95462,#f3655c,#f66c5c,#f9785d,#f7705c,#fa7d5e,#fb835f,#fc8a62,#fb835f,#fb8560,#fe9d6c,#fe9f6d,#fea16e,#fea973,#feb078,#fe9f6d,#feae77,#feb47b,#feae77,#fea973,#fea973,#fd9467,#fd9b6b,#fea16e,#fe9f6d,#fc9065,#fa815f,#fa7d5e,#fa7f5e,#fb8560,#f8745c,#f2645c,#f4675c,#f4695c,#fa7d5e,#f7725c,#f7725c,#f8765c,#f8765c,#fa815f,#fc9065,#fd9668,#feaa74,#feb77e,#feca8d,#fddc9e,#fde5a7,#fcf6b8,#fcfdc7,#fefee6,#fffffd,#fff,#fff,#fff,#fff,#fff,#fff,#fff,#fff,#fff,#fff,#fff,#fff,#fff,#fff,#fff,#fff,#fff,#fff,#fff,#fff,#fff,#fff,#fff)"></i><i style="top:139px;height:8.3px;background:linear-gradient(90deg,#b5367a,#b83779,#b2357b,#b83779,#b3367a,#b0357b,#c43c75,#ab337c,#ba3878,#b83779,#b2357b,#bf3a77,#c53c74,#ca3e72,#c43c75,#d3436e,#d5446d,#de4968,#cf4070,#dc4869,#df4a68,#e95462,#e55064,#e95462,#e44f64,#e34e65,#e34e65,#eb5760,#de4968,#d3436e,#e34e65,#df4a68,#e44f64,#e44f64,#df4a68,#df4a68,#de4968,#e55064,#e55064,#ee5b5e,#f4695c,#f05f5e,#f2645c,#f4695c,#f9785d,#f7705c,#f66c5c,#ef5d5e,#e85362,#e75263,#d9466b,#e24d66,#d9466b,#de4968,#de4968,#d5446d,#de4968,#ea5661,#dc4869,#e55064,#ee5b5e,#f1605d,#f1605d,#f66c5c,#f3655c,#f7705c,#f8765c,#f8745c,#fb835f,#fb835f,#fc8c63,#f9785d,#fd9467,#fc9065,#fd9266,#fd9a6a,#fd9668,#fea571,#fea973,#fea772,#fe9f6d,#fc9065,#fb8560,#f7705c,#f66e5c,#f9785d,#f7705c,#f2645c,#f3655c,#f56b5c,#f4695c,#fb835f,#f9795d,#fd9266,#fe9d6c,#fea36f,#feae77,#feb97f,#fea973,#fec68a,#fed194,#fed194,#fde3a5,#fddc9e,#fcf0b2,#fcfdc2,#fdfdd2,#fefee6,#fefff2,#fff,#fff,#fff,#fff,#fff,#fff,#fff,#fff,#fff,#fff,#fff,#fff,#fff,#fff,#fff,#fff,#fff,#fff,#fff,#fff,#fff,#fff)"></i><i style="top:147px;height:8.3px;background:linear-gradient(90deg,#a1307e,#a02f7f,#a02f7f,#992d80,#b2357b,#a1307e,#9c2e7f,#ab337c,#ad347c,#aa337d,#a6317d,#aa337d,#c23b75,#b83779,#b83779,#cd4071,#bf3a77,#c03a76,#cd4071,#d2426f,#df4a68,#cf4070,#dc4869,#d0416f,#e04c67,#d9466b,#dc4869,#dc4869,#e75263,#ea5661,#e04c67,#df4a68,#de4968,#e44f64,#db476a,#f2645c,#de4968,#e85362,#de4968,#d2426f,#d0416f,#d6456c,#d2426f,#cf4070,#c43c75,#d9466b,#d5446d,#b5367a,#c83e73,#d0416f,#c53c74,#c43c75,#cd4071,#c53c74,#b5367a,#c53c74,#bc3978,#cd4071,#ba3878,#b3367a,#cc3f71,#d8456c,#d8456c,#db476a,#d8456c,#ec5860,#e75263,#f7725c,#f3655c,#f66e5c,#f66c5c,#f8745c,#fc8c63,#f97b5d,#fc8c63,#fc8961,#fe9d6c,#fc8e64,#fe9f6d,#fea772,#feb47b,#fd9668,#fd9869,#fe9f6d,#feaa74,#fd9467,#fea16e,#fd9266,#fc8c63,#fb8560,#fd9668,#fea16e,#fd9a6a,#fc8a62,#fd9b6b,#feac76,#feae77,#feac76,#feb97f,#fea973,#feb27a,#fdda9c,#fed597,#fed89a,#fde2a3,#fde2a3,#fcfdc3,#fcfdc5,#fdfeda,#fefeed,#fffffb,#fff,#fff,#fff,#fff,#fff,#fff,#fff,#fff,#fff,#fff,#fff,#fff,#fff,#fff,#fff,#fff,#fff,#fff,#fff,#fff)"></i><i style="top:155px;height:8.3px;background:linear-gradient(90deg,#b5367a,#b0357b,#ab337c,#a02f7f,#b3367a,#a3307e,#b2357b,#a6317d,#aa337d,#aa337d,#ae347b,#a8327d,#ad347c,#a8327d,#b2357b,#b3367a,#b83779,#b2357b,#bd3977,#bf3a77,#c73d73,#c53c74,#bf3a77,#cd4071,#c53c74,#cf4070,#c03a76,#d5446d,#d9466b,#d0416f,#dc4869,#d8456c,#e44f64,#e24d66,#d8456c,#de4968,#cd4071,#d0416f,#c83e73,#c03a76,#b0357b,#ab337c,#ab337c,#a3307e,#a8327d,#ab337c,#a6317d,#b0357b,#ae347b,#b5367a,#bc3978,#c43c75,#b73779,#ba3878,#ab337c,#b5367a,#a1307e,#b3367a,#a1307e,#c03a76,#c23b75,#cd4071,#cc3f71,#c83e73,#cc3f71,#de4968,#ef5d5e,#f3655c,#f2645c,#f4695c,#f7705c,#fa7d5e,#fc8961,#fc8e64,#fe9d6c,#fd9a6a,#fec287,#fec488,#fddc9e,#fde0a1,#fdebac,#fcfbbd,#fcfdc6,#fcfdc8,#fdfdd1,#fdfedf,#fdfee1,#fdfedb,#fdfedb,#fdfed4,#fdfed9,#fcf9bb,#fdebac,#fecc8f,#febb81,#fea36f,#fe9f6d,#fe9f6d,#fea16e,#feb078,#fec68a,#feb77e,#fecc8f,#fecc8f,#fecf92,#fcecae,#fcf2b4,#fcfdc1,#fcfdc9,#fdfed9,#fefee5,#fefff2,#fffffd,#fff,#fff,#fff,#fff,#fff,#fff,#fff,#fff,#fff,#fff,#fff,#fff,#fff,#fff,#fff,#fff,#fff,#fff)"></i><i style="top:163px;height:8.3px;background:linear-gradient(90deg,#c53c74,#bd3977,#d0416f,#bc3978,#bf3a77,#b0357b,#c43c75,#b3367a,#bf3a77,#bf3a77,#bc3978,#ad347c,#ab337c,#b5367a,#b73779,#b83779,#ad347c,#ad347c,#bc3978,#ab337c,#b83779,#b3367a,#ae347b,#b3367a,#c23b75,#c23b75,#c73d73,#c23b75,#c43c75,#ca3e72,#ca3e72,#bc3978,#c23b75,#d0416f,#bc3978,#c23b75,#bc3978,#bc3978,#a3307e,#962c80,#9b2e7f,#902a81,#962c80,#942c80,#9e2f7f,#9b2e7f,#a02f7f,#a1307e,#ad347c,#bd3977,#d2426f,#d5446d,#d0416f,#c43c75,#b83779,#c53c74,#bf3a77,#c03a76,#b3367a,#b73779,#c43c75,#c83e73,#bd3977,#c83e73,#c03a76,#d9466b,#e24d66,#f2645c,#f2645c,#ed5a5f,#f4675c,#f66e5c,#fa815f,#fd9467,#fd9b6b,#feac76,#feb47b,#fed89a,#fde5a7,#fcf6b8,#fcfdc5,#fcfdce,#fdfeda,#fdfedd,#fefee7,#fefeec,#fefff2,#fefff2,#fefff2,#fefff2,#fefff2,#fefff0,#fcfdcc,#fde9aa,#fecf92,#fea16e,#fd9467,#fd9b6b,#fea16e,#fea772,#fea16e,#feaa74,#feae77,#feb77e,#fec488,#fed89a,#fec88c,#fddc9e,#fceeb0,#fcf6b8,#fcfdce,#fdfed8,#fefee9,#fffff7,#fff,#fff,#fff,#fff,#fff,#fff,#fff,#fff,#fff,#fff,#fff,#fff,#fff,#fff,#fff,#fff,#fff)"></i><i style="top:171px;height:8.3px;background:linear-gradient(90deg,#ba3878,#bc3978,#b3367a,#c23b75,#c23b75,#bc3978,#c53c74,#cf4070,#cd4071,#d0416f,#cd4071,#d8456c,#d5446d,#dc4869,#e75263,#cc3f71,#d8456c,#dc4869,#d9466b,#e55064,#de4968,#ea5661,#e24d66,#de4968,#d6456c,#d9466b,#d3436e,#d6456c,#cd4071,#cd4071,#c73d73,#c23b75,#b2357b,#bf3a77,#c43c75,#bc3978,#bd3977,#c83e73,#cc3f71,#bd3977,#cc3f71,#d2426f,#ca3e72,#cf4070,#d2426f,#cc3f71,#d8456c,#dc4869,#db476a,#ed5a5f,#f2645c,#ea5661,#f1605d,#e55064,#d6456c,#d2426f,#d0416f,#d3436e,#c53c74,#c43c75,#bf3a77,#c83e73,#bf3a77,#c43c75,#cd4071,#cd4071,#c73d73,#d3436e,#dc4869,#de4968,#e95462,#ee5b5e,#ec5860,#ec5860,#f4675c,#fa7d5e,#fb8560,#fc8a62,#fc8a62,#f97b5d,#fb835f,#fc8a62,#fb835f,#fc8961,#f8765c,#f7705c,#fb8761,#f9785d,#f7725c,#f8745c,#f8765c,#fa7d5e,#eb5760,#f7725c,#fa7d5e,#f4695c,#f66e5c,#fc8961,#feae77,#feb67c,#fed89a,#fde5a7,#fcfdc5,#fcfdce,#fdfdcf,#fdfed4,#fdfedb,#fdfeda,#fefee9,#fefeef,#fffff6,#fffffd,#fff,#fff,#fff,#fff,#fff,#fff,#fff,#fff,#fff,#fff,#fff,#fff,#fff,#fff,#fff,#fff,#fff,#fff,#fff)"></i><i style="top:179px;height:8.3px;background:linear-gradient(90deg,#832681,#8e2a81,#912b81,#882781,#a02f7f,#a1307e,#a02f7f,#ad347c,#b0357b,#bc3978,#bd3977,#c43c75,#cc3f71,#d5446d,#db476a,#e95462,#e85362,#e75263,#f4695c,#f2625d,#f8765c,#f3655c,#f8745c,#fa815f,#fa7d5e,#f4675c,#e44f64,#d3436e,#c83e73,#bf3a77,#bd3977,#b83779,#b5367a,#c03a76,#b3367a,#c53c74,#cd4071,#c43c75,#c53c74,#cd4071,#cf4070,#d8456c,#c43c75,#d3436e,#df4a68,#d8456c,#e34e65,#e85362,#df4a68,#f05f5e,#f05f5e,#ed5a5f,#ea5661,#e34e65,#d5446d,#d3436e,#d9466b,#d6456c,#c53c74,#ca3e72,#cc3f71,#b83779,#d0416f,#c43c75,#c43c75,#d3436e,#db476a,#cd4071,#d2426f,#d3436e,#d9466b,#dc4869,#dc4869,#d9466b,#ef5d5e,#e75263,#e85362,#f2625d,#ee5b5e,#f56b5c,#f4695c,#f4695c,#f05f5e,#f4675c,#eb5760,#ec5860,#f2625d,#ee5b5e,#f2645c,#e95462,#dc4869,#e44f64,#e04c67,#e85362,#e75263,#ed5a5f,#f4675c,#f8765c,#fb8560,#fea16e,#fea973,#fecd90,#fcecae,#fcfdc5,#fcfdc8,#fcfdcc,#fdfed4,#fdfedb,#fdfedf,#fefee8,#fefeef,#fefff5,#fffffb,#fff,#fff,#fff,#fff,#fff,#fff,#fff,#fff,#fff,#fff,#fff,#fff,#fff,#fff,#fff,#fff,#fff,#fff)"></i><i style="top:187px;height:8.3px;background:linear-gradient(90deg,#792282,#7e2482,#681c81,#752181,#782281,#782281,#812581,#792282,#8b2981,#962c80,#982d80,#a1307e,#9e2f7f,#ae347b,#b5367a,#ba3878,#c03a76,#d0416f,#cd4071,#e44f64,#e44f64,#e55064,#de4968,#e75263,#e34e65,#e24d66,#d9466b,#e24d66,#df4a68,#d8456c,#d5446d,#e04c67,#e34e65,#ee5b5e,#fa7d5e,#fa815f,#feae77,#fe9f6d,#feb77e,#febb81,#fec185,#feb77e,#fd9668,#fd9b6b,#fb8761,#f56b5c,#e04c67,#ea5661,#e55064,#f05f5e,#f7725c,#f8745c,#f4675c,#eb5760,#ef5d5e,#e85362,#df4a68,#d3436e,#d6456c,#c73d73,#de4968,#d6456c,#d2426f,#d9466b,#c83e73,#d5446d,#d2426f,#cf4070,#d8456c,#e04c67,#d5446d,#df4a68,#d8456c,#e34e65,#d6456c,#e55064,#e55064,#e75263,#eb5760,#e34e65,#e34e65,#e75263,#e24d66,#db476a,#e04c67,#e04c67,#ea5661,#e44f64,#e44f64,#e85362,#e44f64,#ed5a5f,#e24d66,#df4a68,#ee5b5e,#e95462,#ee5b5e,#f4695c,#f7725c,#fc9065,#fea571,#fec488,#fde7a9,#fcf4b6,#fcfdc0,#fcfdc8,#fdfed5,#fdfed9,#fdfeda,#fdfee0,#fefee6,#fefeee,#fefff4,#fffffb,#fff,#fff,#fff,#fff,#fff,#fff,#fff,#fff,#fff,#fff,#fff,#fff,#fff,#fff,#fff,#fff,#fff)"></i><i style="top:195px;height:8.3px;background:linear-gradient(90deg,#59157e,#54137d,#621980,#641a80,#5f187f,#681c81,#5f187f,#701f81,#6d1d81,#732081,#701f81,#802582,#7e2482,#7b2382,#882781,#8b2981,#9c2e7f,#8e2a81,#962c80,#b3367a,#a6317d,#b3367a,#b3367a,#bf3a77,#d3436e,#b73779,#cd4071,#d0416f,#d6456c,#d8456c,#dc4869,#ed5a5f,#ee5b5e,#ea5661,#f3655c,#f2645c,#fd9266,#fb8560,#f7725c,#fc8961,#fb8761,#fa7f5e,#f7725c,#f1605d,#ed5a5f,#de4968,#eb5760,#eb5760,#e55064,#eb5760,#e75263,#eb5760,#e44f64,#de4968,#e24d66,#e24d66,#d8456c,#e44f64,#d5446d,#bc3978,#cc3f71,#db476a,#d6456c,#df4a68,#cc3f71,#e24d66,#d2426f,#e04c67,#eb5760,#e04c67,#df4a68,#e55064,#dc4869,#e04c67,#ee5b5e,#e55064,#ea5661,#f7725c,#ee5b5e,#f66c5c,#f8745c,#f66c5c,#f4675c,#f9795d,#f56b5c,#fb835f,#fa815f,#f2645c,#f66e5c,#f1605d,#f4675c,#f1605d,#ee5b5e,#f4675c,#eb5760,#f3655c,#f1605d,#f2645c,#fa815f,#fc8961,#fe9f6d,#feb67c,#fecd90,#fde7a9,#fdebac,#fde5a7,#fcf0b2,#fcfdc7,#fdfdd2,#fdfede,#fefee6,#fefef0,#fffff6,#fffffa,#fff,#fff,#fff,#fff,#fff,#fff,#fff,#fff,#fff,#fff,#fff,#fff,#fff,#fff,#fff,#fff,#fff)"></i><i style="top:203px;height:8.3px;background:linear-gradient(90deg,#641a80,#601880,#681c81,#5f187f,#5d177f,#5c167f,#671b80,#6e1e81,#701f81,#721f81,#6b1d81,#732081,#6e1e81,#7c2382,#7c2382,#752181,#7c2382,#6d1d81,#832681,#792282,#7e2482,#892881,#962c80,#942c80,#ad347c,#bc3978,#c23b75,#cd4071,#cc3f71,#d9466b,#cc3f71,#cd4071,#d9466b,#d9466b,#d0416f,#df4a68,#c73d73,#c03a76,#ca3e72,#d6456c,#d0416f,#cd4071,#cc3f71,#cf4070,#cd4071,#cc3f71,#ca3e72,#bd3977,#d0416f,#c43c75,#c83e73,#c83e73,#cf4070,#c43c75,#d0416f,#d3436e,#cd4071,#c83e73,#c73d73,#bf3a77,#c73d73,#c53c74,#db476a,#d2426f,#d5446d,#e85362,#f1605d,#f3655c,#f4675c,#f8765c,#fa7f5e,#f66e5c,#fc8961,#fc8a62,#feb47b,#febd82,#fed597,#fcf4b6,#fdfed4,#fefee8,#fefff1,#fffffc,#fff,#fff,#fff,#fff,#fffffc,#fdfedf,#fcfdce,#fde9aa,#fec68a,#feb47b,#fea571,#fea36f,#fd9869,#fb8761,#fa815f,#f56b5c,#f2625d,#ef5d5e,#f4675c,#f66c5c,#f9795d,#fb8761,#fc8c63,#feae77,#fea973,#fec488,#fecf92,#fde9aa,#fcf0b2,#fcfdc2,#fdfedb,#fefee8,#fefff4,#fff,#fff,#fff,#fff,#fff,#fff,#fff,#fff,#fff,#fff,#fff,#fff,#fff,#fff,#fff,#fff)"></i><i style="top:211px;height:8.3px;background:linear-gradient(90deg,#5c167f,#59157e,#4e117b,#59157e,#5d177f,#57157e,#5c167f,#5c167f,#4a1079,#601880,#4f127b,#57157e,#621980,#5d177f,#601880,#721f81,#651a80,#782281,#7e2482,#7e2482,#6d1d81,#6e1e81,#812581,#982d80,#902a81,#942c80,#a1307e,#b2357b,#bf3a77,#bc3978,#bc3978,#c03a76,#bc3978,#b83779,#ad347c,#b83779,#b0357b,#b0357b,#ae347b,#a6317d,#b3367a,#bc3978,#ba3878,#b5367a,#bd3977,#bd3977,#b3367a,#b0357b,#982d80,#9e2f7f,#ad347c,#ad347c,#a6317d,#ab337c,#c53c74,#c83e73,#c43c75,#cc3f71,#c53c74,#c53c74,#c73d73,#db476a,#e95462,#e55064,#de4968,#f1605d,#f4675c,#fd9266,#feaa74,#febb81,#febb81,#feca8d,#fed597,#fde0a1,#fcfdbf,#fdfdd2,#fefeea,#fffffd,#fff,#fff,#fff,#fff,#fff,#fff,#fff,#fff,#fff,#fff,#fff,#fff,#fff,#fff,#fff,#fdfdcf,#fed799,#fea571,#fa815f,#ee5b5e,#e24d66,#e34e65,#eb5760,#ed5a5f,#f2625d,#f4675c,#fa7d5e,#fc8a62,#feac76,#feb27a,#fec88c,#fec488,#fddea0,#fcf0b2,#fcf6b8,#fcfdcc,#fdfee0,#fefff3,#fffff8,#fffffe,#fff,#fff,#fff,#fff,#fff,#fff,#fff,#fff,#fff,#fff,#fff,#fff,#fff)"></i><i style="top:219px;height:8.3px;background:linear-gradient(90deg,#51127c,#3f0f72,#440f76,#491078,#471078,#440f76,#491078,#491078,#4c117a,#4e117b,#440f76,#59157e,#4f127b,#54137d,#52137c,#59157e,#641a80,#681c81,#641a80,#641a80,#601880,#651a80,#6d1d81,#6e1e81,#6b1d81,#762181,#762181,#962c80,#932b80,#942c80,#9e2f7f,#942c80,#962c80,#a3307e,#9e2f7f,#8c2981,#8c2981,#912b81,#a5317e,#942c80,#962c80,#912b81,#a1307e,#a6317d,#982d80,#a6317d,#9b2e7f,#962c80,#8e2a81,#7e2482,#862781,#982d80,#a1307e,#a02f7f,#ae347b,#aa337d,#ca3e72,#d0416f,#c03a76,#c83e73,#cd4071,#c43c75,#e34e65,#e75263,#e34e65,#f3655c,#fc9065,#fea973,#fea973,#febf84,#fecc8f,#fed89a,#fed89a,#fde3a5,#fde2a3,#fecf92,#fed799,#fecf92,#fec287,#feca8d,#fed194,#feaa74,#feb77e,#febb81,#feb47b,#feac76,#fec287,#feaa74,#fec488,#fddea0,#fcfbbd,#fcfdbf,#fcf7b9,#fddea0,#fec68a,#fd9b6b,#f56b5c,#e75263,#d3436e,#cc3f71,#ca3e72,#d2426f,#d8456c,#e24d66,#ea5661,#e85362,#f1605d,#f7725c,#fa815f,#fd9266,#feaa74,#feb27a,#feb27a,#fed89a,#fecf92,#fcf4b6,#fcf7b9,#fcfdca,#fdfed8,#fefee9,#fefff4,#fff,#fff,#fff,#fff,#fff,#fff,#fff,#fff,#fff,#fff)"></i><i style="top:227px;height:8.3px;background:linear-gradient(90deg,#420f75,#451077,#36106b,#390f6e,#400f74,#4a1079,#3b0f70,#440f76,#38106c,#36106b,#451077,#390f6e,#440f76,#420f75,#4a1079,#3f0f72,#400f74,#420f75,#4c117a,#5a167e,#5a167e,#59157e,#5a167e,#671b80,#601880,#6d1d81,#762181,#7b2382,#802582,#882781,#8c2981,#8c2981,#812581,#802582,#902a81,#812581,#762181,#8c2981,#8c2981,#862781,#792282,#902a81,#902a81,#992d80,#982d80,#a3307e,#a02f7f,#9e2f7f,#942c80,#962c80,#9b2e7f,#9e2f7f,#a6317d,#a3307e,#9b2e7f,#bc3978,#b3367a,#c43c75,#c03a76,#c53c74,#ca3e72,#d0416f,#eb5760,#dc4869,#ee5b5e,#fb835f,#fd9668,#feb27a,#febb81,#fec88c,#fde2a3,#fed799,#fed799,#fed799,#feb77e,#feb078,#fea36f,#fe9d6c,#fd9467,#f9785d,#f7705c,#f2645c,#f05f5e,#f4675c,#e85362,#e95462,#d6456c,#e24d66,#e34e65,#e95462,#e44f64,#e55064,#e44f64,#e95462,#f4675c,#de4968,#dc4869,#e44f64,#dc4869,#e85362,#d8456c,#ea5661,#df4a68,#d6456c,#d8456c,#e75263,#ee5b5e,#f66e5c,#f56b5c,#fd9b6b,#fd9668,#fd9b6b,#fea36f,#fec88c,#feb77e,#fed194,#fde3a5,#fddc9e,#fcf4b6,#fcfbbd,#fdfed5,#fefee3,#fefeea,#fefff4,#fffffd,#fff,#fff,#fff,#fff,#fff,#fff)"></i><i style="top:235px;height:8.3px;background:linear-gradient(90deg,#390f6e,#2c115f,#311165,#3d0f71,#2c115f,#390f6e,#38106c,#331067,#341069,#3d0f71,#3d0f71,#400f74,#331067,#400f74,#341069,#390f6e,#471078,#390f6e,#3b0f70,#3b0f70,#451077,#4f127b,#4a1079,#54137d,#4a1079,#5a167e,#5d177f,#671b80,#671b80,#701f81,#7c2382,#721f81,#802582,#782281,#7e2482,#732081,#6e1e81,#802582,#812581,#7c2382,#832681,#802582,#862781,#8e2a81,#962c80,#b3367a,#ba3878,#ef5d5e,#ee5b5e,#e34e65,#de4968,#d2426f,#c73d73,#c03a76,#ba3878,#b3367a,#bd3977,#c53c74,#ca3e72,#b5367a,#ca3e72,#db476a,#d2426f,#ed5a5f,#e85362,#f4695c,#fa7d5e,#fea973,#feae77,#feb27a,#feb27a,#fd9b6b,#fe9d6c,#fc8e64,#fb8560,#f7725c,#fc8e64,#fc8961,#fb835f,#f2625d,#ee5b5e,#e04c67,#e44f64,#d3436e,#db476a,#d5446d,#d5446d,#d3436e,#c53c74,#d9466b,#cd4071,#df4a68,#e24d66,#d0416f,#cf4070,#d0416f,#d6456c,#d9466b,#d9466b,#d3436e,#db476a,#e85362,#d5446d,#e34e65,#d6456c,#e34e65,#f3655c,#f66e5c,#fa815f,#fb8761,#fb8761,#fd9869,#fe9d6c,#feb27a,#feb77e,#fec287,#feb97f,#fec488,#feca8d,#fed597,#fde0a1,#fcf4b6,#fcf7b9,#fcfdc9,#fdfdd1,#fdfeda,#fefeeb,#fefff4,#fffff8,#fffffc,#fff)"></i><i style="top:243px;height:8.3px;background:linear-gradient(90deg,#400f74,#3d0f71,#440f76,#451077,#420f75,#390f6e,#36106b,#3d0f71,#3f0f72,#420f75,#3b0f70,#38106c,#3f0f72,#400f74,#3b0f70,#2f1163,#341069,#451077,#2c115f,#311165,#3d0f71,#2f1163,#36106b,#451077,#440f76,#311165,#4a1079,#4f127b,#51127c,#6d1d81,#6d1d81,#721f81,#6d1d81,#7b2382,#7c2382,#7e2482,#8b2981,#802582,#7c2382,#862781,#882781,#8e2a81,#7b2382,#a02f7f,#b83779,#c03a76,#cc3f71,#f56b5c,#fc8961,#fb8560,#f66e5c,#e85362,#cc3f71,#c83e73,#cc3f71,#c73d73,#bf3a77,#cc3f71,#bd3977,#cf4070,#c43c75,#d0416f,#d2426f,#de4968,#e55064,#e24d66,#f1605d,#f7705c,#f8765c,#fa7f5e,#fc8961,#f4695c,#f4695c,#eb5760,#e24d66,#db476a,#df4a68,#dc4869,#de4968,#db476a,#cf4070,#cc3f71,#bc3978,#c23b75,#b5367a,#b3367a,#bd3977,#b5367a,#bf3a77,#c43c75,#ca3e72,#d6456c,#e55064,#f1605d,#f7725c,#fc8961,#f66e5c,#ef5d5e,#e95462,#e44f64,#de4968,#d9466b,#e55064,#d6456c,#d9466b,#dc4869,#db476a,#e04c67,#f05f5e,#f66e5c,#f56b5c,#fa7d5e,#fc8e64,#fc9065,#fd9467,#fe9f6d,#fea16e,#fea571,#feb77e,#feb67c,#febf84,#fecf92,#fecd90,#fde7a9,#fde5a7,#fceeb0,#fcfdc0,#fcfdc9,#fdfed3,#fdfedd,#fdfedd)"></i><i style="top:251px;height:8.3px;background:linear-gradient(90deg,#21114e,#1e1149,#21114e,#2d1161,#2c115f,#2d1161,#311165,#2c115f,#3b0f70,#2c115f,#38106c,#2c115f,#271258,#3b0f70,#271258,#2d1161,#21114e,#20114b,#2a115c,#251255,#271258,#2c115f,#2f1163,#341069,#341069,#38106c,#3f0f72,#491078,#5a167e,#4e117b,#6d1d81,#6a1c81,#6e1e81,#6e1e81,#6d1d81,#782281,#6d1d81,#721f81,#732081,#882781,#802582,#812581,#7c2382,#912b81,#a02f7f,#982d80,#a8327d,#b0357b,#bd3977,#c43c75,#cd4071,#c03a76,#c43c75,#c03a76,#cd4071,#c73d73,#ca3e72,#c83e73,#bf3a77,#bc3978,#bf3a77,#c03a76,#c03a76,#c03a76,#c23b75,#d0416f,#c73d73,#d2426f,#cf4070,#d3436e,#c73d73,#c53c74,#c03a76,#c73d73,#c23b75,#c03a76,#bf3a77,#cd4071,#b83779,#a3307e,#a1307e,#a02f7f,#a3307e,#982d80,#a02f7f,#942c80,#a02f7f,#9c2e7f,#a6317d,#a5317e,#aa337d,#cd4071,#c73d73,#e34e65,#f05f5e,#fc8961,#fc8961,#fa7f5e,#f1605d,#f4675c,#ef5d5e,#d3436e,#de4968,#e24d66,#de4968,#d8456c,#df4a68,#df4a68,#ea5661,#e24d66,#f05f5e,#f1605d,#ee5b5e,#f3655c,#f9785d,#fb8560,#fc8961,#fea571,#fd9a6a,#fd9869,#feaa74,#feac76,#fea571,#feca8d,#febf84,#fec68a,#fde5a7,#fdda9c,#fde2a3,#fcf4b6,#fcfdc0)"></i><i style="top:259px;height:8.3px;background:linear-gradient(90deg,#180f3d,#1c1044,#1e1149,#251255,#221150,#29115a,#19103f,#21114e,#2a115c,#180f3d,#29115a,#1d1147,#221150,#1c1044,#251255,#251255,#21114e,#2f1163,#20114b,#2f1163,#221150,#341069,#36106b,#2c115f,#400f74,#36106b,#2d1161,#38106c,#440f76,#420f75,#4e117b,#56147d,#57157e,#59157e,#5c167f,#621980,#6e1e81,#641a80,#6a1c81,#732081,#6a1c81,#7b2382,#762181,#7b2382,#762181,#862781,#a02f7f,#9b2e7f,#b73779,#c53c74,#cc3f71,#d3436e,#d5446d,#d8456c,#d6456c,#bf3a77,#c73d73,#bd3977,#a6317d,#b0357b,#aa337d,#a5317e,#bd3977,#ab337c,#a6317d,#ab337c,#c83e73,#c73d73,#c43c75,#b83779,#c03a76,#bd3977,#c23b75,#b2357b,#bf3a77,#c03a76,#b0357b,#ad347c,#b2357b,#a6317d,#ad347c,#ab337c,#b83779,#a6317d,#ab337c,#b73779,#a1307e,#b5367a,#aa337d,#b3367a,#b2357b,#b83779,#9e2f7f,#b5367a,#ad347c,#c03a76,#c43c75,#d0416f,#e44f64,#e44f64,#ed5a5f,#f56b5c,#f66e5c,#fa815f,#f8745c,#f66e5c,#f97b5d,#f7725c,#f8745c,#f8745c,#f7725c,#f9785d,#fc9065,#fb8560,#fc8a62,#fd9467,#fc8e64,#fc8961,#fc8c63,#fd9266,#fea36f,#fe9d6c,#fea36f,#feb47b,#feb67c,#febb81,#fec287,#fed395,#fec88c,#fecf92,#fcecae)"></i><i style="top:267px;height:8.3px;background:linear-gradient(90deg,#0b0924,#0a0822,#120d31,#0e0b2b,#100b2d,#110c2f,#0d0a29,#130d34,#0d0a29,#150e38,#160f3b,#110c2f,#180f3d,#150e38,#1c1044,#150e38,#100b2d,#110c2f,#1e1149,#19103f,#20114b,#19103f,#1e1149,#160f3b,#29115a,#2f1163,#251255,#331067,#2c115f,#38106c,#36106b,#38106c,#471078,#390f6e,#5a167e,#451077,#471078,#5c167f,#56147d,#641a80,#59157e,#701f81,#721f81,#641a80,#7c2382,#732081,#812581,#862781,#962c80,#a02f7f,#a3307e,#ae347b,#ae347b,#b0357b,#a3307e,#aa337d,#9e2f7f,#a02f7f,#982d80,#942c80,#932b80,#aa337d,#982d80,#a5317e,#a02f7f,#b5367a,#b73779,#b5367a,#b73779,#ab337c,#a8327d,#b5367a,#ae347b,#a1307e,#ab337c,#a3307e,#a3307e,#ad347c,#ad347c,#ab337c,#aa337d,#a5317e,#ab337c,#ab337c,#a8327d,#bc3978,#a8327d,#aa337d,#a3307e,#a8327d,#aa337d,#ae347b,#942c80,#b5367a,#b3367a,#b83779,#b73779,#ba3878,#c83e73,#e04c67,#e95462,#ed5a5f,#f3655c,#ec5860,#eb5760,#f66c5c,#f8765c,#f97b5d,#fa7f5e,#f9785d,#f3655c,#f9785d,#fb8560,#f97b5d,#fb8560,#fb8761,#f97b5d,#fc8a62,#fc8961,#fa7f5e,#fd9668,#fb8761,#fd9668,#fd9a6a,#fd9467,#fd9668,#fea571,#fea772,#feb27a,#feb27a,#febf84)"></i><i style="top:275px;height:8.3px;background:linear-gradient(90deg,#090720,#0b0924,#07061c,#060518,#0b0924,#0a0822,#090720,#100b2d,#08071e,#0b0924,#0e0b2b,#0c0926,#0c0926,#0e0b2b,#0c0926,#090720,#0b0924,#120d31,#120d31,#0c0926,#120d31,#140e36,#150e38,#19103f,#180f3d,#140e36,#140e36,#1a1042,#140e36,#140e36,#221150,#271258,#271258,#29115a,#20114b,#241253,#2c115f,#420f75,#390f6e,#420f75,#3f0f72,#54137d,#400f74,#5f187f,#57157e,#491078,#601880,#681c81,#6d1d81,#721f81,#701f81,#732081,#792282,#782281,#8c2981,#7b2382,#842681,#7c2382,#701f81,#832681,#7c2382,#762181,#752181,#792282,#862781,#7b2382,#732081,#7c2382,#762181,#802582,#7e2482,#812581,#7e2482,#7c2382,#732081,#7e2482,#862781,#752181,#862781,#7c2382,#7c2382,#7e2482,#842681,#7e2482,#7c2382,#721f81,#812581,#6d1d81,#7b2382,#7b2382,#812581,#7c2382,#902a81,#8c2981,#a3307e,#a3307e,#ae347b,#ba3878,#c43c75,#d2426f,#e75263,#ea5661,#f1605d,#ed5a5f,#eb5760,#e55064,#ed5a5f,#f05f5e,#f66e5c,#ec5860,#f2645c,#f9785d,#fb8560,#fa815f,#fb8761,#fd9266,#fd9b6b,#fea16e,#fd9668,#fd9869,#fb8761,#fa7f5e,#fc8961,#fc8e64,#fb8761,#f7725c,#fc8a62,#fd9266,#fc8961,#fb8560,#fc8a62)"></i><i style="top:283px;height:8.3px;background:linear-gradient(90deg,#120d31,#1d1147,#150e38,#150e38,#150e38,#150e38,#180f3d,#150e38,#180f3d,#140e36,#130d34,#100b2d,#160f3b,#1c1044,#19103f,#1a1042,#150e38,#140e36,#140e36,#130d34,#1c1044,#1e1149,#150e38,#1c1044,#130d34,#1c1044,#1e1149,#180f3d,#221150,#1a1042,#1e1149,#271258,#160f3b,#221150,#20114b,#2a115c,#221150,#241253,#2c115f,#390f6e,#2c115f,#2c115f,#311165,#420f75,#311165,#3b0f70,#440f76,#471078,#52137c,#52137c,#4f127b,#721f81,#6e1e81,#681c81,#6a1c81,#6b1d81,#651a80,#6d1d81,#782281,#7b2382,#862781,#802582,#7e2482,#8c2981,#8c2981,#7b2382,#7b2382,#832681,#792282,#802582,#792282,#892881,#912b81,#752181,#7b2382,#882781,#842681,#832681,#792282,#762181,#802582,#892881,#892881,#932b80,#732081,#802582,#802582,#8b2981,#782281,#882781,#7c2382,#9b2e7f,#942c80,#962c80,#a3307e,#a3307e,#b2357b,#b73779,#bc3978,#cf4070,#d2426f,#d9466b,#df4a68,#d8456c,#db476a,#e75263,#ea5661,#ec5860,#f66c5c,#f66c5c,#f8765c,#fb8560,#fc8c63,#fd9a6a,#fd9467,#fe9f6d,#fea16e,#fe9d6c,#fe9f6d,#fea973,#feae77,#fea16e,#fea16e,#fea36f,#feaa74,#fea772,#feae77,#feb078,#feaa74,#fe9f6d,#feaa74)"></i><i style="top:291px;height:8.3px;background:linear-gradient(90deg,#0d0a29,#0d0a29,#120d31,#0d0a29,#110c2f,#0d0a29,#0c0926,#130d34,#0a0822,#130d34,#0b0924,#110c2f,#100b2d,#100b2d,#0e0b2b,#0d0a29,#0e0b2b,#130d34,#120d31,#160f3b,#130d34,#110c2f,#100b2d,#0e0b2b,#130d34,#0e0b2b,#0e0b2b,#0d0a29,#110c2f,#19103f,#0e0b2b,#0a0822,#0c0926,#120d31,#0d0a29,#0d0a29,#110c2f,#100b2d,#100b2d,#160f3b,#130d34,#19103f,#251255,#130d34,#2c115f,#1a1042,#2c115f,#21114e,#331067,#341069,#3b0f70,#3f0f72,#54137d,#56147d,#491078,#4c117a,#5c167f,#59157e,#752181,#762181,#752181,#671b80,#721f81,#802582,#732081,#7b2382,#732081,#762181,#721f81,#732081,#6d1d81,#762181,#732081,#802582,#721f81,#832681,#862781,#832681,#752181,#782281,#832681,#832681,#7e2482,#7e2482,#782281,#762181,#762181,#782281,#7b2382,#792282,#7e2482,#962c80,#982d80,#912b81,#b3367a,#942c80,#b3367a,#bc3978,#bc3978,#bd3977,#ca3e72,#db476a,#df4a68,#df4a68,#de4968,#df4a68,#e95462,#ea5661,#f05f5e,#f7725c,#f66e5c,#fa815f,#fc8961,#fc8c63,#feaa74,#fe9f6d,#fea973,#feaa74,#feb97f,#fec185,#fecd90,#fed194,#fed395,#fecd90,#fed395,#fecc8f,#fec68a,#fed89a,#fec88c,#fed799,#fde2a3)"></i><i style="top:299px;height:8.3px;background:linear-gradient(90deg,#21114e,#2a115c,#221150,#21114e,#251255,#2d1161,#1c1044,#241253,#1e1149,#241253,#251255,#19103f,#1a1042,#241253,#20114b,#19103f,#1c1044,#1e1149,#1d1147,#100b2d,#140e36,#1d1147,#130d34,#130d34,#140e36,#140e36,#130d34,#130d34,#0e0b2b,#120d31,#120d31,#100b2d,#0e0b2b,#0c0926,#100b2d,#0b0924,#0d0a29,#0e0b2b,#08071e,#100b2d,#0a0822,#0c0926,#0c0926,#100b2d,#130d34,#180f3d,#130d34,#19103f,#20114b,#1d1147,#1e1149,#271258,#2f1163,#311165,#271258,#36106b,#390f6e,#4a1079,#420f75,#451077,#56147d,#4a1079,#5d177f,#621980,#5a167e,#5a167e,#59157e,#641a80,#5a167e,#5c167f,#671b80,#681c81,#671b80,#701f81,#752181,#7b2382,#792282,#792282,#732081,#802582,#752181,#762181,#782281,#752181,#7c2382,#802582,#7b2382,#782281,#882781,#8c2981,#a5317e,#b3367a,#bf3a77,#db476a,#f66c5c,#fa7f5e,#f66e5c,#f2645c,#e24d66,#c53c74,#cd4071,#d3436e,#d0416f,#e24d66,#c83e73,#db476a,#e04c67,#e44f64,#e95462,#f1605d,#f66c5c,#f8765c,#fb8761,#fc8a62,#fc9065,#fe9f6d,#feb97f,#feb67c,#fec287,#fed597,#fde0a1,#fde5a7,#fcf4b6,#fcfdc2,#fcfdc9,#fcfdc0,#fcf7b9,#fcf9bb,#fcf9bb,#fcfdc1,#fcfdc7)"></i><i style="top:307px;height:8.3px;background:linear-gradient(90deg,#420f75,#451077,#56147d,#36106b,#491078,#3f0f72,#3b0f70,#3d0f71,#3d0f71,#4e117b,#420f75,#491078,#311165,#440f76,#38106c,#390f6e,#29115a,#311165,#2a115c,#251255,#241253,#221150,#221150,#1a1042,#221150,#160f3b,#160f3b,#130d34,#0d0a29,#20114b,#1e1149,#140e36,#130d34,#110c2f,#140e36,#130d34,#0e0b2b,#120d31,#0c0926,#100b2d,#130d34,#110c2f,#100b2d,#0e0b2b,#160f3b,#100b2d,#0a0822,#110c2f,#0b0924,#130d34,#130d34,#1a1042,#1c1044,#160f3b,#1a1042,#21114e,#1c1044,#20114b,#341069,#251255,#331067,#491078,#38106c,#4e117b,#36106b,#331067,#400f74,#3d0f71,#3d0f71,#420f75,#51127c,#5c167f,#4a1079,#56147d,#5f187f,#57157e,#5f187f,#52137c,#621980,#5d177f,#5a167e,#5c167f,#641a80,#51127c,#5c167f,#52137c,#52137c,#6e1e81,#732081,#7b2382,#8c2981,#9e2f7f,#c53c74,#d6456c,#f1605d,#f9785d,#f97b5d,#ed5a5f,#eb5760,#e44f64,#db476a,#d2426f,#c73d73,#ca3e72,#d2426f,#d0416f,#cc3f71,#de4968,#e04c67,#de4968,#de4968,#e95462,#f05f5e,#f4695c,#f97b5d,#f8765c,#fd9668,#fea16e,#feb67c,#feb27a,#fec287,#fecc8f,#fec68a,#fcf4b6,#fde7a9,#fceeb0,#fcf0b2,#fcf2b4,#fcf7b9,#fcf2b4,#fcfdc1)"></i><i style="top:315px;height:8.3px;background:linear-gradient(90deg,#54137d,#56147d,#601880,#59157e,#671b80,#601880,#5d177f,#5c167f,#51127c,#681c81,#651a80,#57157e,#57157e,#4a1079,#5c167f,#54137d,#52137c,#4e117b,#4e117b,#4a1079,#491078,#451077,#420f75,#52137c,#54137d,#2f1163,#3b0f70,#331067,#2f1163,#38106c,#160f3b,#2d1161,#19103f,#21114e,#1a1042,#160f3b,#160f3b,#110c2f,#1c1044,#0d0a29,#0c0926,#110c2f,#110c2f,#140e36,#0e0b2b,#0b0924,#0e0b2b,#100b2d,#130d34,#180f3d,#150e38,#150e38,#1d1147,#180f3d,#1d1147,#21114e,#1e1149,#2c115f,#241253,#36106b,#29115a,#2a115c,#271258,#341069,#3b0f70,#2c115f,#2f1163,#3b0f70,#4a1079,#51127c,#4f127b,#59157e,#601880,#681c81,#57157e,#4e117b,#51127c,#5c167f,#451077,#400f74,#3f0f72,#2a115c,#390f6e,#29115a,#1d1147,#241253,#21114e,#38106c,#420f75,#471078,#5d177f,#782281,#962c80,#982d80,#a8327d,#aa337d,#ba3878,#c53c74,#c03a76,#b73779,#a5317e,#b2357b,#b83779,#bf3a77,#c73d73,#c83e73,#c53c74,#cd4071,#c43c75,#ca3e72,#de4968,#de4968,#e75263,#eb5760,#ef5d5e,#f05f5e,#f66e5c,#f7725c,#fb8761,#fd9869,#fe9d6c,#feb97f,#feb67c,#fecd90,#fec287,#fddea0,#fed799,#fddea0,#fde2a3,#fceeb0,#fcf6b8)"></i><i style="top:323px;height:8.3px;background:linear-gradient(90deg,#6d1d81,#802582,#762181,#681c81,#701f81,#6e1e81,#721f81,#701f81,#651a80,#7c2382,#762181,#721f81,#752181,#6e1e81,#651a80,#621980,#6d1d81,#621980,#641a80,#5d177f,#681c81,#5f187f,#621980,#5c167f,#54137d,#5d177f,#57157e,#4e117b,#56147d,#54137d,#52137c,#471078,#3b0f70,#36106b,#21114e,#1e1149,#19103f,#0e0b2b,#160f3b,#160f3b,#120d31,#150e38,#0d0a29,#130d34,#120d31,#0e0b2b,#110c2f,#110c2f,#100b2d,#100b2d,#120d31,#1a1042,#130d34,#1a1042,#2c115f,#221150,#21114e,#20114b,#160f3b,#2c115f,#311165,#2a115c,#271258,#311165,#2c115f,#3d0f71,#38106c,#420f75,#38106c,#38106c,#331067,#4a1079,#400f74,#57157e,#471078,#3f0f72,#271258,#331067,#29115a,#251255,#160f3b,#160f3b,#140e36,#120d31,#100b2d,#0b0924,#0a0822,#0b0924,#0c0926,#0b0924,#0a0822,#130d34,#20114b,#3f0f72,#4e117b,#6a1c81,#842681,#902a81,#992d80,#a5317e,#aa337d,#b2357b,#b3367a,#b3367a,#b0357b,#bd3977,#bc3978,#b83779,#b83779,#c43c75,#d3436e,#c83e73,#d0416f,#cf4070,#d3436e,#e75263,#e85362,#e55064,#f4695c,#f4695c,#fa7f5e,#fc8c63,#fc8e64,#fd9668,#feb47b,#fec68a,#fec287,#febd82,#fecd90,#fddea0,#fecf92)"></i><i style="top:331px;height:8.3px;background:linear-gradient(90deg,#54137d,#56147d,#5c167f,#701f81,#671b80,#732081,#6d1d81,#6e1e81,#701f81,#701f81,#782281,#752181,#721f81,#721f81,#601880,#641a80,#5d177f,#621980,#6e1e81,#601880,#601880,#621980,#5d177f,#671b80,#6b1d81,#721f81,#6b1d81,#701f81,#752181,#6b1d81,#6d1d81,#681c81,#5a167e,#4a1079,#3f0f72,#311165,#241253,#241253,#1a1042,#130d34,#19103f,#160f3b,#1a1042,#130d34,#1a1042,#1e1149,#140e36,#140e36,#140e36,#150e38,#180f3d,#1c1044,#19103f,#20114b,#19103f,#1d1147,#251255,#29115a,#2f1163,#331067,#341069,#241253,#2d1161,#331067,#3b0f70,#420f75,#4a1079,#3b0f70,#2c115f,#341069,#420f75,#440f76,#38106c,#451077,#38106c,#36106b,#150e38,#1d1147,#150e38,#130d34,#100b2d,#0c0926,#0b0924,#07061c,#040414,#08071e,#050416,#030312,#050416,#030312,#050416,#08071e,#08071e,#140e36,#21114e,#4a1079,#59157e,#782281,#812581,#962c80,#932b80,#982d80,#a8327d,#ad347c,#ab337c,#b5367a,#b2357b,#ba3878,#b3367a,#c23b75,#bc3978,#c53c74,#c23b75,#c83e73,#cc3f71,#d0416f,#dc4869,#e34e65,#e04c67,#dc4869,#e85362,#e85362,#f4695c,#f4695c,#f7725c,#fb835f,#fc8961,#fe9d6c,#fea571,#fe9f6d,#feb47b)"></i><i style="top:339px;height:8.3px;background:linear-gradient(90deg,#140e36,#1a1042,#110c2f,#221150,#1a1042,#1c1044,#251255,#1d1147,#29115a,#1c1044,#341069,#390f6e,#36106b,#2a115c,#3d0f71,#3f0f72,#3d0f71,#3d0f71,#440f76,#451077,#4e117b,#57157e,#54137d,#5c167f,#5c167f,#5a167e,#641a80,#641a80,#6d1d81,#792282,#641a80,#6e1e81,#5c167f,#621980,#56147d,#5d177f,#5f187f,#440f76,#420f75,#2d1161,#2a115c,#2a115c,#1c1044,#1e1149,#19103f,#221150,#241253,#20114b,#271258,#1c1044,#29115a,#271258,#20114b,#21114e,#251255,#331067,#38106c,#341069,#3f0f72,#3b0f70,#3b0f70,#4f127b,#4e117b,#451077,#4f127b,#5d177f,#601880,#5f187f,#59157e,#641a80,#701f81,#671b80,#621980,#4c117a,#491078,#451077,#3d0f71,#311165,#1d1147,#221150,#1a1042,#130d34,#160f3b,#1a1042,#100b2d,#0d0a29,#100b2d,#110c2f,#0a0822,#090720,#0a0822,#120d31,#110c2f,#150e38,#241253,#38106c,#4e117b,#6b1d81,#802582,#7b2382,#962c80,#8b2981,#8c2981,#a02f7f,#aa337d,#b2357b,#ab337c,#ab337c,#bc3978,#a1307e,#bd3977,#bc3978,#b3367a,#bc3978,#cd4071,#b0357b,#c43c75,#bf3a77,#cd4071,#d3436e,#d8456c,#df4a68,#e44f64,#e55064,#e04c67,#e75263,#f2625d,#ee5b5e,#f56b5c,#f7725c,#ec5860)"></i><i style="top:347px;height:8.3px;background:linear-gradient(90deg,#0d0a29,#0b0924,#0c0926,#0d0a29,#0e0b2b,#100b2d,#0b0924,#0e0b2b,#0e0b2b,#140e36,#1c1044,#21114e,#271258,#2c115f,#341069,#420f75,#491078,#56147d,#6b1d81,#762181,#752181,#762181,#6e1e81,#7e2482,#802582,#782281,#732081,#782281,#701f81,#601880,#6d1d81,#651a80,#671b80,#52137c,#491078,#471078,#420f75,#36106b,#3d0f71,#2c115f,#1d1147,#2a115c,#21114e,#241253,#1e1149,#160f3b,#2d1161,#271258,#271258,#2f1163,#3f0f72,#3d0f71,#3f0f72,#56147d,#641a80,#812581,#9b2e7f,#b83779,#cd4071,#ed5a5f,#fa7d5e,#feaa74,#fec287,#fed395,#fcecae,#fcf6b8,#fcf6b8,#fcf2b4,#fcf9bb,#fdfed4,#fcfdbf,#fcf9bb,#fcf7b9,#fde7a9,#fdebac,#feca8d,#fec287,#fea772,#f66c5c,#db476a,#b0357b,#912b81,#721f81,#57157e,#471078,#251255,#160f3b,#130d34,#130d34,#110c2f,#100b2d,#07061c,#19103f,#160f3b,#251255,#29115a,#4a1079,#4f127b,#601880,#5c167f,#6d1d81,#7c2382,#7c2382,#982d80,#962c80,#9c2e7f,#9c2e7f,#ab337c,#a5317e,#9e2f7f,#ab337c,#a8327d,#b3367a,#b83779,#b5367a,#b73779,#ae347b,#b73779,#ca3e72,#ba3878,#b5367a,#c53c74,#d3436e,#d3436e,#d0416f,#d3436e,#d3436e,#dc4869,#de4968,#df4a68,#d6456c)"></i><i style="top:355px;height:4.3px;background:linear-gradient(90deg,#02020d,#03030f,#030312,#060518,#06051a,#06051a,#0a0822,#090720,#0a0822,#0e0b2b,#100b2d,#1a1042,#1e1149,#241253,#2d1161,#331067,#36106b,#4a1079,#52137c,#601880,#6e1e81,#6e1e81,#721f81,#7c2382,#681c81,#641a80,#6e1e81,#6a1c81,#6b1d81,#57157e,#51127c,#641a80,#601880,#56147d,#400f74,#5d177f,#59157e,#54137d,#3b0f70,#471078,#3d0f71,#420f75,#4a1079,#3f0f72,#36106b,#36106b,#420f75,#38106c,#3b0f70,#390f6e,#38106c,#38106c,#341069,#681c81,#802582,#932b80,#b83779,#bf3a77,#e34e65,#f7725c,#fd9b6b,#fe9f6d,#feaa74,#fec185,#feb47b,#fec287,#febb81,#febd82,#feb77e,#feaa74,#feb078,#fea36f,#feaa74,#fea16e,#fd9467,#fc8961,#fa7f5e,#f9795d,#f66c5c,#db476a,#b83779,#9b2e7f,#802582,#671b80,#5a167e,#52137c,#491078,#311165,#2f1163,#251255,#29115a,#2f1163,#36106b,#451077,#36106b,#4a1079,#400f74,#54137d,#51127c,#4e117b,#6b1d81,#641a80,#721f81,#782281,#862781,#862781,#9b2e7f,#a5317e,#aa337d,#ab337c,#a02f7f,#a6317d,#ad347c,#ae347b,#ae347b,#a3307e,#b3367a,#bf3a77,#bd3977,#d0416f,#a8327d,#b73779,#ba3878,#cd4071,#d3436e,#c23b75,#cd4071,#d5446d,#d5446d,#d8456c,#d3436e)"></i></div>
<div style="position:absolute;left:417.0px;top:24.2px;width:95px;height:10px;background:linear-gradient(90deg,#331067 0.0%,#440f76 4.3%,#54137d 8.7%,#651a80 13.0%,#752181 17.4%,#842681 21.7%,#962c80 26.1%,#a6317d 30.4%,#b73779 34.8%,#c73d73 39.1%,#d8456c 43.5%,#e55064 47.8%,#f05f5e 52.2%,#f8745c 56.5%,#fc8c63 60.9%,#fea36f 65.2%,#febb81 69.6%,#fed395 73.9%,#fde9aa 78.3%,#fcf7b9 82.6%,#fcfdca 87.0%,#fdfedc 91.3%,#fefeee 95.7%,#fff 100.0%)"></div>
<div style="position:absolute;left:1167.0px;top:24.2px;width:95px;height:10px;background:linear-gradient(90deg,#331067 0.0%,#440f76 4.3%,#54137d 8.7%,#651a80 13.0%,#752181 17.4%,#842681 21.7%,#962c80 26.1%,#a6317d 30.4%,#b73779 34.8%,#c73d73 39.1%,#d8456c 43.5%,#e55064 47.8%,#f05f5e 52.2%,#f8745c 56.5%,#fc8c63 60.9%,#fea36f 65.2%,#febb81 69.6%,#fed395 73.9%,#fde9aa 78.3%,#fcf7b9 82.6%,#fcfdca 87.0%,#fdfedc 91.3%,#fefeee 95.7%,#fff 100.0%)"></div>
<svg width="1412" height="477" viewBox="0 0 1412 477">
<text x="132.0" y="118.3" font-size="29.5" text-anchor="end" >1.108</text>
<rect x="135.5" y="108.3" width="7.5" height="2" fill="#fff"/>
<text x="132.0" y="227.9" font-size="29.5" text-anchor="end" >1.107</text>
<rect x="135.5" y="217.9" width="7.5" height="2" fill="#fff"/>
<text x="132.0" y="337.5" font-size="29.5" text-anchor="end" >1.106</text>
<rect x="135.5" y="327.5" width="7.5" height="2" fill="#fff"/>
<rect x="650.3" y="108.3" width="8.2" height="2" fill="#fff"/>
<rect x="650.3" y="217.9" width="10.2" height="2" fill="#111"/>
<rect x="650.3" y="327.5" width="10.2" height="2" fill="#111"/>
<rect x="161.0" y="56" width="2" height="7.5" fill="#fff"/>
<rect x="161.0" y="407.5" width="2" height="7.5" fill="#fff"/>
<text x="116.7" y="446.7" font-size="29.7" text-anchor="start" >-0.55</text>
<rect x="299.5" y="56" width="2" height="7.5" fill="#fff"/>
<rect x="299.5" y="407.5" width="2" height="7.5" fill="#fff"/>
<text x="264.7" y="446.7" font-size="29.7" text-anchor="start" >-0.6</text>
<rect x="438.0" y="56" width="2" height="7.5" fill="#fff"/>
<rect x="438.0" y="407.5" width="2" height="7.5" fill="#fff"/>
<text x="401.5" y="446.7" font-size="29.7" text-anchor="start" >-0.65</text>
<rect x="576.0" y="56" width="2" height="7.5" fill="#fff"/>
<rect x="576.0" y="407.5" width="2" height="7.5" fill="#fff"/>
<text x="549.6" y="446.7" font-size="29.7" text-anchor="start" >-0.7</text>
<text transform="translate(21.7,309.3) rotate(-90)" font-size="29">Energy (eV)</text>
<text x="372.5" y="478.5" font-size="31" class="nu">ν</text>
<text x="271.6" y="31.9" font-size="24.7" text-anchor="start"  textLength="129.0" lengthAdjust="spacingAndGlyphs">PL (counts)</text>
<text x="416.6" y="17.3" font-size="24.7" text-anchor="middle" >0</text>
<text x="516.0" y="17.3" font-size="24.7" text-anchor="middle" >600</text>
<text x="882.0" y="118.3" font-size="29.5" text-anchor="end" >1.108</text>
<rect x="886.0" y="108.3" width="7.5" height="2" fill="#fff"/>
<text x="882.0" y="227.9" font-size="29.5" text-anchor="end" >1.107</text>
<rect x="886.0" y="217.9" width="7.5" height="2" fill="#fff"/>
<text x="882.0" y="337.5" font-size="29.5" text-anchor="end" >1.106</text>
<rect x="886.0" y="327.5" width="7.5" height="2" fill="#fff"/>
<rect x="1400.8" y="108.3" width="8.2" height="2" fill="#fff"/>
<rect x="1400.8" y="217.9" width="10.2" height="2" fill="#111"/>
<rect x="1400.8" y="327.5" width="10.2" height="2" fill="#111"/>
<rect x="911.0" y="56" width="2" height="7.5" fill="#fff"/>
<rect x="911.0" y="407.5" width="2" height="7.5" fill="#fff"/>
<text x="866.7" y="446.7" font-size="29.7" text-anchor="start" >-0.55</text>
<rect x="1049.5" y="56" width="2" height="7.5" fill="#fff"/>
<rect x="1049.5" y="407.5" width="2" height="7.5" fill="#fff"/>
<text x="1014.7" y="446.7" font-size="29.7" text-anchor="start" >-0.6</text>
<rect x="1188.0" y="56" width="2" height="7.5" fill="#fff"/>
<rect x="1188.0" y="407.5" width="2" height="7.5" fill="#fff"/>
<text x="1151.5" y="446.7" font-size="29.7" text-anchor="start" >-0.65</text>
<rect x="1326.0" y="56" width="2" height="7.5" fill="#fff"/>
<rect x="1326.0" y="407.5" width="2" height="7.5" fill="#fff"/>
<text x="1299.6" y="446.7" font-size="29.7" text-anchor="start" >-0.7</text>
<text transform="translate(771.7,309.3) rotate(-90)" font-size="29">Energy (eV)</text>
<text x="1122.5" y="478.5" font-size="31" class="nu">ν</text>
<text x="1021.6" y="31.9" font-size="24.7" text-anchor="start"  textLength="129.0" lengthAdjust="spacingAndGlyphs">PL (counts)</text>
<text x="1166.6" y="17.3" font-size="24.7" text-anchor="middle" >0</text>
<text x="1266.0" y="17.3" font-size="24.7" text-anchor="middle" >850</text>
<text x="2.2" y="32.3" font-size="33" font-weight="bold" style="fill:#000">a</text>
<text x="752" y="32.2" font-size="33" font-weight="bold" style="fill:#000">b</text>
<rect x="233" y="211.5" width="2" height="7.5" fill="#fff"/>
<rect x="274.3" y="232.0" width="86.3" height="119.6" fill="none" stroke="#fff" stroke-width="2.3" stroke-dasharray="5.6 2.8"/>
<rect x="448.0" y="250.0" width="84.0" height="144.0" fill="none" stroke="#fff" stroke-width="2.3" stroke-dasharray="5.6 2.8"/>
<rect x="1012.0" y="172.0" width="100.3" height="165.3" fill="none" stroke="#fff" stroke-width="2.3" stroke-dasharray="5.6 2.8"/>
<rect x="1184.6" y="194.8" width="106.0" height="197.2" fill="none" stroke="#fff" stroke-width="2.3" stroke-dasharray="5.6 2.8"/>
<path d="M537.3 365.2 L557.9 356.8 L555.1 362.9 L620.6 362.9 L620.6 367.4 L555.1 367.4 L557.9 373.6 Z" fill="#fff"/>
<path d="M1290.6 365.2 L1311.2 356.8 L1308.4 362.9 L1373.8 362.9 L1373.8 367.4 L1308.4 367.4 L1311.2 373.6 Z" fill="#fff"/>
<path d="M1290.4 306.4 L1311.0 298.0 L1308.2 304.1 L1373.8 304.1 L1373.8 308.6 L1308.2 308.6 L1311.0 314.8 Z" fill="#7dba3f"/>
</svg>
</body></html>
